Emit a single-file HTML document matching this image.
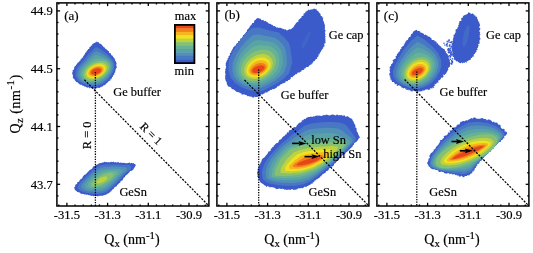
<!DOCTYPE html>
<html><head><meta charset="utf-8"><style>
html,body{margin:0;padding:0;background:#fff;width:533px;height:253px;overflow:hidden;}
svg{display:block;filter:blur(0.3px);}
text{font-family:"Liberation Serif",serif;fill:#000;stroke:#000;stroke-width:0.18px;}
.t{font-size:12.4px;}
.n{font-size:12.6px;}
.p{font-size:13px;}
.ax{font-size:14px;}
.ss{font-size:10.8px;}
</style></head><body>
<svg width="533" height="253" viewBox="0 0 533 253">
<rect width="533" height="253" fill="#fff"/>
<path d="M114.9,71.3 115.4,72.0 115.1,72.5 114.4,72.8 114.5,73.3 114.2,73.8 114.2,74.3 114.1,74.8 113.3,74.9 112.9,75.3 113.4,76.1 112.8,76.3 112.8,76.9 111.9,76.9 112.0,77.5 112.0,78.0 111.4,78.1 111.7,78.9 111.4,79.3 110.5,79.2 110.3,79.5 110.4,80.2 110.3,80.8 109.6,80.7 109.2,80.8 109.0,81.3 108.4,81.3 108.2,81.7 108.1,82.2 107.8,82.5 107.3,82.6 107.0,82.9 106.7,83.1 106.5,83.6 106.1,83.8 105.6,83.9 105.8,84.8 105.3,84.7 104.9,85.0 104.3,84.8 104.3,85.7 103.9,85.8 103.2,85.3 102.9,85.7 102.7,86.3 102.4,86.4 102.1,86.8 101.5,86.6 101.3,87.2 100.8,87.2 100.3,87.1 100.0,87.5 99.6,87.9 99.2,88.0 98.7,87.7 98.3,87.9 97.7,87.5 97.4,87.8 97.0,88.4 96.5,88.2 96.0,88.0 95.7,88.5 95.2,88.8 94.7,88.8 94.3,88.5 93.8,88.5 93.4,88.5 92.9,88.7 92.5,88.4 92.1,88.2 91.6,88.2 91.2,87.7 90.8,87.6 90.2,88.2 89.7,88.4 89.3,87.9 88.8,87.6 88.4,87.3 87.9,87.6 87.2,87.8 86.9,87.5 86.5,87.1 85.9,87.2 85.7,86.4 85.1,86.5 84.5,86.7 84.2,86.2 83.7,85.9 83.3,85.5 82.7,85.5 82.0,85.7 81.9,84.6 81.0,85.1 80.5,84.8 80.0,84.6 79.6,84.2 79.1,83.9 78.7,83.4 78.2,83.1 77.7,82.6 77.3,82.0 76.4,82.3 75.9,81.7 75.8,81.1 75.2,80.7 74.8,80.2 74.6,79.6 74.2,79.1 73.7,78.7 73.3,78.2 72.9,77.7 72.7,77.0 73.1,76.4 72.9,75.8 72.9,75.1 72.5,74.5 72.2,73.9 72.3,73.2 72.3,72.6 72.3,72.0 72.9,71.5 72.5,70.7 72.9,70.1 73.7,69.8 74.0,69.2 74.2,68.6 73.7,67.8 74.4,67.4 74.7,67.0 74.6,66.2 75.2,65.9 75.9,65.6 76.2,65.1 76.3,64.4 76.9,64.2 77.2,63.7 77.3,62.9 77.8,62.7 78.3,62.4 78.6,61.9 79.3,61.8 79.4,61.2 79.7,60.8 80.3,60.6 80.7,60.2 80.4,59.3 81.0,59.2 81.6,59.0 81.6,58.3 81.7,57.8 82.6,57.8 83.0,57.4 83.2,56.9 83.0,56.2 83.8,56.1 83.7,55.3 84.0,54.9 84.5,54.5 85.1,54.2 84.8,53.3 85.2,52.9 85.8,52.5 86.4,52.1 86.4,51.3 87.0,50.9 87.3,50.2 87.9,49.8 88.1,49.1 89.0,49.0 89.4,48.3 89.4,47.3 90.0,46.8 90.9,46.6 91.1,45.6 92.1,45.4 92.2,44.3 93.0,43.7 93.9,43.2 94.7,42.7 95.6,42.4 96.3,41.2 96.7,42.3 97.8,42.0 98.6,42.3 99.1,43.0 99.6,43.8 100.6,43.8 101.4,44.2 101.8,44.9 102.3,45.5 102.8,46.1 103.4,46.7 103.8,47.3 104.7,47.4 105.0,48.0 105.4,48.7 105.9,49.2 106.7,49.2 107.0,49.9 107.6,50.2 107.9,50.9 108.7,51.0 109.2,51.5 108.9,52.5 109.4,52.9 109.9,53.3 110.8,53.3 111.1,53.9 111.1,54.7 111.4,55.2 112.1,55.4 112.6,55.8 113.0,56.2 112.9,57.0 113.7,57.2 113.9,57.7 114.1,58.3 114.9,58.5 114.6,59.4 115.4,59.6 115.1,60.3 115.3,60.9 116.2,61.3 115.7,62.0 116.3,62.4 116.3,63.0 116.7,63.6 116.4,64.2 116.3,64.8 116.2,65.4 116.7,66.0 116.5,66.5 116.8,67.1 116.7,67.7 115.9,68.2 116.3,68.8 115.7,69.2 115.4,69.7 115.3,70.2 115.8,71.0Z" fill="#3b5bcb"/>
<path d="M113.2,71.4 113.0,71.8 112.8,72.3 112.6,72.7 112.4,73.1 112.2,73.5 112.0,73.9 111.8,74.3 111.6,74.7 111.3,75.1 111.1,75.4 110.8,75.8 110.6,76.1 110.4,76.5 110.1,76.8 109.9,77.1 109.7,77.4 109.4,77.8 109.2,78.1 109.0,78.4 108.8,78.7 108.5,79.0 108.2,79.3 107.9,79.5 107.6,79.8 107.3,80.0 107.1,80.3 106.8,80.5 106.5,80.8 106.2,81.0 106.0,81.3 105.7,81.5 105.4,81.7 105.1,82.0 104.9,82.2 104.6,82.4 104.3,82.7 104.0,82.9 103.7,83.0 103.3,83.2 103.0,83.4 102.7,83.5 102.4,83.7 102.0,83.9 101.7,84.0 101.4,84.2 101.1,84.4 100.8,84.5 100.4,84.7 100.1,84.9 99.8,85.1 99.4,85.2 99.1,85.3 98.7,85.4 98.3,85.5 98.0,85.6 97.6,85.7 97.2,85.8 96.9,85.9 96.5,85.9 96.1,86.0 95.7,86.1 95.3,86.2 94.9,86.3 94.5,86.3 94.1,86.3 93.7,86.3 93.4,86.2 93.0,86.2 92.6,86.1 92.2,86.1 91.8,86.1 91.4,86.0 90.9,86.0 90.5,85.9 90.1,85.9 89.7,85.8 89.2,85.8 88.8,85.7 88.4,85.6 88.0,85.4 87.6,85.3 87.2,85.2 86.7,85.0 86.3,84.9 85.9,84.7 85.4,84.6 85.0,84.4 84.5,84.2 84.1,84.1 83.6,83.9 83.2,83.7 82.7,83.5 82.3,83.2 81.8,83.0 81.4,82.7 80.9,82.4 80.5,82.1 80.0,81.8 79.6,81.5 79.1,81.2 78.6,80.9 78.2,80.5 77.8,80.1 77.5,79.7 77.2,79.2 76.9,78.8 76.7,78.3 76.4,77.8 76.1,77.3 75.8,76.8 75.5,76.3 75.5,75.8 75.5,75.2 75.6,74.7 75.6,74.1 75.6,73.6 75.6,73.0 75.7,72.5 75.7,71.9 75.8,71.4 76.0,70.9 76.2,70.4 76.4,69.8 76.6,69.3 76.8,68.9 77.0,68.4 77.2,67.9 77.4,67.4 77.7,67.0 78.0,66.6 78.4,66.2 78.7,65.8 79.1,65.4 79.4,65.0 79.7,64.6 80.0,64.2 80.4,63.9 80.7,63.6 81.0,63.2 81.3,62.9 81.7,62.6 82.0,62.2 82.3,61.9 82.6,61.6 82.9,61.3 83.2,60.9 83.4,60.6 83.7,60.3 84.0,59.9 84.3,59.6 84.6,59.2 84.9,58.9 85.1,58.6 85.4,58.2 85.7,57.9 86.0,57.5 86.3,57.1 86.6,56.8 86.9,56.4 87.2,56.0 87.5,55.5 87.8,55.1 88.1,54.7 88.5,54.2 88.8,53.8 89.2,53.4 89.6,53.0 90.0,52.6 90.4,52.2 90.8,51.7 91.3,51.3 91.7,50.9 92.2,50.4 92.7,49.9 93.2,49.4 93.7,48.9 94.3,48.3 94.9,47.8 95.5,47.4 96.1,47.1 96.7,47.4 97.3,47.6 98.0,47.9 98.5,48.1 99.1,48.5 99.7,48.8 100.2,49.1 100.8,49.5 101.3,49.8 101.8,50.2 102.3,50.5 102.8,50.9 103.3,51.2 103.7,51.5 104.2,51.9 104.7,52.2 105.1,52.5 105.6,52.8 106.0,53.2 106.4,53.5 106.8,53.9 107.2,54.3 107.6,54.6 108.0,55.0 108.4,55.4 108.8,55.7 109.2,56.1 109.5,56.5 109.9,56.8 110.3,57.2 110.6,57.6 111.0,58.0 111.3,58.4 111.7,58.8 112.0,59.2 112.3,59.6 112.7,60.0 113.0,60.4 113.3,60.9 113.6,61.3 113.7,61.8 113.9,62.3 114.0,62.9 114.1,63.4 114.3,63.9 114.4,64.4 114.5,64.9 114.4,65.4 114.4,66.0 114.4,66.5 114.3,67.0 114.3,67.5 114.2,68.0 114.2,68.5 114.1,69.0 114.0,69.5 113.8,70.0 113.6,70.5 113.4,70.9Z" fill="#4878c4"/>
<path d="M111.7,71.4 111.5,71.8 111.3,72.2 111.1,72.6 110.9,73.0 110.7,73.3 110.5,73.7 110.3,74.0 110.1,74.4 109.8,74.7 109.6,75.0 109.4,75.3 109.1,75.6 108.9,75.9 108.7,76.2 108.5,76.5 108.2,76.8 108.0,77.1 107.8,77.4 107.6,77.6 107.4,77.9 107.1,78.2 106.9,78.4 106.6,78.6 106.3,78.8 106.1,79.1 105.8,79.3 105.6,79.5 105.3,79.7 105.1,79.9 104.8,80.1 104.6,80.3 104.3,80.5 104.1,80.7 103.8,80.9 103.6,81.1 103.3,81.3 103.0,81.5 102.8,81.6 102.5,81.8 102.2,81.9 101.9,82.1 101.6,82.2 101.3,82.4 101.1,82.5 100.8,82.7 100.5,82.8 100.2,83.0 99.9,83.1 99.6,83.3 99.3,83.4 99.0,83.5 98.7,83.6 98.4,83.7 98.1,83.8 97.7,83.9 97.4,84.0 97.1,84.1 96.8,84.2 96.4,84.2 96.1,84.3 95.8,84.4 95.4,84.5 95.1,84.6 94.7,84.6 94.4,84.6 94.0,84.6 93.7,84.6 93.3,84.6 92.9,84.5 92.6,84.5 92.2,84.5 91.8,84.5 91.5,84.5 91.1,84.4 90.7,84.4 90.3,84.4 89.9,84.4 89.5,84.3 89.1,84.2 88.8,84.1 88.4,84.0 88.0,83.9 87.6,83.8 87.2,83.7 86.8,83.6 86.4,83.4 85.9,83.3 85.5,83.1 85.1,83.0 84.7,82.8 84.2,82.7 83.8,82.5 83.4,82.2 83.0,82.0 82.6,81.8 82.2,81.5 81.8,81.2 81.4,80.9 81.0,80.7 80.6,80.3 80.2,80.0 79.8,79.7 79.5,79.3 79.2,78.9 79.0,78.5 78.8,78.1 78.5,77.6 78.3,77.2 78.1,76.7 77.9,76.3 77.7,75.8 77.7,75.3 77.7,74.8 77.8,74.3 77.8,73.8 77.8,73.3 77.9,72.8 77.9,72.4 78.0,71.9 78.1,71.4 78.3,70.9 78.5,70.5 78.7,70.0 78.9,69.6 79.1,69.2 79.2,68.7 79.4,68.3 79.6,67.9 79.9,67.5 80.2,67.1 80.5,66.8 80.8,66.4 81.1,66.1 81.4,65.8 81.7,65.4 82.0,65.1 82.3,64.8 82.5,64.5 82.8,64.2 83.1,63.9 83.4,63.6 83.7,63.3 84.0,63.1 84.3,62.8 84.5,62.5 84.8,62.2 85.0,61.9 85.3,61.7 85.5,61.4 85.8,61.1 86.0,60.8 86.3,60.5 86.6,60.2 86.8,60.0 87.1,59.7 87.4,59.4 87.6,59.1 87.9,58.8 88.2,58.4 88.4,58.1 88.7,57.8 89.0,57.5 89.3,57.1 89.6,56.8 89.9,56.4 90.2,56.1 90.6,55.8 90.9,55.5 91.3,55.1 91.7,54.8 92.0,54.5 92.4,54.1 92.8,53.8 93.2,53.4 93.7,53.0 94.1,52.6 94.6,52.2 95.1,51.8 95.6,51.5 96.1,51.2 96.6,51.4 97.1,51.5 97.7,51.7 98.2,51.9 98.6,52.1 99.1,52.3 99.6,52.5 100.1,52.8 100.5,53.0 101.0,53.2 101.4,53.5 101.8,53.7 102.3,53.9 102.7,54.2 103.1,54.4 103.6,54.6 104.0,54.9 104.4,55.1 104.8,55.3 105.2,55.6 105.6,55.9 106.0,56.2 106.4,56.4 106.8,56.7 107.2,57.0 107.5,57.3 107.9,57.6 108.3,57.9 108.7,58.2 109.0,58.5 109.4,58.8 109.7,59.2 110.0,59.5 110.4,59.8 110.7,60.2 111.0,60.6 111.3,60.9 111.6,61.3 111.9,61.7 112.1,62.1 112.3,62.6 112.5,63.1 112.6,63.5 112.7,64.0 112.8,64.5 112.9,64.9 113.0,65.4 113.0,65.9 112.9,66.4 112.9,66.9 112.8,67.4 112.8,67.9 112.7,68.3 112.6,68.8 112.6,69.2 112.4,69.7 112.2,70.1 112.0,70.6 111.9,71.0Z" fill="#5191b6"/>
<path d="M110.3,71.4 110.1,71.8 109.9,72.1 109.7,72.5 109.5,72.8 109.3,73.1 109.1,73.5 108.9,73.8 108.7,74.1 108.5,74.4 108.3,74.7 108.0,74.9 107.8,75.2 107.6,75.5 107.4,75.7 107.2,76.0 107.0,76.2 106.8,76.5 106.5,76.7 106.3,77.0 106.1,77.2 105.9,77.4 105.7,77.6 105.4,77.8 105.2,78.0 105.0,78.2 104.7,78.4 104.5,78.6 104.3,78.8 104.0,78.9 103.8,79.1 103.6,79.3 103.4,79.5 103.1,79.6 102.9,79.8 102.7,80.0 102.4,80.1 102.2,80.3 101.9,80.4 101.7,80.5 101.5,80.7 101.2,80.8 101.0,80.9 100.7,81.1 100.5,81.2 100.2,81.3 100.0,81.4 99.7,81.6 99.4,81.7 99.2,81.8 98.9,81.9 98.7,82.0 98.4,82.1 98.1,82.2 97.8,82.3 97.5,82.4 97.3,82.5 97.0,82.6 96.7,82.6 96.4,82.7 96.1,82.8 95.8,82.9 95.5,82.9 95.2,83.0 94.9,83.1 94.6,83.1 94.2,83.1 93.9,83.1 93.6,83.1 93.3,83.1 93.0,83.1 92.6,83.1 92.3,83.1 91.9,83.1 91.6,83.1 91.3,83.1 90.9,83.1 90.5,83.1 90.2,83.1 89.8,83.0 89.4,82.9 89.1,82.9 88.7,82.8 88.3,82.7 88.0,82.6 87.6,82.5 87.2,82.4 86.8,82.3 86.4,82.2 86.0,82.0 85.6,81.9 85.2,81.7 84.8,81.6 84.4,81.4 84.1,81.1 83.7,80.9 83.3,80.7 83.0,80.4 82.6,80.2 82.3,79.9 81.9,79.6 81.6,79.3 81.3,79.0 81.0,78.6 80.8,78.2 80.6,77.8 80.4,77.4 80.2,77.0 80.1,76.6 79.9,76.2 79.8,75.8 79.7,75.3 79.7,74.9 79.7,74.4 79.7,74.0 79.8,73.5 79.8,73.1 79.9,72.7 80.0,72.2 80.1,71.8 80.2,71.4 80.4,71.0 80.5,70.6 80.7,70.2 80.9,69.8 81.1,69.4 81.3,69.1 81.5,68.7 81.7,68.3 81.9,68.0 82.1,67.7 82.4,67.3 82.7,67.0 82.9,66.7 83.2,66.4 83.4,66.2 83.7,65.9 84.0,65.6 84.2,65.3 84.5,65.1 84.7,64.8 85.0,64.6 85.2,64.3 85.5,64.1 85.7,63.9 86.0,63.6 86.2,63.4 86.4,63.1 86.7,62.9 86.9,62.7 87.1,62.4 87.4,62.2 87.6,62.0 87.9,61.8 88.1,61.5 88.3,61.3 88.6,61.1 88.8,60.8 89.1,60.6 89.3,60.3 89.6,60.1 89.8,59.8 90.1,59.6 90.3,59.3 90.6,59.0 90.9,58.8 91.2,58.5 91.5,58.3 91.8,58.0 92.1,57.8 92.4,57.6 92.7,57.3 93.0,57.0 93.4,56.8 93.7,56.5 94.1,56.2 94.5,55.9 94.9,55.6 95.3,55.3 95.7,55.1 96.1,54.9 96.5,55.0 97.0,55.1 97.4,55.2 97.8,55.2 98.2,55.4 98.6,55.5 99.0,55.6 99.4,55.7 99.8,55.9 100.2,56.0 100.6,56.1 101.0,56.3 101.4,56.4 101.8,56.5 102.2,56.7 102.6,56.8 103.0,57.0 103.4,57.1 103.8,57.3 104.1,57.5 104.5,57.7 104.9,57.8 105.3,58.0 105.7,58.2 106.0,58.5 106.4,58.7 106.8,58.9 107.2,59.1 107.5,59.4 107.9,59.6 108.2,59.9 108.6,60.2 108.9,60.5 109.2,60.8 109.5,61.1 109.8,61.4 110.1,61.8 110.4,62.1 110.6,62.5 110.9,62.9 111.0,63.3 111.2,63.7 111.3,64.1 111.4,64.6 111.5,65.0 111.6,65.5 111.6,65.9 111.6,66.4 111.6,66.8 111.5,67.3 111.5,67.7 111.4,68.1 111.3,68.6 111.3,69.0 111.2,69.4 111.0,69.8 110.8,70.2 110.7,70.6 110.5,71.0Z" fill="#59a3a6"/>
<path d="M109.0,71.4 108.8,71.7 108.6,72.1 108.4,72.4 108.3,72.7 108.1,73.0 107.9,73.3 107.7,73.5 107.4,73.8 107.2,74.1 107.0,74.3 106.8,74.6 106.6,74.8 106.4,75.0 106.2,75.3 106.0,75.5 105.8,75.7 105.6,75.9 105.4,76.1 105.2,76.3 105.0,76.5 104.8,76.7 104.5,76.9 104.3,77.1 104.1,77.2 103.9,77.4 103.7,77.5 103.5,77.7 103.3,77.9 103.1,78.0 102.9,78.2 102.7,78.3 102.4,78.5 102.2,78.6 102.0,78.7 101.8,78.9 101.6,79.0 101.4,79.1 101.2,79.2 101.0,79.4 100.8,79.5 100.5,79.6 100.3,79.7 100.1,79.8 99.9,79.9 99.7,80.0 99.5,80.1 99.2,80.2 99.0,80.3 98.8,80.5 98.6,80.6 98.3,80.6 98.1,80.7 97.8,80.8 97.6,80.9 97.4,81.0 97.1,81.1 96.9,81.1 96.6,81.2 96.4,81.3 96.1,81.4 95.8,81.4 95.6,81.5 95.3,81.6 95.0,81.6 94.8,81.7 94.5,81.7 94.2,81.7 93.9,81.8 93.6,81.8 93.3,81.8 93.0,81.8 92.7,81.8 92.4,81.9 92.1,81.9 91.8,81.9 91.4,81.9 91.1,81.9 90.8,81.9 90.4,81.9 90.1,81.8 89.7,81.8 89.4,81.7 89.0,81.7 88.7,81.6 88.3,81.5 88.0,81.5 87.6,81.4 87.2,81.3 86.9,81.1 86.5,81.0 86.1,80.9 85.8,80.7 85.4,80.5 85.1,80.3 84.7,80.1 84.4,79.9 84.1,79.7 83.8,79.4 83.5,79.1 83.2,78.9 82.9,78.6 82.7,78.2 82.4,77.9 82.3,77.6 82.1,77.2 81.9,76.8 81.8,76.5 81.7,76.1 81.6,75.7 81.5,75.3 81.5,74.9 81.5,74.5 81.5,74.1 81.6,73.7 81.7,73.3 81.7,72.9 81.8,72.5 81.9,72.1 82.0,71.8 82.1,71.4 82.3,71.0 82.5,70.7 82.6,70.3 82.8,70.0 83.0,69.7 83.2,69.4 83.3,69.0 83.5,68.7 83.7,68.4 84.0,68.1 84.2,67.9 84.4,67.6 84.6,67.3 84.9,67.1 85.1,66.8 85.3,66.6 85.5,66.4 85.8,66.1 86.0,65.9 86.2,65.7 86.4,65.5 86.7,65.3 86.9,65.1 87.1,64.9 87.3,64.7 87.5,64.5 87.8,64.3 88.0,64.1 88.2,63.9 88.4,63.7 88.6,63.5 88.8,63.3 89.1,63.2 89.3,63.0 89.5,62.8 89.7,62.6 89.9,62.4 90.2,62.3 90.4,62.1 90.6,61.9 90.8,61.7 91.1,61.5 91.3,61.3 91.5,61.2 91.8,61.0 92.0,60.8 92.3,60.6 92.5,60.5 92.8,60.3 93.1,60.1 93.3,59.9 93.6,59.8 93.9,59.6 94.2,59.4 94.5,59.2 94.8,59.0 95.1,58.9 95.4,58.7 95.8,58.5 96.1,58.4 96.4,58.4 96.8,58.4 97.1,58.4 97.5,58.4 97.8,58.4 98.2,58.4 98.5,58.5 98.8,58.5 99.2,58.5 99.5,58.6 99.9,58.6 100.2,58.7 100.6,58.7 100.9,58.8 101.3,58.8 101.7,58.9 102.0,58.9 102.4,59.0 102.8,59.1 103.1,59.2 103.5,59.3 103.9,59.4 104.2,59.5 104.6,59.7 105.0,59.8 105.4,60.0 105.7,60.1 106.1,60.3 106.5,60.5 106.8,60.7 107.1,60.9 107.5,61.2 107.8,61.4 108.1,61.7 108.4,61.9 108.7,62.2 109.0,62.5 109.2,62.9 109.5,63.2 109.7,63.6 109.8,63.9 110.0,64.3 110.1,64.7 110.2,65.1 110.3,65.5 110.4,65.9 110.4,66.3 110.4,66.8 110.3,67.2 110.3,67.6 110.2,68.0 110.2,68.4 110.1,68.8 110.0,69.2 109.8,69.6 109.7,70.0 109.5,70.3 109.4,70.7 109.2,71.1Z" fill="#66b296"/>
<path d="M107.8,71.4 107.6,71.7 107.4,72.0 107.2,72.3 107.0,72.5 106.8,72.8 106.6,73.1 106.4,73.3 106.2,73.6 106.0,73.8 105.8,74.0 105.6,74.2 105.4,74.4 105.2,74.6 105.0,74.8 104.8,75.0 104.6,75.2 104.4,75.4 104.2,75.5 104.0,75.7 103.9,75.9 103.7,76.0 103.5,76.2 103.3,76.3 103.1,76.5 102.9,76.6 102.7,76.7 102.5,76.9 102.3,77.0 102.1,77.1 102.0,77.3 101.8,77.4 101.6,77.5 101.4,77.6 101.2,77.7 101.0,77.8 100.8,77.9 100.7,78.0 100.5,78.1 100.3,78.2 100.1,78.3 99.9,78.4 99.7,78.5 99.5,78.6 99.4,78.7 99.2,78.8 99.0,78.9 98.8,79.0 98.6,79.1 98.4,79.2 98.2,79.2 98.0,79.3 97.8,79.4 97.6,79.5 97.4,79.6 97.2,79.6 97.0,79.7 96.8,79.8 96.5,79.8 96.3,79.9 96.1,80.0 95.9,80.1 95.6,80.1 95.4,80.2 95.2,80.2 94.9,80.3 94.7,80.4 94.4,80.4 94.2,80.5 93.9,80.5 93.6,80.6 93.4,80.6 93.1,80.6 92.8,80.7 92.5,80.7 92.2,80.7 91.9,80.7 91.6,80.8 91.3,80.8 91.0,80.8 90.7,80.8 90.4,80.8 90.0,80.7 89.7,80.7 89.4,80.7 89.0,80.6 88.7,80.6 88.3,80.5 88.0,80.4 87.7,80.3 87.3,80.2 87.0,80.1 86.7,79.9 86.3,79.8 86.0,79.6 85.7,79.4 85.4,79.2 85.1,78.9 84.9,78.7 84.6,78.4 84.4,78.2 84.2,77.9 84.0,77.6 83.8,77.3 83.6,76.9 83.5,76.6 83.4,76.3 83.3,75.9 83.3,75.6 83.2,75.2 83.2,74.9 83.2,74.5 83.2,74.1 83.3,73.8 83.3,73.4 83.4,73.1 83.5,72.7 83.6,72.4 83.7,72.0 83.9,71.7 84.0,71.4 84.1,71.1 84.3,70.8 84.4,70.5 84.6,70.2 84.8,69.9 85.0,69.6 85.1,69.4 85.3,69.1 85.5,68.9 85.7,68.6 85.9,68.4 86.1,68.1 86.3,67.9 86.5,67.7 86.7,67.5 86.9,67.3 87.0,67.1 87.2,66.9 87.4,66.7 87.6,66.5 87.8,66.3 88.0,66.2 88.2,66.0 88.4,65.8 88.6,65.7 88.8,65.5 89.0,65.4 89.2,65.2 89.4,65.1 89.6,64.9 89.8,64.8 90.0,64.6 90.2,64.5 90.4,64.4 90.6,64.2 90.8,64.1 91.0,64.0 91.2,63.9 91.4,63.7 91.6,63.6 91.8,63.5 92.0,63.4 92.2,63.3 92.4,63.2 92.7,63.1 92.9,63.0 93.1,62.9 93.3,62.8 93.5,62.7 93.7,62.6 94.0,62.5 94.2,62.4 94.4,62.3 94.6,62.2 94.9,62.1 95.1,62.0 95.4,61.9 95.6,61.8 95.8,61.8 96.1,61.7 96.4,61.6 96.6,61.5 96.9,61.4 97.2,61.4 97.4,61.3 97.7,61.2 98.0,61.2 98.3,61.1 98.6,61.1 98.9,61.0 99.2,61.0 99.5,60.9 99.8,60.9 100.1,60.9 100.5,60.9 100.8,60.8 101.1,60.8 101.5,60.8 101.8,60.8 102.2,60.9 102.5,60.9 102.9,60.9 103.3,61.0 103.6,61.0 104.0,61.1 104.4,61.2 104.7,61.3 105.1,61.4 105.4,61.6 105.8,61.7 106.1,61.9 106.5,62.1 106.8,62.3 107.1,62.5 107.4,62.7 107.7,63.0 107.9,63.3 108.1,63.6 108.4,63.9 108.6,64.2 108.7,64.6 108.9,64.9 109.0,65.3 109.1,65.6 109.1,66.0 109.2,66.4 109.2,66.8 109.2,67.2 109.2,67.5 109.1,67.9 109.0,68.3 108.9,68.7 108.8,69.0 108.7,69.4 108.6,69.8 108.5,70.1 108.3,70.4 108.1,70.8 108.0,71.1Z" fill="#86c070"/>
<path d="M106.0,71.4 105.9,71.7 105.7,71.9 105.5,72.1 105.4,72.4 105.2,72.6 105.0,72.8 104.9,73.0 104.7,73.2 104.5,73.4 104.3,73.6 104.2,73.8 104.0,74.0 103.8,74.1 103.6,74.3 103.5,74.5 103.3,74.6 103.1,74.8 103.0,74.9 102.8,75.0 102.6,75.2 102.5,75.3 102.3,75.4 102.1,75.5 102.0,75.7 101.8,75.8 101.6,75.9 101.5,76.0 101.3,76.1 101.2,76.2 101.0,76.3 100.9,76.4 100.7,76.5 100.5,76.6 100.4,76.7 100.2,76.8 100.1,76.9 99.9,77.0 99.8,77.0 99.6,77.1 99.5,77.2 99.3,77.3 99.1,77.4 99.0,77.4 98.8,77.5 98.7,77.6 98.5,77.7 98.3,77.7 98.2,77.8 98.0,77.9 97.9,77.9 97.7,78.0 97.5,78.1 97.3,78.1 97.2,78.2 97.0,78.3 96.8,78.3 96.6,78.4 96.5,78.4 96.3,78.5 96.1,78.5 95.9,78.6 95.7,78.6 95.5,78.7 95.3,78.7 95.1,78.8 94.9,78.8 94.7,78.9 94.5,78.9 94.3,79.0 94.1,79.0 93.8,79.0 93.6,79.1 93.4,79.1 93.1,79.1 92.9,79.1 92.6,79.2 92.4,79.2 92.1,79.2 91.9,79.2 91.6,79.2 91.3,79.2 91.1,79.1 90.8,79.1 90.5,79.1 90.2,79.1 89.9,79.0 89.7,78.9 89.4,78.9 89.1,78.8 88.8,78.7 88.5,78.6 88.2,78.5 87.9,78.4 87.7,78.2 87.4,78.1 87.2,77.9 86.9,77.7 86.7,77.5 86.5,77.3 86.3,77.1 86.1,76.8 85.9,76.6 85.8,76.3 85.6,76.1 85.5,75.8 85.4,75.5 85.3,75.2 85.3,74.9 85.2,74.6 85.2,74.3 85.2,74.0 85.2,73.7 85.3,73.4 85.3,73.1 85.4,72.8 85.5,72.5 85.6,72.2 85.6,71.9 85.8,71.7 85.9,71.4 86.0,71.1 86.1,70.9 86.3,70.6 86.4,70.4 86.6,70.1 86.7,69.9 86.9,69.7 87.0,69.5 87.2,69.3 87.4,69.1 87.5,68.9 87.7,68.7 87.9,68.5 88.0,68.3 88.2,68.1 88.4,68.0 88.5,67.8 88.7,67.6 88.9,67.5 89.0,67.3 89.2,67.2 89.4,67.0 89.6,66.9 89.7,66.8 89.9,66.6 90.1,66.5 90.2,66.4 90.4,66.3 90.6,66.1 90.7,66.0 90.9,65.9 91.1,65.8 91.2,65.7 91.4,65.6 91.6,65.5 91.7,65.4 91.9,65.3 92.1,65.2 92.2,65.1 92.4,65.0 92.6,64.9 92.7,64.8 92.9,64.7 93.1,64.6 93.3,64.5 93.4,64.4 93.6,64.4 93.8,64.3 94.0,64.2 94.1,64.1 94.3,64.0 94.5,64.0 94.7,63.9 94.9,63.8 95.1,63.7 95.3,63.7 95.5,63.6 95.7,63.5 95.9,63.5 96.1,63.4 96.3,63.3 96.5,63.3 96.7,63.2 97.0,63.2 97.2,63.1 97.4,63.1 97.7,63.0 97.9,63.0 98.1,62.9 98.4,62.9 98.6,62.9 98.9,62.8 99.1,62.8 99.4,62.8 99.7,62.8 100.0,62.7 100.2,62.7 100.5,62.7 100.8,62.7 101.1,62.7 101.4,62.8 101.7,62.8 102.0,62.8 102.3,62.9 102.6,62.9 102.9,63.0 103.2,63.1 103.5,63.2 103.8,63.3 104.1,63.4 104.4,63.5 104.7,63.7 104.9,63.9 105.2,64.0 105.4,64.2 105.7,64.4 105.9,64.7 106.1,64.9 106.3,65.2 106.5,65.4 106.6,65.7 106.8,66.0 106.9,66.3 107.0,66.6 107.0,66.9 107.1,67.2 107.1,67.5 107.1,67.8 107.1,68.1 107.1,68.5 107.0,68.8 107.0,69.1 106.9,69.4 106.8,69.7 106.7,70.0 106.6,70.3 106.4,70.6 106.3,70.9 106.2,71.1Z" fill="#bcd242"/>
<path d="M104.6,71.4 104.4,71.6 104.3,71.8 104.2,72.0 104.0,72.2 103.9,72.4 103.7,72.6 103.6,72.8 103.4,73.0 103.3,73.1 103.1,73.3 103.0,73.4 102.8,73.6 102.7,73.7 102.5,73.9 102.4,74.0 102.2,74.1 102.1,74.3 101.9,74.4 101.8,74.5 101.6,74.6 101.5,74.7 101.4,74.8 101.2,74.9 101.1,75.0 100.9,75.1 100.8,75.2 100.7,75.3 100.5,75.4 100.4,75.5 100.3,75.6 100.1,75.6 100.0,75.7 99.8,75.8 99.7,75.9 99.6,75.9 99.5,76.0 99.3,76.1 99.2,76.2 99.1,76.2 98.9,76.3 98.8,76.4 98.7,76.4 98.5,76.5 98.4,76.5 98.3,76.6 98.1,76.7 98.0,76.7 97.8,76.8 97.7,76.8 97.6,76.9 97.4,76.9 97.3,77.0 97.1,77.0 97.0,77.1 96.9,77.1 96.7,77.2 96.6,77.2 96.4,77.3 96.3,77.3 96.1,77.4 95.9,77.4 95.8,77.5 95.6,77.5 95.5,77.5 95.3,77.6 95.1,77.6 94.9,77.7 94.8,77.7 94.6,77.7 94.4,77.8 94.2,77.8 94.0,77.8 93.8,77.8 93.6,77.8 93.4,77.9 93.2,77.9 93.0,77.9 92.8,77.9 92.6,77.9 92.4,77.9 92.1,77.9 91.9,77.9 91.7,77.9 91.4,77.8 91.2,77.8 90.9,77.8 90.7,77.7 90.5,77.7 90.2,77.6 90.0,77.5 89.7,77.4 89.5,77.3 89.3,77.2 89.0,77.1 88.8,77.0 88.6,76.9 88.4,76.7 88.2,76.6 88.0,76.4 87.8,76.2 87.6,76.0 87.5,75.8 87.3,75.6 87.2,75.4 87.1,75.1 87.0,74.9 86.9,74.6 86.9,74.4 86.9,74.1 86.8,73.9 86.8,73.6 86.8,73.4 86.9,73.1 86.9,72.9 87.0,72.6 87.0,72.4 87.1,72.1 87.2,71.9 87.3,71.6 87.4,71.4 87.5,71.2 87.6,71.0 87.8,70.7 87.9,70.5 88.0,70.3 88.2,70.1 88.3,70.0 88.4,69.8 88.6,69.6 88.7,69.4 88.9,69.3 89.0,69.1 89.2,68.9 89.3,68.8 89.4,68.6 89.6,68.5 89.7,68.4 89.9,68.2 90.0,68.1 90.2,68.0 90.3,67.9 90.5,67.7 90.6,67.6 90.8,67.5 90.9,67.4 91.0,67.3 91.2,67.2 91.3,67.1 91.5,67.0 91.6,66.9 91.7,66.8 91.9,66.7 92.0,66.6 92.2,66.5 92.3,66.5 92.5,66.4 92.6,66.3 92.7,66.2 92.9,66.1 93.0,66.1 93.2,66.0 93.3,65.9 93.4,65.8 93.6,65.8 93.7,65.7 93.9,65.6 94.0,65.6 94.2,65.5 94.3,65.4 94.5,65.4 94.6,65.3 94.8,65.3 94.9,65.2 95.1,65.1 95.3,65.1 95.4,65.0 95.6,65.0 95.8,64.9 95.9,64.9 96.1,64.8 96.3,64.8 96.5,64.7 96.6,64.7 96.8,64.6 97.0,64.6 97.2,64.5 97.4,64.5 97.6,64.5 97.8,64.4 98.0,64.4 98.2,64.4 98.4,64.3 98.6,64.3 98.8,64.3 99.1,64.3 99.3,64.3 99.5,64.3 99.7,64.3 100.0,64.3 100.2,64.3 100.5,64.3 100.7,64.3 101.0,64.3 101.2,64.4 101.5,64.4 101.7,64.5 102.0,64.5 102.2,64.6 102.5,64.7 102.7,64.8 103.0,64.9 103.2,65.0 103.4,65.1 103.7,65.3 103.9,65.4 104.1,65.6 104.3,65.8 104.5,66.0 104.6,66.2 104.8,66.4 104.9,66.6 105.1,66.8 105.2,67.1 105.3,67.3 105.3,67.6 105.4,67.8 105.4,68.1 105.4,68.4 105.4,68.6 105.4,68.9 105.4,69.2 105.4,69.4 105.3,69.7 105.2,70.0 105.1,70.2 105.0,70.5 104.9,70.7 104.8,70.9 104.7,71.2Z" fill="#efe21e"/>
<path d="M103.3,71.4 103.1,71.6 103.0,71.8 102.9,71.9 102.8,72.1 102.7,72.3 102.5,72.4 102.4,72.6 102.3,72.7 102.1,72.8 102.0,73.0 101.9,73.1 101.7,73.2 101.6,73.4 101.5,73.5 101.4,73.6 101.2,73.7 101.1,73.8 101.0,73.9 100.9,74.0 100.7,74.1 100.6,74.2 100.5,74.2 100.4,74.3 100.2,74.4 100.1,74.5 100.0,74.6 99.9,74.6 99.8,74.7 99.7,74.8 99.6,74.9 99.4,74.9 99.3,75.0 99.2,75.0 99.1,75.1 99.0,75.2 98.9,75.2 98.8,75.3 98.7,75.3 98.5,75.4 98.4,75.4 98.3,75.5 98.2,75.5 98.1,75.6 98.0,75.6 97.9,75.7 97.8,75.7 97.7,75.8 97.5,75.8 97.4,75.9 97.3,75.9 97.2,76.0 97.1,76.0 97.0,76.0 96.8,76.1 96.7,76.1 96.6,76.2 96.5,76.2 96.4,76.2 96.2,76.3 96.1,76.3 96.0,76.3 95.8,76.4 95.7,76.4 95.6,76.4 95.4,76.5 95.3,76.5 95.2,76.5 95.0,76.5 94.9,76.6 94.7,76.6 94.6,76.6 94.4,76.6 94.2,76.7 94.1,76.7 93.9,76.7 93.7,76.7 93.6,76.7 93.4,76.7 93.2,76.7 93.0,76.7 92.8,76.7 92.7,76.7 92.5,76.7 92.3,76.7 92.1,76.6 91.9,76.6 91.7,76.6 91.5,76.5 91.3,76.5 91.1,76.4 90.9,76.4 90.7,76.3 90.5,76.2 90.3,76.1 90.1,76.0 89.9,75.9 89.7,75.8 89.5,75.7 89.4,75.5 89.2,75.4 89.0,75.2 88.9,75.1 88.8,74.9 88.7,74.7 88.6,74.5 88.5,74.3 88.4,74.1 88.4,73.9 88.3,73.7 88.3,73.5 88.3,73.3 88.3,73.1 88.3,72.8 88.4,72.6 88.4,72.4 88.5,72.2 88.5,72.0 88.6,71.8 88.7,71.6 88.8,71.4 88.9,71.2 89.0,71.0 89.1,70.9 89.2,70.7 89.3,70.5 89.5,70.3 89.6,70.2 89.7,70.0 89.8,69.9 90.0,69.8 90.1,69.6 90.2,69.5 90.3,69.4 90.5,69.2 90.6,69.1 90.7,69.0 90.8,68.9 91.0,68.8 91.1,68.7 91.2,68.6 91.3,68.5 91.5,68.4 91.6,68.3 91.7,68.2 91.8,68.1 92.0,68.0 92.1,68.0 92.2,67.9 92.3,67.8 92.4,67.7 92.5,67.7 92.7,67.6 92.8,67.5 92.9,67.4 93.0,67.4 93.1,67.3 93.2,67.3 93.4,67.2 93.5,67.1 93.6,67.1 93.7,67.0 93.8,67.0 94.0,66.9 94.1,66.8 94.2,66.8 94.3,66.7 94.4,66.7 94.6,66.6 94.7,66.6 94.8,66.5 94.9,66.5 95.0,66.4 95.2,66.4 95.3,66.3 95.4,66.3 95.6,66.3 95.7,66.2 95.8,66.2 96.0,66.1 96.1,66.1 96.2,66.1 96.4,66.0 96.5,66.0 96.7,65.9 96.8,65.9 97.0,65.9 97.1,65.9 97.3,65.8 97.4,65.8 97.6,65.8 97.8,65.8 97.9,65.7 98.1,65.7 98.3,65.7 98.5,65.7 98.6,65.7 98.8,65.7 99.0,65.7 99.2,65.7 99.4,65.7 99.6,65.7 99.8,65.7 100.0,65.7 100.2,65.7 100.4,65.8 100.6,65.8 100.8,65.9 101.0,65.9 101.2,66.0 101.5,66.0 101.7,66.1 101.9,66.2 102.1,66.3 102.3,66.4 102.4,66.5 102.6,66.7 102.8,66.8 103.0,66.9 103.1,67.1 103.3,67.3 103.4,67.4 103.5,67.6 103.6,67.8 103.7,68.0 103.8,68.2 103.8,68.4 103.9,68.6 103.9,68.9 103.9,69.1 103.9,69.3 103.9,69.5 103.9,69.7 103.8,70.0 103.8,70.2 103.7,70.4 103.6,70.6 103.5,70.8 103.5,71.0 103.4,71.2Z" fill="#f6b420"/>
<path d="M102.0,71.4 101.9,71.6 101.8,71.7 101.7,71.8 101.6,72.0 101.5,72.1 101.4,72.2 101.3,72.4 101.2,72.5 101.1,72.6 100.9,72.7 100.8,72.8 100.7,72.9 100.6,73.0 100.5,73.1 100.4,73.2 100.3,73.3 100.2,73.3 100.1,73.4 100.0,73.5 99.9,73.6 99.8,73.6 99.7,73.7 99.6,73.8 99.5,73.8 99.4,73.9 99.3,74.0 99.2,74.0 99.1,74.1 99.0,74.1 98.9,74.2 98.8,74.2 98.7,74.3 98.6,74.3 98.5,74.4 98.4,74.4 98.3,74.5 98.2,74.5 98.1,74.6 98.1,74.6 98.0,74.6 97.9,74.7 97.8,74.7 97.7,74.8 97.6,74.8 97.5,74.8 97.4,74.9 97.3,74.9 97.2,74.9 97.2,75.0 97.1,75.0 97.0,75.0 96.9,75.1 96.8,75.1 96.7,75.1 96.6,75.1 96.5,75.2 96.4,75.2 96.3,75.2 96.2,75.3 96.1,75.3 96.0,75.3 95.9,75.3 95.8,75.4 95.7,75.4 95.6,75.4 95.5,75.4 95.4,75.4 95.2,75.5 95.1,75.5 95.0,75.5 94.9,75.5 94.8,75.5 94.6,75.5 94.5,75.6 94.4,75.6 94.2,75.6 94.1,75.6 94.0,75.6 93.8,75.6 93.7,75.6 93.5,75.6 93.4,75.6 93.2,75.6 93.1,75.6 92.9,75.5 92.8,75.5 92.6,75.5 92.4,75.5 92.3,75.4 92.1,75.4 91.9,75.4 91.8,75.3 91.6,75.2 91.4,75.2 91.3,75.1 91.1,75.0 91.0,74.9 90.8,74.8 90.7,74.7 90.5,74.6 90.4,74.5 90.3,74.4 90.2,74.2 90.1,74.1 90.0,73.9 89.9,73.8 89.8,73.6 89.8,73.4 89.8,73.3 89.7,73.1 89.7,72.9 89.7,72.8 89.7,72.6 89.8,72.4 89.8,72.2 89.9,72.1 89.9,71.9 90.0,71.7 90.1,71.6 90.1,71.4 90.2,71.2 90.3,71.1 90.4,71.0 90.5,70.8 90.6,70.7 90.7,70.5 90.8,70.4 90.9,70.3 91.0,70.2 91.1,70.1 91.2,70.0 91.4,69.9 91.5,69.8 91.6,69.7 91.7,69.6 91.8,69.5 91.9,69.4 92.0,69.3 92.1,69.2 92.2,69.2 92.3,69.1 92.4,69.0 92.5,68.9 92.6,68.9 92.7,68.8 92.8,68.7 92.9,68.7 93.0,68.6 93.1,68.6 93.2,68.5 93.3,68.5 93.4,68.4 93.5,68.3 93.6,68.3 93.7,68.2 93.8,68.2 93.9,68.2 94.0,68.1 94.1,68.1 94.1,68.0 94.2,68.0 94.3,67.9 94.4,67.9 94.5,67.9 94.6,67.8 94.7,67.8 94.8,67.7 94.9,67.7 95.0,67.7 95.1,67.6 95.2,67.6 95.3,67.6 95.4,67.5 95.5,67.5 95.6,67.5 95.7,67.4 95.8,67.4 95.9,67.4 96.0,67.3 96.1,67.3 96.2,67.3 96.3,67.3 96.4,67.2 96.5,67.2 96.7,67.2 96.8,67.2 96.9,67.1 97.0,67.1 97.1,67.1 97.3,67.1 97.4,67.1 97.5,67.1 97.6,67.0 97.8,67.0 97.9,67.0 98.1,67.0 98.2,67.0 98.3,67.0 98.5,67.0 98.6,67.0 98.8,67.0 98.9,67.0 99.1,67.0 99.3,67.0 99.4,67.1 99.6,67.1 99.8,67.1 99.9,67.2 100.1,67.2 100.3,67.2 100.4,67.3 100.6,67.4 100.8,67.4 100.9,67.5 101.1,67.6 101.2,67.7 101.4,67.8 101.5,67.9 101.7,68.0 101.8,68.1 101.9,68.2 102.0,68.4 102.1,68.5 102.2,68.7 102.3,68.8 102.4,69.0 102.4,69.2 102.5,69.3 102.5,69.5 102.5,69.7 102.5,69.9 102.5,70.0 102.4,70.2 102.4,70.4 102.4,70.6 102.3,70.7 102.2,70.9 102.2,71.1 102.1,71.2Z" fill="#f27e1a"/>
<path d="M100.8,71.4 100.7,71.5 100.6,71.6 100.5,71.8 100.5,71.9 100.4,72.0 100.3,72.1 100.2,72.2 100.1,72.3 100.0,72.3 99.9,72.4 99.8,72.5 99.7,72.6 99.6,72.7 99.6,72.7 99.5,72.8 99.4,72.9 99.3,72.9 99.2,73.0 99.1,73.0 99.0,73.1 99.0,73.1 98.9,73.2 98.8,73.2 98.7,73.3 98.6,73.3 98.5,73.4 98.5,73.4 98.4,73.5 98.3,73.5 98.2,73.5 98.2,73.6 98.1,73.6 98.0,73.6 97.9,73.7 97.9,73.7 97.8,73.7 97.7,73.8 97.7,73.8 97.6,73.8 97.5,73.9 97.5,73.9 97.4,73.9 97.3,73.9 97.2,74.0 97.2,74.0 97.1,74.0 97.0,74.0 97.0,74.1 96.9,74.1 96.8,74.1 96.8,74.1 96.7,74.1 96.6,74.2 96.5,74.2 96.5,74.2 96.4,74.2 96.3,74.2 96.3,74.3 96.2,74.3 96.1,74.3 96.0,74.3 95.9,74.3 95.9,74.3 95.8,74.4 95.7,74.4 95.6,74.4 95.5,74.4 95.5,74.4 95.4,74.4 95.3,74.4 95.2,74.5 95.1,74.5 95.0,74.5 94.9,74.5 94.8,74.5 94.7,74.5 94.6,74.5 94.5,74.5 94.4,74.5 94.3,74.5 94.2,74.5 94.1,74.5 94.0,74.5 93.9,74.5 93.7,74.5 93.6,74.5 93.5,74.5 93.4,74.4 93.2,74.4 93.1,74.4 93.0,74.4 92.8,74.3 92.7,74.3 92.6,74.3 92.4,74.2 92.3,74.2 92.2,74.1 92.1,74.0 91.9,74.0 91.8,73.9 91.7,73.8 91.6,73.7 91.5,73.6 91.4,73.5 91.3,73.4 91.3,73.3 91.2,73.1 91.2,73.0 91.1,72.9 91.1,72.7 91.1,72.6 91.1,72.5 91.1,72.3 91.1,72.2 91.1,72.1 91.2,71.9 91.2,71.8 91.3,71.7 91.4,71.5 91.4,71.4 91.5,71.3 91.6,71.2 91.7,71.0 91.7,70.9 91.8,70.8 91.9,70.7 92.0,70.6 92.1,70.5 92.2,70.5 92.3,70.4 92.4,70.3 92.5,70.2 92.6,70.1 92.6,70.1 92.7,70.0 92.8,69.9 92.9,69.9 93.0,69.8 93.1,69.8 93.2,69.7 93.2,69.7 93.3,69.6 93.4,69.6 93.5,69.5 93.6,69.5 93.7,69.4 93.7,69.4 93.8,69.3 93.9,69.3 94.0,69.3 94.0,69.2 94.1,69.2 94.2,69.2 94.3,69.1 94.3,69.1 94.4,69.1 94.5,69.0 94.5,69.0 94.6,69.0 94.7,68.9 94.7,68.9 94.8,68.9 94.9,68.9 95.0,68.8 95.0,68.8 95.1,68.8 95.2,68.8 95.2,68.7 95.3,68.7 95.4,68.7 95.4,68.7 95.5,68.7 95.6,68.6 95.7,68.6 95.7,68.6 95.8,68.6 95.9,68.6 95.9,68.5 96.0,68.5 96.1,68.5 96.2,68.5 96.3,68.5 96.3,68.5 96.4,68.4 96.5,68.4 96.6,68.4 96.7,68.4 96.7,68.4 96.8,68.4 96.9,68.4 97.0,68.3 97.1,68.3 97.2,68.3 97.3,68.3 97.4,68.3 97.5,68.3 97.6,68.3 97.7,68.3 97.8,68.3 97.9,68.3 98.0,68.3 98.1,68.3 98.2,68.3 98.3,68.3 98.5,68.3 98.6,68.3 98.7,68.3 98.8,68.4 99.0,68.4 99.1,68.4 99.2,68.4 99.4,68.5 99.5,68.5 99.6,68.5 99.8,68.6 99.9,68.6 100.0,68.7 100.1,68.8 100.3,68.8 100.4,68.9 100.5,69.0 100.6,69.1 100.7,69.2 100.8,69.3 100.9,69.4 100.9,69.5 101.0,69.7 101.0,69.8 101.1,69.9 101.1,70.1 101.1,70.2 101.1,70.3 101.1,70.5 101.1,70.6 101.1,70.7 101.0,70.9 101.0,71.0 100.9,71.1 100.8,71.3Z" fill="#e5471a"/>
<path d="M122.5,180.3 122.1,180.8 121.0,180.7 120.5,181.2 120.6,182.2 120.1,182.5 119.7,182.9 119.0,183.0 118.9,183.6 118.5,184.0 118.1,184.4 117.5,184.4 117.3,184.9 117.0,185.3 116.9,185.8 116.8,186.3 116.4,186.6 115.8,186.6 115.5,186.8 115.0,187.0 114.6,187.1 114.3,187.4 114.3,188.0 113.9,188.2 113.7,188.5 113.8,189.1 113.3,189.1 113.0,189.4 112.5,189.4 112.1,189.6 112.0,190.0 111.6,190.2 111.6,190.7 111.6,191.3 111.1,191.3 110.5,191.1 110.6,191.9 110.3,192.0 109.9,192.2 109.7,192.6 109.3,192.7 109.0,192.9 108.5,192.8 108.5,193.5 108.2,193.7 107.4,193.3 107.4,194.0 107.1,194.2 106.6,194.2 106.3,194.4 105.9,194.5 105.6,195.0 105.1,194.7 104.8,195.2 104.3,194.8 104.1,195.5 103.7,195.6 103.2,195.3 102.8,195.5 102.5,196.0 102.1,195.9 101.6,195.8 101.2,195.5 100.7,195.7 100.3,196.1 99.9,195.6 99.5,196.3 99.0,195.7 98.6,196.4 98.1,195.8 97.7,196.5 97.3,196.3 96.8,196.1 96.3,196.1 95.8,196.3 95.3,196.3 94.8,196.0 94.4,195.8 93.8,196.1 93.3,196.4 92.8,196.0 92.4,195.4 91.8,196.0 91.2,195.8 90.7,195.9 90.2,195.1 89.6,195.5 89.1,194.8 88.4,195.2 87.8,194.8 87.2,194.6 86.4,195.1 85.9,194.2 85.1,194.5 84.3,194.6 83.6,193.9 82.8,193.7 81.8,194.2 81.2,193.4 80.4,193.4 79.8,192.5 78.9,192.4 78.1,191.9 77.0,192.0 76.8,191.1 75.6,191.1 75.7,189.9 74.6,189.8 74.7,189.0 74.4,188.3 74.1,187.3 75.0,186.7 75.2,185.9 75.3,184.8 76.3,184.2 77.2,183.6 77.1,182.2 78.3,182.1 79.1,181.5 79.5,180.7 79.8,179.9 80.3,179.3 81.3,179.2 81.6,178.5 82.3,178.2 82.5,177.5 82.7,176.8 83.1,176.4 83.4,175.8 83.9,175.5 84.2,175.1 84.7,174.8 85.3,174.6 85.8,174.4 85.8,173.7 86.4,173.6 86.9,173.4 87.0,172.9 87.0,172.2 87.9,172.5 87.9,171.8 88.3,171.6 88.5,171.2 89.1,171.2 88.8,170.3 89.6,170.5 89.7,170.0 90.1,169.8 90.6,169.9 90.6,169.2 91.2,169.2 91.6,169.1 91.9,168.8 92.1,168.5 92.5,168.2 92.5,167.6 92.9,167.4 92.9,166.8 93.2,166.6 93.5,166.3 94.3,166.6 94.5,166.2 94.9,166.0 95.1,165.5 95.4,165.2 95.7,164.9 96.1,164.7 96.7,164.9 97.0,164.5 97.3,164.2 98.0,164.4 98.3,164.2 98.5,163.6 99.1,163.6 99.3,162.8 99.8,163.2 100.3,163.3 100.7,163.1 101.1,163.0 101.6,162.9 102.0,162.6 102.5,162.6 102.9,162.6 103.4,162.2 103.9,162.6 104.3,161.8 104.8,161.7 105.3,161.9 105.8,162.2 106.3,162.1 106.8,162.0 107.3,162.5 107.8,162.2 108.3,162.1 108.9,162.4 109.4,162.5 110.0,161.8 110.5,162.2 111.1,162.1 111.7,161.7 112.3,162.0 113.0,162.3 113.6,161.6 114.3,162.2 115.0,162.6 115.7,162.0 116.4,162.6 117.1,162.5 117.9,162.0 118.7,162.2 119.5,162.9 120.4,162.6 121.3,162.7 122.3,162.7 123.3,163.0 124.4,162.7 125.5,163.3 126.7,163.2 128.2,163.1 129.7,162.6 130.6,163.4 131.4,162.7 132.4,163.3 133.3,162.9 134.2,163.7 135.1,164.2 136.0,165.1 135.3,166.1 134.9,167.0 134.3,167.7 133.9,168.3 133.5,169.5 132.6,169.9 131.9,170.7 131.1,171.0 130.0,171.0 129.7,171.9 128.6,173.1 127.7,174.0 126.7,174.8 125.8,175.5 125.1,176.3 124.8,177.2 123.9,177.5 123.5,178.3 123.0,178.9 122.9,179.7Z" fill="#3b5bcb"/>
<path d="M119.6,180.0 119.2,180.5 118.9,180.9 118.4,181.3 118.0,181.7 117.7,182.1 117.3,182.4 116.9,182.8 116.6,183.1 116.3,183.4 116.0,183.7 115.6,184.0 115.3,184.3 115.1,184.6 114.8,184.9 114.5,185.2 114.2,185.4 113.9,185.7 113.7,185.9 113.4,186.2 113.2,186.4 112.9,186.7 112.6,186.9 112.4,187.1 112.2,187.4 111.9,187.6 111.7,187.8 111.4,188.1 111.2,188.3 111.0,188.5 110.7,188.7 110.5,188.9 110.3,189.2 110.0,189.4 109.7,189.6 109.5,189.7 109.2,189.9 109.0,190.1 108.7,190.3 108.4,190.5 108.2,190.7 107.9,190.9 107.6,191.0 107.4,191.2 107.1,191.4 106.8,191.6 106.5,191.8 106.3,192.0 106.0,192.2 105.6,192.3 105.3,192.4 105.0,192.5 104.7,192.6 104.4,192.7 104.0,192.8 103.7,192.9 103.4,193.0 103.0,193.1 102.7,193.2 102.3,193.3 102.0,193.4 101.6,193.6 101.3,193.6 100.9,193.6 100.6,193.6 100.2,193.7 99.8,193.7 99.5,193.7 99.1,193.8 98.7,193.8 98.3,193.8 97.9,193.9 97.5,193.9 97.1,193.9 96.6,194.0 96.2,194.0 95.7,194.0 95.3,194.0 94.9,194.0 94.5,193.9 94.0,193.8 93.6,193.8 93.1,193.7 92.6,193.7 92.1,193.6 91.6,193.5 91.1,193.5 90.5,193.4 90.0,193.3 89.4,193.3 88.8,193.2 88.2,193.1 87.6,193.0 86.9,192.9 86.3,192.7 85.6,192.6 84.8,192.5 84.1,192.3 83.4,192.1 82.8,191.8 82.1,191.5 81.4,191.2 80.7,190.9 79.9,190.5 79.4,190.0 79.0,189.5 78.6,189.0 78.1,188.4 77.7,187.9 77.7,187.2 78.0,186.4 78.2,185.7 78.4,185.0 78.9,184.3 79.5,183.6 80.1,182.9 80.7,182.2 81.2,181.6 81.8,181.1 82.3,180.5 82.8,180.0 83.3,179.5 83.8,179.0 84.2,178.6 84.6,178.2 85.0,177.8 85.4,177.4 85.8,177.0 86.2,176.6 86.5,176.3 86.9,175.9 87.2,175.6 87.5,175.3 87.8,175.0 88.2,174.7 88.5,174.4 88.8,174.1 89.0,173.8 89.3,173.5 89.6,173.3 89.9,173.0 90.2,172.7 90.4,172.5 90.7,172.2 91.0,172.0 91.2,171.7 91.5,171.5 91.7,171.2 92.0,171.0 92.3,170.8 92.5,170.5 92.8,170.3 93.1,170.1 93.4,169.9 93.6,169.7 93.9,169.5 94.2,169.2 94.5,169.0 94.7,168.8 95.0,168.6 95.3,168.4 95.6,168.1 95.8,167.9 96.1,167.7 96.4,167.5 96.7,167.3 97.1,167.1 97.4,166.9 97.7,166.7 98.0,166.5 98.3,166.3 98.7,166.2 99.0,166.0 99.4,165.7 99.7,165.5 100.1,165.4 100.5,165.4 100.8,165.3 101.2,165.2 101.6,165.2 102.0,165.1 102.4,165.0 102.8,165.0 103.2,164.9 103.6,164.8 104.0,164.8 104.4,164.7 104.9,164.6 105.3,164.6 105.7,164.6 106.1,164.6 106.6,164.6 107.0,164.5 107.5,164.5 107.9,164.5 108.4,164.5 108.9,164.5 109.4,164.5 109.9,164.4 110.5,164.4 111.0,164.4 111.6,164.4 112.1,164.4 112.8,164.4 113.4,164.3 114.0,164.4 114.6,164.4 115.3,164.4 116.0,164.4 116.7,164.5 117.5,164.5 118.3,164.6 119.1,164.6 120.0,164.7 120.9,164.7 121.8,164.8 122.8,164.9 123.9,165.0 125.1,165.0 126.4,165.0 127.8,165.1 129.4,165.1 130.1,165.7 130.9,166.2 131.3,167.0 131.1,168.0 130.8,168.9 129.9,170.1 127.9,171.6 126.2,172.8 125.2,173.8 124.4,174.6 123.7,175.4 123.0,176.1 122.4,176.8 121.8,177.4 121.4,178.0 120.9,178.5 120.4,179.0 120.0,179.5Z" fill="#4878c4"/>
<path d="M117.1,180.0 116.8,180.4 116.4,180.8 116.0,181.1 115.7,181.4 115.4,181.8 115.0,182.1 114.7,182.4 114.4,182.6 114.1,182.9 113.9,183.2 113.6,183.4 113.3,183.7 113.1,183.9 112.8,184.1 112.6,184.4 112.3,184.6 112.1,184.8 111.8,185.0 111.6,185.2 111.4,185.4 111.2,185.6 111.0,185.8 110.7,186.0 110.5,186.2 110.3,186.4 110.1,186.6 109.9,186.8 109.7,186.9 109.5,187.1 109.3,187.3 109.1,187.5 108.9,187.7 108.7,187.8 108.5,188.0 108.2,188.1 108.0,188.3 107.8,188.4 107.6,188.6 107.4,188.7 107.1,188.9 106.9,189.0 106.7,189.2 106.5,189.3 106.2,189.5 106.0,189.7 105.8,189.8 105.5,190.0 105.3,190.1 105.0,190.2 104.8,190.3 104.5,190.4 104.2,190.5 104.0,190.6 103.7,190.7 103.4,190.8 103.1,190.8 102.9,190.9 102.6,191.0 102.3,191.1 102.0,191.2 101.7,191.3 101.4,191.3 101.1,191.4 100.8,191.4 100.5,191.4 100.2,191.5 99.9,191.5 99.5,191.6 99.2,191.6 98.9,191.6 98.5,191.7 98.2,191.7 97.8,191.8 97.5,191.8 97.1,191.9 96.7,191.9 96.3,191.9 96.0,191.9 95.6,191.8 95.2,191.8 94.8,191.8 94.4,191.8 93.9,191.7 93.5,191.7 93.0,191.7 92.6,191.7 92.1,191.6 91.6,191.6 91.0,191.5 90.5,191.5 89.9,191.4 89.4,191.4 88.8,191.3 88.2,191.2 87.6,191.1 86.9,191.0 86.2,190.8 85.7,190.6 85.1,190.4 84.5,190.1 83.9,189.8 83.4,189.5 82.8,189.2 82.4,188.7 82.1,188.2 81.8,187.8 81.5,187.3 81.2,186.8 81.2,186.1 81.5,185.5 81.7,184.9 82.0,184.3 82.4,183.6 82.9,183.0 83.4,182.4 83.9,181.9 84.4,181.4 84.9,180.9 85.3,180.4 85.7,180.0 86.2,179.6 86.6,179.2 86.9,178.8 87.3,178.5 87.7,178.1 88.0,177.8 88.3,177.5 88.6,177.2 88.9,176.9 89.2,176.6 89.5,176.3 89.8,176.0 90.1,175.8 90.4,175.5 90.6,175.3 90.9,175.0 91.1,174.8 91.4,174.6 91.6,174.4 91.9,174.1 92.1,173.9 92.3,173.7 92.5,173.5 92.8,173.3 93.0,173.1 93.2,172.9 93.4,172.7 93.7,172.5 93.9,172.3 94.1,172.1 94.4,171.9 94.6,171.8 94.8,171.6 95.0,171.4 95.3,171.2 95.5,171.0 95.7,170.9 96.0,170.7 96.2,170.5 96.4,170.3 96.7,170.1 96.9,170.0 97.1,169.8 97.4,169.6 97.6,169.5 97.9,169.3 98.2,169.2 98.4,169.0 98.7,168.9 99.0,168.7 99.2,168.5 99.5,168.4 99.8,168.2 100.1,168.0 100.4,167.9 100.7,167.9 101.0,167.8 101.4,167.8 101.7,167.7 102.0,167.6 102.3,167.6 102.7,167.5 103.0,167.4 103.3,167.3 103.7,167.3 104.0,167.2 104.4,167.1 104.7,167.1 105.1,167.1 105.5,167.1 105.8,167.0 106.2,167.0 106.6,167.0 107.0,166.9 107.4,166.9 107.8,166.9 108.3,166.8 108.7,166.8 109.2,166.8 109.7,166.7 110.2,166.7 110.7,166.7 111.2,166.6 111.8,166.6 112.3,166.6 112.9,166.6 113.5,166.6 114.1,166.6 114.7,166.6 115.4,166.6 116.1,166.6 116.9,166.6 117.6,166.7 118.4,166.7 119.2,166.8 120.1,166.9 121.0,166.9 122.0,167.0 123.1,167.1 124.2,167.2 125.4,167.3 126.0,167.8 126.6,168.3 126.9,168.9 126.7,169.8 126.5,170.6 125.8,171.6 124.2,172.8 122.8,173.8 122.0,174.6 121.4,175.4 120.7,176.0 120.1,176.6 119.6,177.2 119.1,177.7 118.7,178.2 118.3,178.7 117.9,179.2 117.5,179.6Z" fill="#5191b6"/>
<path d="M114.6,180.0 114.3,180.3 114.0,180.6 113.7,180.9 113.3,181.2 113.1,181.5 112.8,181.7 112.5,181.9 112.2,182.2 112.0,182.4 111.7,182.6 111.5,182.8 111.3,183.0 111.1,183.2 110.8,183.4 110.6,183.6 110.4,183.8 110.2,183.9 110.0,184.1 109.8,184.2 109.6,184.4 109.4,184.6 109.3,184.7 109.1,184.9 108.9,185.0 108.7,185.2 108.6,185.3 108.4,185.4 108.2,185.6 108.0,185.7 107.9,185.9 107.7,186.0 107.5,186.1 107.4,186.3 107.2,186.4 107.0,186.5 106.8,186.6 106.6,186.7 106.5,186.9 106.3,187.0 106.1,187.1 105.9,187.2 105.7,187.3 105.6,187.5 105.4,187.6 105.2,187.7 105.0,187.8 104.8,187.9 104.6,188.1 104.4,188.1 104.2,188.2 104.0,188.3 103.8,188.4 103.6,188.4 103.3,188.5 103.1,188.6 102.9,188.7 102.7,188.7 102.5,188.8 102.2,188.9 102.0,189.0 101.8,189.1 101.5,189.1 101.3,189.1 101.0,189.2 100.8,189.2 100.5,189.3 100.3,189.3 100.0,189.4 99.7,189.4 99.5,189.4 99.2,189.5 98.9,189.5 98.6,189.6 98.3,189.6 98.0,189.7 97.7,189.8 97.3,189.8 97.0,189.8 96.7,189.8 96.3,189.8 96.0,189.8 95.6,189.8 95.2,189.8 94.9,189.8 94.5,189.8 94.0,189.8 93.6,189.8 93.1,189.8 92.7,189.8 92.2,189.8 91.7,189.8 91.2,189.8 90.6,189.7 90.1,189.6 89.5,189.6 89.0,189.5 88.4,189.3 87.9,189.2 87.4,188.9 86.9,188.7 86.5,188.4 86.1,188.1 85.6,187.8 85.4,187.4 85.2,187.0 85.0,186.5 84.8,186.1 84.7,185.6 84.8,185.1 85.0,184.6 85.2,184.0 85.5,183.5 85.9,183.0 86.3,182.5 86.7,182.0 87.1,181.6 87.5,181.1 87.9,180.7 88.3,180.4 88.7,180.0 89.0,179.7 89.3,179.3 89.7,179.0 90.0,178.7 90.3,178.5 90.6,178.2 90.8,177.9 91.1,177.7 91.4,177.4 91.6,177.2 91.9,177.0 92.1,176.8 92.3,176.6 92.6,176.4 92.8,176.2 93.0,176.0 93.2,175.8 93.4,175.6 93.6,175.4 93.8,175.3 94.0,175.1 94.2,174.9 94.4,174.8 94.6,174.6 94.8,174.4 94.9,174.3 95.1,174.1 95.3,174.0 95.5,173.8 95.7,173.7 95.9,173.6 96.1,173.4 96.3,173.3 96.4,173.1 96.6,173.0 96.8,172.9 97.0,172.7 97.2,172.6 97.4,172.4 97.6,172.3 97.7,172.2 97.9,172.0 98.1,171.9 98.3,171.8 98.5,171.6 98.7,171.5 99.0,171.4 99.2,171.3 99.4,171.2 99.6,171.0 99.8,170.9 100.0,170.8 100.3,170.7 100.5,170.5 100.7,170.4 101.0,170.4 101.2,170.3 101.5,170.3 101.7,170.2 102.0,170.1 102.3,170.1 102.5,170.0 102.8,169.9 103.1,169.9 103.3,169.8 103.6,169.7 103.9,169.7 104.2,169.6 104.5,169.6 104.8,169.5 105.1,169.5 105.4,169.4 105.8,169.4 106.1,169.3 106.4,169.3 106.8,169.3 107.2,169.2 107.5,169.1 107.9,169.1 108.3,169.0 108.8,169.0 109.2,168.9 109.6,168.9 110.1,168.8 110.6,168.8 111.1,168.7 111.6,168.7 112.2,168.7 112.8,168.7 113.4,168.6 114.0,168.6 114.6,168.6 115.3,168.7 116.0,168.7 116.7,168.7 117.4,168.8 118.1,168.9 118.9,169.0 119.7,169.1 120.6,169.3 121.4,169.4 121.9,169.9 122.3,170.3 122.5,170.9 122.3,171.6 122.1,172.3 121.6,173.1 120.5,174.0 119.5,174.8 118.8,175.5 118.3,176.1 117.8,176.6 117.3,177.2 116.8,177.7 116.4,178.1 116.0,178.5 115.6,178.9 115.3,179.3 114.9,179.7Z" fill="#59a3a6"/>
<path d="M112.1,180.0 111.8,180.3 111.5,180.5 111.3,180.7 111.0,180.9 110.8,181.2 110.5,181.3 110.3,181.5 110.1,181.7 109.8,181.9 109.6,182.0 109.4,182.2 109.2,182.4 109.1,182.5 108.9,182.6 108.7,182.8 108.5,182.9 108.4,183.0 108.2,183.2 108.0,183.3 107.9,183.4 107.7,183.5 107.6,183.6 107.4,183.7 107.3,183.8 107.1,183.9 107.0,184.0 106.9,184.1 106.7,184.2 106.6,184.3 106.4,184.4 106.3,184.5 106.2,184.6 106.0,184.7 105.9,184.8 105.8,184.9 105.6,185.0 105.5,185.1 105.3,185.1 105.2,185.2 105.1,185.3 104.9,185.4 104.8,185.5 104.7,185.6 104.5,185.6 104.4,185.7 104.2,185.8 104.1,185.9 103.9,186.0 103.8,186.1 103.6,186.1 103.5,186.2 103.3,186.2 103.2,186.3 103.0,186.4 102.8,186.4 102.7,186.5 102.5,186.5 102.3,186.6 102.2,186.7 102.0,186.7 101.8,186.8 101.6,186.9 101.5,186.9 101.3,186.9 101.1,187.0 100.9,187.0 100.7,187.1 100.5,187.2 100.3,187.2 100.1,187.3 99.8,187.3 99.6,187.4 99.4,187.4 99.1,187.5 98.9,187.5 98.6,187.6 98.4,187.6 98.1,187.7 97.8,187.7 97.5,187.8 97.2,187.8 96.9,187.9 96.6,187.9 96.2,187.9 95.9,188.0 95.5,188.0 95.1,188.1 94.7,188.1 94.3,188.1 93.9,188.1 93.4,188.1 93.0,188.1 92.5,188.1 92.0,188.1 91.5,188.0 91.1,188.0 90.6,187.9 90.1,187.7 89.7,187.5 89.4,187.3 89.0,187.0 88.7,186.8 88.5,186.4 88.3,186.1 88.2,185.7 88.2,185.3 88.2,184.9 88.2,184.5 88.3,184.1 88.5,183.6 88.8,183.2 89.0,182.8 89.3,182.3 89.7,182.0 90.0,181.6 90.3,181.2 90.6,180.9 91.0,180.6 91.3,180.3 91.6,180.0 91.8,179.7 92.1,179.5 92.4,179.2 92.6,179.0 92.9,178.8 93.1,178.6 93.3,178.4 93.6,178.2 93.8,178.0 94.0,177.9 94.2,177.7 94.4,177.5 94.6,177.4 94.8,177.2 94.9,177.1 95.1,176.9 95.3,176.8 95.5,176.7 95.6,176.5 95.8,176.4 95.9,176.3 96.1,176.2 96.2,176.0 96.4,175.9 96.5,175.8 96.7,175.7 96.8,175.6 97.0,175.5 97.1,175.4 97.3,175.3 97.4,175.2 97.6,175.1 97.7,175.0 97.8,174.9 98.0,174.8 98.1,174.7 98.3,174.6 98.4,174.5 98.6,174.4 98.7,174.3 98.8,174.2 99.0,174.1 99.1,174.0 99.3,173.9 99.4,173.8 99.6,173.7 99.7,173.6 99.9,173.6 100.1,173.5 100.2,173.4 100.4,173.3 100.6,173.2 100.7,173.1 100.9,173.0 101.1,172.9 101.3,172.9 101.4,172.8 101.6,172.8 101.8,172.7 102.0,172.6 102.2,172.6 102.4,172.5 102.6,172.5 102.8,172.4 103.0,172.3 103.2,172.2 103.4,172.2 103.7,172.1 103.9,172.1 104.1,172.0 104.4,172.0 104.6,171.9 104.9,171.8 105.2,171.8 105.4,171.7 105.7,171.6 106.0,171.6 106.3,171.5 106.7,171.4 107.0,171.4 107.3,171.3 107.7,171.2 108.1,171.1 108.5,171.1 108.9,171.0 109.4,170.9 109.8,170.9 110.3,170.8 110.8,170.8 111.3,170.7 111.8,170.7 112.4,170.7 112.9,170.7 113.5,170.7 114.1,170.7 114.7,170.8 115.2,170.9 115.8,171.0 116.4,171.2 117.0,171.4 117.5,171.6 117.8,172.0 118.0,172.4 118.1,172.8 118.0,173.4 117.8,173.9 117.4,174.5 116.7,175.2 116.1,175.8 115.7,176.3 115.2,176.8 114.8,177.3 114.4,177.7 114.0,178.1 113.7,178.5 113.3,178.8 113.0,179.1 112.7,179.4 112.4,179.7Z" fill="#66b296"/>
<path d="M109.6,180.0 109.3,180.2 109.1,180.4 108.9,180.5 108.7,180.7 108.4,180.8 108.2,181.0 108.1,181.1 107.9,181.2 107.7,181.4 107.5,181.5 107.4,181.6 107.2,181.7 107.1,181.8 106.9,181.9 106.8,182.0 106.6,182.1 106.5,182.1 106.4,182.2 106.2,182.3 106.1,182.4 106.0,182.4 105.9,182.5 105.8,182.6 105.6,182.7 105.5,182.7 105.4,182.8 105.3,182.8 105.2,182.9 105.1,183.0 105.0,183.0 104.9,183.1 104.8,183.1 104.7,183.2 104.6,183.2 104.5,183.3 104.4,183.3 104.3,183.4 104.2,183.4 104.1,183.5 104.0,183.5 103.9,183.6 103.8,183.6 103.8,183.7 103.7,183.7 103.6,183.8 103.5,183.8 103.4,183.9 103.3,183.9 103.2,184.0 103.1,184.0 103.0,184.1 102.9,184.1 102.8,184.2 102.7,184.2 102.6,184.3 102.5,184.3 102.3,184.4 102.2,184.4 102.1,184.5 102.0,184.5 101.9,184.6 101.8,184.6 101.6,184.7 101.5,184.7 101.4,184.8 101.2,184.8 101.1,184.9 100.9,184.9 100.8,185.0 100.6,185.1 100.5,185.1 100.3,185.2 100.1,185.3 100.0,185.3 99.8,185.4 99.6,185.5 99.4,185.5 99.1,185.6 98.9,185.7 98.7,185.7 98.4,185.8 98.2,185.9 97.9,186.0 97.6,186.0 97.3,186.1 97.0,186.2 96.6,186.3 96.3,186.3 95.9,186.4 95.5,186.5 95.2,186.5 94.8,186.5 94.3,186.5 93.9,186.5 93.5,186.5 93.1,186.5 92.7,186.4 92.4,186.2 92.1,186.1 91.8,185.9 91.6,185.7 91.4,185.4 91.3,185.1 91.3,184.8 91.3,184.4 91.4,184.1 91.5,183.7 91.7,183.4 91.9,183.0 92.1,182.7 92.3,182.3 92.5,182.0 92.8,181.7 93.0,181.4 93.3,181.1 93.5,180.9 93.8,180.6 94.0,180.4 94.2,180.2 94.5,180.0 94.7,179.8 94.9,179.6 95.1,179.5 95.3,179.3 95.5,179.1 95.7,179.0 95.9,178.9 96.0,178.7 96.2,178.6 96.4,178.5 96.5,178.4 96.7,178.3 96.8,178.2 97.0,178.1 97.1,178.0 97.2,177.9 97.4,177.8 97.5,177.7 97.6,177.6 97.7,177.5 97.9,177.5 98.0,177.4 98.1,177.3 98.2,177.2 98.3,177.2 98.4,177.1 98.5,177.0 98.6,177.0 98.7,176.9 98.8,176.8 98.9,176.8 99.0,176.7 99.2,176.7 99.3,176.6 99.4,176.5 99.5,176.5 99.5,176.4 99.6,176.4 99.7,176.3 99.8,176.3 99.9,176.2 100.0,176.2 100.1,176.1 100.2,176.0 100.3,176.0 100.4,175.9 100.5,175.9 100.6,175.8 100.7,175.8 100.9,175.7 101.0,175.7 101.1,175.6 101.2,175.6 101.3,175.5 101.4,175.4 101.5,175.4 101.6,175.3 101.8,175.3 101.9,175.2 102.0,175.2 102.1,175.1 102.3,175.0 102.4,175.0 102.5,174.9 102.7,174.8 102.8,174.8 103.0,174.7 103.1,174.6 103.3,174.6 103.5,174.5 103.7,174.4 103.8,174.3 104.0,174.3 104.2,174.2 104.4,174.1 104.7,174.0 104.9,173.9 105.1,173.8 105.4,173.8 105.7,173.7 105.9,173.6 106.2,173.5 106.5,173.4 106.9,173.3 107.2,173.2 107.6,173.1 108.0,173.0 108.4,172.9 108.8,172.9 109.2,172.8 109.7,172.7 110.1,172.7 110.6,172.7 111.1,172.7 111.5,172.7 112.0,172.8 112.4,172.9 112.7,173.0 113.1,173.2 113.3,173.5 113.5,173.7 113.7,174.1 113.7,174.4 113.7,174.8 113.6,175.2 113.4,175.6 113.2,176.0 113.0,176.4 112.7,176.8 112.5,177.2 112.2,177.6 111.8,177.9 111.5,178.2 111.2,178.5 110.9,178.8 110.6,179.1 110.4,179.3 110.1,179.6 109.8,179.8Z" fill="#86c070"/>
<path d="M106.0,180.0 105.9,180.1 105.7,180.2 105.7,180.3 105.6,180.4 105.5,180.5 105.4,180.5 105.3,180.6 105.2,180.7 105.1,180.7 105.0,180.8 104.9,180.9 104.9,180.9 104.8,181.0 104.7,181.0 104.6,181.1 104.6,181.1 104.5,181.2 104.4,181.2 104.4,181.3 104.3,181.3 104.2,181.4 104.2,181.4 104.1,181.4 104.0,181.5 104.0,181.5 103.9,181.6 103.9,181.6 103.8,181.6 103.8,181.7 103.7,181.7 103.6,181.7 103.6,181.8 103.5,181.8 103.5,181.8 103.4,181.9 103.4,181.9 103.3,181.9 103.3,181.9 103.2,182.0 103.2,182.0 103.1,182.0 103.0,182.1 103.0,182.1 102.9,182.1 102.9,182.1 102.8,182.2 102.8,182.2 102.7,182.2 102.7,182.2 102.6,182.3 102.6,182.3 102.5,182.3 102.4,182.4 102.4,182.4 102.3,182.4 102.3,182.4 102.2,182.5 102.1,182.5 102.1,182.5 102.0,182.6 101.9,182.6 101.9,182.6 101.8,182.6 101.7,182.7 101.6,182.7 101.6,182.7 101.5,182.8 101.4,182.8 101.3,182.8 101.2,182.9 101.1,182.9 101.1,182.9 101.0,183.0 100.9,183.0 100.7,183.0 100.6,183.1 100.5,183.1 100.4,183.1 100.3,183.2 100.2,183.2 100.0,183.2 99.9,183.3 99.7,183.3 99.6,183.3 99.4,183.4 99.3,183.4 99.1,183.4 98.9,183.4 98.7,183.4 98.5,183.5 98.4,183.5 98.2,183.5 98.0,183.5 97.8,183.4 97.6,183.4 97.4,183.4 97.2,183.3 97.0,183.2 96.9,183.1 96.7,183.0 96.6,182.9 96.5,182.8 96.4,182.7 96.4,182.5 96.4,182.3 96.3,182.2 96.4,182.0 96.4,181.8 96.5,181.6 96.5,181.5 96.6,181.3 96.7,181.1 96.8,181.0 96.9,180.8 97.1,180.7 97.2,180.5 97.3,180.4 97.4,180.2 97.5,180.1 97.6,180.0 97.8,179.9 97.9,179.8 98.0,179.7 98.1,179.6 98.2,179.5 98.3,179.4 98.4,179.3 98.5,179.3 98.6,179.2 98.7,179.1 98.8,179.0 98.9,179.0 99.0,178.9 99.0,178.9 99.1,178.8 99.2,178.8 99.3,178.7 99.3,178.6 99.4,178.6 99.5,178.6 99.6,178.5 99.6,178.5 99.7,178.4 99.8,178.4 99.8,178.3 99.9,178.3 100.0,178.3 100.0,178.2 100.1,178.2 100.2,178.2 100.2,178.1 100.3,178.1 100.3,178.1 100.4,178.0 100.5,178.0 100.5,178.0 100.6,177.9 100.6,177.9 100.7,177.9 100.8,177.8 100.8,177.8 100.9,177.8 100.9,177.8 101.0,177.7 101.0,177.7 101.1,177.7 101.2,177.6 101.2,177.6 101.3,177.6 101.3,177.6 101.4,177.5 101.5,177.5 101.5,177.5 101.6,177.4 101.7,177.4 101.7,177.4 101.8,177.4 101.9,177.3 101.9,177.3 102.0,177.3 102.1,177.3 102.1,177.2 102.2,177.2 102.3,177.2 102.4,177.1 102.5,177.1 102.5,177.1 102.6,177.1 102.7,177.0 102.8,177.0 102.9,177.0 103.0,176.9 103.1,176.9 103.2,176.9 103.3,176.8 103.4,176.8 103.5,176.8 103.7,176.8 103.8,176.7 103.9,176.7 104.0,176.7 104.2,176.6 104.3,176.6 104.5,176.6 104.6,176.6 104.8,176.6 104.9,176.6 105.1,176.5 105.3,176.5 105.5,176.5 105.6,176.5 105.8,176.6 106.0,176.6 106.2,176.6 106.3,176.7 106.5,176.7 106.7,176.8 106.8,176.9 106.9,177.0 107.0,177.1 107.1,177.2 107.2,177.4 107.2,177.5 107.2,177.7 107.3,177.8 107.2,178.0 107.2,178.2 107.1,178.3 107.1,178.5 107.0,178.7 106.9,178.8 106.8,179.0 106.7,179.1 106.6,179.3 106.5,179.4 106.4,179.5 106.3,179.7 106.2,179.8 106.1,179.9Z" fill="#bcd242"/>
<path d="M257.4,17.9 258.3,17.9 259.0,18.5 260.0,18.6 260.8,18.9 261.3,19.9 262.1,20.3 263.3,19.8 263.8,20.8 264.5,21.2 265.7,20.8 266.1,21.8 267.1,21.8 267.6,22.6 268.4,22.9 268.9,23.8 269.9,23.7 270.8,23.9 271.3,24.7 272.1,24.8 272.9,25.3 273.4,26.3 274.6,25.9 275.3,26.4 276.0,27.1 276.7,27.8 277.8,27.2 278.6,27.9 279.5,27.8 280.4,27.8 281.3,28.3 282.1,28.3 282.7,29.1 283.7,28.9 284.3,29.6 285.3,29.3 285.8,29.6 286.8,30.4 287.6,30.2 288.3,30.0 289.0,29.0 289.9,29.5 290.6,29.2 291.5,29.0 291.9,28.3 292.6,27.8 293.3,27.4 293.7,26.6 294.3,26.0 294.5,25.1 295.2,24.6 295.5,23.8 296.1,23.2 296.5,22.4 297.4,22.0 298.4,21.7 298.3,20.5 298.7,19.8 299.3,19.2 300.1,18.7 300.5,18.0 301.5,17.7 301.4,16.6 302.2,16.1 303.0,15.7 303.7,15.2 303.5,14.0 303.9,13.2 305.3,13.2 305.2,12.0 306.1,11.6 306.6,11.3 307.4,10.8 308.0,10.0 308.7,9.6 309.8,10.3 310.4,9.4 311.2,9.7 312.0,8.9 312.8,9.4 313.6,8.7 314.4,8.6 315.2,9.2 316.4,8.7 316.6,10.0 317.2,10.8 318.4,11.0 318.6,12.0 319.2,12.7 319.9,13.3 320.6,14.0 320.6,15.1 320.9,15.9 322.2,16.2 322.1,17.3 323.1,17.8 323.2,18.7 322.9,19.6 323.2,20.4 323.5,21.2 323.9,22.0 324.1,22.8 324.3,23.6 324.6,24.4 325.2,25.2 324.8,26.1 324.8,26.9 325.2,27.7 324.7,28.6 324.8,29.5 325.7,30.3 325.2,31.2 325.3,32.0 324.8,32.9 325.3,33.8 325.6,34.6 324.9,35.4 325.6,36.3 325.6,37.1 324.9,37.9 325.6,38.8 325.3,39.6 325.6,40.5 325.2,41.3 325.6,42.2 325.6,43.1 324.4,43.6 324.2,44.4 324.5,45.4 324.5,46.4 323.4,46.8 323.3,47.7 323.1,48.6 322.4,49.0 321.9,49.7 321.4,50.4 321.0,51.1 320.8,51.9 320.0,52.4 319.7,53.2 319.7,54.2 318.5,54.5 318.7,55.5 318.4,56.4 317.6,56.9 317.1,57.6 317.3,58.8 316.2,58.9 315.5,59.4 315.1,60.2 314.8,61.0 313.7,61.1 313.3,61.9 312.7,62.5 312.5,63.5 311.5,63.8 311.3,64.7 310.2,64.7 309.6,65.3 309.1,66.1 308.5,66.8 307.5,66.9 306.6,67.1 305.8,67.5 305.4,68.4 304.4,68.5 304.1,69.6 303.4,70.1 302.2,69.9 301.6,70.5 301.2,71.4 300.4,71.7 299.7,72.4 298.7,72.4 297.9,72.6 297.2,73.2 296.8,74.2 295.8,74.1 295.1,74.7 294.5,75.2 293.8,75.8 293.1,76.3 292.7,77.3 291.5,77.1 290.7,77.5 290.7,78.9 290.0,79.3 289.3,80.0 288.2,79.9 287.9,80.9 287.1,81.3 285.9,81.1 285.6,82.1 284.9,82.7 284.1,83.0 283.3,83.3 282.4,83.5 281.7,84.1 280.9,84.4 280.1,84.6 279.7,85.6 278.8,85.7 278.4,86.6 277.2,86.2 277.0,87.5 276.1,87.7 275.5,88.3 274.8,88.7 274.1,89.1 273.2,89.2 272.2,89.0 271.8,90.1 270.7,89.8 270.0,90.3 269.4,91.1 268.6,91.3 267.8,91.5 267.3,92.4 266.4,92.4 265.5,92.5 264.7,92.7 264.3,93.8 263.3,93.7 262.8,94.4 261.8,94.3 261.0,94.5 260.4,95.2 259.8,95.9 258.8,95.6 258.3,96.6 257.4,97.0 256.5,97.1 255.6,97.3 254.5,96.5 253.7,97.5 252.7,97.9 252.2,96.8 251.3,96.8 250.5,96.6 249.6,96.6 248.9,96.3 248.1,96.1 247.2,96.2 246.6,95.1 245.8,94.9 245.0,94.8 244.3,94.6 243.5,94.2 242.3,94.8 241.5,94.3 241.1,93.1 240.1,93.2 239.4,92.6 238.7,92.3 237.8,91.9 236.9,91.9 236.1,91.5 235.5,90.9 234.9,90.2 234.1,89.9 233.6,89.2 232.6,89.2 231.8,88.9 231.3,88.1 230.8,87.3 230.1,87.0 229.3,86.7 228.4,86.5 227.5,86.0 227.7,85.1 226.9,84.5 226.8,83.7 226.8,82.8 226.5,82.0 226.1,81.3 225.6,80.7 225.6,79.8 225.1,79.1 225.0,78.3 225.4,77.5 225.1,76.6 224.9,75.8 225.8,75.0 225.4,74.2 225.4,73.3 225.0,72.5 225.0,71.6 225.7,70.8 225.1,70.0 225.3,69.1 226.0,68.2 225.9,67.3 226.3,66.4 225.6,65.5 225.8,64.6 225.7,63.6 226.0,62.8 226.4,62.0 226.6,61.1 227.1,60.3 227.8,59.6 227.5,58.6 228.4,58.1 228.7,57.2 228.4,56.2 229.5,55.8 229.8,55.0 230.2,54.3 229.7,53.1 230.9,52.7 231.4,52.1 231.1,50.8 232.3,50.6 232.1,49.4 232.8,48.7 233.1,47.9 233.5,47.1 234.4,46.6 234.7,45.7 236.0,45.6 235.8,44.4 236.6,43.9 236.9,43.1 238.0,42.9 238.0,41.8 238.3,41.0 239.7,41.0 240.0,40.1 240.3,39.3 240.5,38.4 241.6,38.2 242.2,37.6 242.6,36.9 242.8,35.9 243.2,35.1 244.1,34.7 244.6,34.1 245.1,33.4 245.7,32.8 246.1,32.0 246.9,31.6 247.0,30.6 247.1,29.6 248.1,29.3 248.3,28.4 249.4,28.1 249.4,27.1 249.8,26.4 250.4,25.7 251.1,25.2 251.6,24.5 252.0,23.8 252.3,22.9 253.5,22.9 254.1,22.3 254.1,21.2 254.4,20.4 255.3,20.1 255.9,19.5 256.2,18.7 257.2,18.5Z" fill="#3b5bcb"/>
<path d="M290.4,69.4 290.1,70.2 289.8,71.1 289.5,71.9 289.2,72.7 288.9,73.4 288.3,74.2 287.6,74.8 286.9,75.5 286.3,76.1 285.7,76.8 285.1,77.4 284.5,78.0 284.0,78.5 283.2,79.0 282.5,79.5 281.9,79.9 281.2,80.4 280.6,80.8 279.9,81.2 279.3,81.6 278.8,82.0 278.2,82.4 277.6,82.7 277.0,83.1 276.4,83.4 275.9,83.7 275.3,84.0 274.8,84.3 274.2,84.6 273.7,84.9 273.2,85.2 272.7,85.5 272.2,85.8 271.7,86.1 271.2,86.3 270.7,86.6 270.2,86.9 269.7,87.1 269.2,87.4 268.7,87.6 268.2,87.9 267.7,88.1 267.3,88.4 266.8,88.6 266.3,88.9 265.8,89.1 265.3,89.4 264.8,89.6 264.3,89.9 263.8,90.1 263.2,90.4 262.7,90.6 262.2,90.9 261.6,91.1 261.1,91.1 260.5,91.2 259.9,91.3 259.4,91.4 258.8,91.5 258.2,91.6 257.6,91.5 257.0,91.5 256.5,91.4 255.9,91.3 255.3,91.2 254.8,91.2 254.2,91.1 253.6,91.0 253.0,90.9 252.5,90.8 251.9,90.8 251.3,90.7 250.7,90.6 250.1,90.5 249.5,90.3 249.0,90.1 248.4,89.9 247.9,89.7 247.3,89.5 246.7,89.3 246.2,89.1 245.6,88.8 245.0,88.6 244.4,88.4 243.8,88.2 243.2,87.9 242.6,87.7 241.9,87.5 241.4,87.1 240.8,86.8 240.3,86.4 239.7,86.0 239.2,85.7 238.6,85.3 238.0,84.9 237.4,84.5 236.8,84.1 236.1,83.7 235.5,83.3 234.9,82.9 234.4,82.3 234.0,81.7 233.5,81.2 233.0,80.6 232.6,80.0 232.1,79.4 231.6,78.8 231.1,78.2 230.6,77.6 230.3,76.9 230.1,76.1 229.9,75.4 229.7,74.7 229.5,73.9 229.3,73.2 229.1,72.5 228.9,71.7 228.7,70.9 228.5,70.2 228.4,69.4 228.5,68.6 228.5,67.8 228.6,67.1 228.6,66.3 228.7,65.5 228.8,64.7 228.8,64.0 228.9,63.2 228.9,62.4 229.0,61.6 229.1,60.8 229.4,60.0 229.7,59.3 230.0,58.6 230.2,57.8 230.5,57.1 230.8,56.3 231.1,55.6 231.4,54.8 231.7,54.1 232.0,53.3 232.3,52.6 232.6,51.8 233.0,51.1 233.5,50.4 233.9,49.7 234.3,49.0 234.8,48.3 235.2,47.6 235.6,46.8 236.1,46.1 236.6,45.4 237.0,44.6 237.5,43.8 238.0,43.0 238.5,42.3 239.1,41.6 239.7,40.9 240.3,40.2 240.9,39.4 241.5,38.7 242.1,37.9 242.8,37.1 243.5,36.3 244.1,35.4 244.9,34.6 245.6,33.9 246.4,33.1 247.2,32.3 248.0,31.5 248.9,30.6 249.8,29.7 250.7,28.8 251.6,28.0 252.7,27.9 253.8,27.8 254.9,27.7 256.0,27.5 257.1,27.4 258.2,27.3 259.3,27.5 260.4,27.9 261.4,28.2 262.5,28.5 263.5,28.8 264.6,29.1 265.6,29.4 266.6,29.7 267.7,29.9 268.7,30.2 269.7,30.5 270.8,30.7 271.8,31.0 272.8,31.3 273.9,31.5 275.0,31.7 276.1,31.9 277.2,32.1 278.3,32.4 279.1,33.1 280.0,33.8 280.9,34.5 281.7,35.2 282.6,35.9 283.4,36.5 284.2,37.3 284.9,38.1 285.6,39.0 286.3,39.8 287.0,40.6 287.6,41.5 288.3,42.3 288.9,43.1 289.2,44.3 289.5,45.4 289.7,46.5 290.0,47.5 290.2,48.6 290.5,49.6 290.7,50.6 291.0,51.6 291.1,52.6 291.2,53.7 291.3,54.7 291.4,55.6 291.5,56.6 291.6,57.6 291.7,58.5 291.9,59.4 292.0,60.4 292.1,61.3 292.2,62.2 292.1,63.1 291.8,64.1 291.6,65.0 291.3,65.9 291.1,66.8 290.8,67.7 290.6,68.6Z" fill="#4878c4"/>
<path d="M285.2,69.4 284.9,70.1 284.6,70.8 284.4,71.5 284.1,72.1 283.8,72.8 283.3,73.4 282.7,73.9 282.2,74.5 281.7,75.0 281.2,75.6 280.7,76.1 280.2,76.6 279.8,77.0 279.2,77.5 278.6,77.9 278.1,78.2 277.5,78.6 277.0,79.0 276.5,79.3 276.0,79.7 275.5,80.0 275.1,80.4 274.6,80.7 274.1,81.0 273.6,81.2 273.2,81.5 272.7,81.8 272.2,82.0 271.8,82.3 271.4,82.6 270.9,82.8 270.5,83.1 270.1,83.3 269.7,83.5 269.2,83.8 268.8,84.0 268.4,84.3 268.0,84.5 267.6,84.7 267.1,84.9 266.7,85.1 266.3,85.3 265.9,85.5 265.5,85.7 265.1,85.9 264.6,86.1 264.2,86.4 263.8,86.6 263.3,86.8 262.9,87.0 262.5,87.2 262.0,87.4 261.6,87.6 261.1,87.7 260.6,87.8 260.1,87.9 259.7,88.0 259.2,88.1 258.7,88.2 258.2,88.2 257.7,88.2 257.2,88.2 256.7,88.2 256.2,88.1 255.7,88.1 255.2,88.1 254.7,88.0 254.3,88.0 253.7,87.9 253.2,87.9 252.7,87.8 252.2,87.8 251.7,87.7 251.2,87.7 250.7,87.6 250.2,87.4 249.7,87.3 249.2,87.1 248.7,86.9 248.2,86.8 247.7,86.6 247.1,86.4 246.6,86.3 246.1,86.1 245.5,85.9 245.0,85.7 244.4,85.5 243.9,85.3 243.4,85.0 242.9,84.7 242.4,84.4 241.9,84.1 241.4,83.8 240.9,83.4 240.3,83.1 239.8,82.8 239.3,82.4 238.7,82.0 238.2,81.7 237.7,81.2 237.3,80.8 236.9,80.3 236.5,79.8 236.1,79.3 235.7,78.7 235.2,78.2 234.8,77.7 234.4,77.1 234.0,76.6 233.8,75.9 233.6,75.3 233.4,74.7 233.3,74.0 233.1,73.4 232.9,72.7 232.8,72.1 232.6,71.4 232.5,70.7 232.3,70.1 232.3,69.4 232.4,68.7 232.4,68.0 232.5,67.4 232.5,66.7 232.6,66.0 232.6,65.4 232.7,64.7 232.8,64.0 232.8,63.3 232.9,62.6 233.1,62.0 233.3,61.3 233.6,60.7 233.8,60.0 234.1,59.4 234.3,58.8 234.6,58.1 234.9,57.5 235.1,56.9 235.4,56.2 235.7,55.6 236.0,55.0 236.3,54.3 236.6,53.7 237.0,53.1 237.4,52.5 237.8,52.0 238.2,51.4 238.6,50.8 239.0,50.2 239.4,49.5 239.8,48.9 240.2,48.3 240.6,47.7 241.0,47.0 241.5,46.5 242.0,45.9 242.6,45.3 243.1,44.7 243.6,44.1 244.1,43.5 244.7,42.9 245.2,42.2 245.8,41.6 246.4,40.9 247.0,40.3 247.7,39.7 248.4,39.1 249.0,38.5 249.7,37.8 250.5,37.2 251.2,36.5 252.0,35.8 252.8,35.2 253.7,35.0 254.6,34.9 255.5,34.8 256.4,34.7 257.3,34.5 258.2,34.4 259.1,34.5 260.0,34.7 260.9,34.9 261.8,35.1 262.7,35.3 263.6,35.5 264.5,35.7 265.3,35.8 266.2,36.0 267.1,36.2 268.0,36.4 268.9,36.6 269.8,36.8 270.6,37.0 271.6,37.1 272.5,37.3 273.4,37.5 274.4,37.7 275.3,38.0 276.0,38.5 276.8,39.1 277.5,39.6 278.3,40.2 279.0,40.7 279.8,41.3 280.4,41.9 281.1,42.6 281.7,43.3 282.3,44.0 282.9,44.7 283.4,45.5 284.0,46.2 284.5,46.9 284.8,47.9 285.0,48.8 285.3,49.7 285.5,50.6 285.8,51.5 286.0,52.4 286.2,53.3 286.4,54.1 286.4,55.0 286.5,55.9 286.6,56.8 286.7,57.6 286.7,58.4 286.8,59.3 286.8,60.1 286.9,60.9 286.9,61.7 286.9,62.5 286.9,63.3 286.8,64.1 286.6,64.9 286.4,65.7 286.1,66.5 285.9,67.2 285.7,68.0 285.4,68.7Z" fill="#5191b6"/>
<path d="M281.0,69.4 280.8,70.0 280.5,70.6 280.3,71.1 280.0,71.7 279.7,72.2 279.3,72.7 278.9,73.2 278.4,73.7 278.0,74.2 277.6,74.6 277.2,75.0 276.8,75.4 276.4,75.8 275.9,76.2 275.5,76.6 275.0,76.9 274.6,77.2 274.2,77.5 273.8,77.9 273.4,78.2 273.0,78.4 272.6,78.7 272.2,79.0 271.8,79.3 271.4,79.5 271.0,79.7 270.6,80.0 270.2,80.2 269.8,80.5 269.5,80.7 269.1,80.9 268.7,81.1 268.4,81.3 268.0,81.5 267.7,81.7 267.3,81.9 267.0,82.1 266.6,82.3 266.2,82.5 265.9,82.7 265.5,82.9 265.2,83.1 264.8,83.2 264.4,83.4 264.1,83.6 263.7,83.8 263.3,83.9 263.0,84.1 262.6,84.3 262.2,84.4 261.9,84.6 261.5,84.8 261.1,85.0 260.7,85.1 260.3,85.2 259.9,85.2 259.5,85.3 259.0,85.4 258.6,85.5 258.2,85.6 257.8,85.6 257.4,85.6 256.9,85.6 256.5,85.6 256.1,85.6 255.6,85.6 255.2,85.6 254.8,85.6 254.3,85.5 253.9,85.5 253.4,85.5 253.0,85.5 252.5,85.4 252.1,85.4 251.6,85.3 251.2,85.2 250.7,85.1 250.2,85.0 249.8,84.9 249.3,84.8 248.9,84.7 248.4,84.5 247.9,84.4 247.4,84.2 246.9,84.1 246.4,83.9 246.0,83.7 245.5,83.6 245.0,83.3 244.5,83.1 244.1,82.8 243.6,82.5 243.1,82.3 242.7,82.0 242.2,81.7 241.8,81.3 241.3,81.0 240.8,80.7 240.4,80.3 239.9,80.0 239.5,79.5 239.2,79.1 238.8,78.6 238.5,78.2 238.1,77.7 237.8,77.2 237.5,76.7 237.1,76.2 236.8,75.7 236.6,75.2 236.4,74.6 236.3,74.1 236.1,73.5 236.0,72.9 235.9,72.3 235.7,71.8 235.6,71.2 235.5,70.6 235.4,70.0 235.4,69.4 235.4,68.8 235.5,68.2 235.5,67.6 235.6,67.0 235.7,66.4 235.7,65.8 235.8,65.3 235.9,64.7 236.0,64.1 236.1,63.5 236.3,62.9 236.5,62.3 236.7,61.8 236.9,61.2 237.1,60.7 237.4,60.1 237.6,59.6 237.9,59.0 238.1,58.5 238.4,58.0 238.6,57.4 238.9,56.9 239.2,56.3 239.5,55.8 239.9,55.3 240.2,54.8 240.5,54.3 240.9,53.8 241.2,53.3 241.6,52.8 242.0,52.3 242.4,51.8 242.7,51.3 243.1,50.8 243.5,50.3 243.9,49.8 244.4,49.3 244.8,48.8 245.3,48.3 245.8,47.9 246.2,47.4 246.7,46.9 247.2,46.4 247.7,45.9 248.2,45.4 248.8,44.9 249.3,44.4 249.9,43.9 250.5,43.4 251.1,43.0 251.7,42.5 252.4,41.9 253.0,41.4 253.7,41.0 254.4,40.8 255.2,40.7 255.9,40.5 256.7,40.4 257.4,40.3 258.2,40.1 259.0,40.1 259.7,40.2 260.5,40.3 261.2,40.4 262.0,40.5 262.8,40.6 263.5,40.7 264.3,40.8 265.0,40.9 265.8,41.0 266.6,41.1 267.3,41.3 268.1,41.4 268.9,41.6 269.7,41.7 270.5,41.9 271.3,42.0 272.1,42.2 272.8,42.5 273.5,42.9 274.2,43.3 274.9,43.7 275.5,44.2 276.2,44.7 276.8,45.1 277.4,45.7 278.0,46.2 278.5,46.8 279.0,47.4 279.6,48.0 280.0,48.7 280.5,49.3 281.0,50.0 281.2,50.7 281.5,51.5 281.7,52.3 281.9,53.1 282.1,53.9 282.3,54.6 282.5,55.4 282.6,56.1 282.7,56.9 282.8,57.7 282.8,58.4 282.9,59.2 282.9,59.9 282.9,60.7 282.9,61.4 282.9,62.1 282.8,62.8 282.8,63.5 282.8,64.2 282.6,64.9 282.4,65.6 282.2,66.2 282.0,66.9 281.7,67.5 281.5,68.2 281.3,68.8Z" fill="#59a3a6"/>
<path d="M277.2,69.4 277.0,69.9 276.7,70.4 276.5,70.8 276.2,71.3 276.0,71.7 275.6,72.2 275.3,72.6 274.9,73.0 274.6,73.3 274.3,73.7 273.9,74.1 273.6,74.4 273.3,74.7 272.9,75.1 272.6,75.4 272.2,75.6 271.9,75.9 271.6,76.2 271.2,76.5 270.9,76.7 270.6,77.0 270.3,77.2 269.9,77.5 269.6,77.7 269.3,77.9 269.0,78.1 268.7,78.3 268.3,78.5 268.0,78.7 267.7,78.9 267.4,79.1 267.1,79.3 266.8,79.5 266.5,79.7 266.2,79.8 265.9,80.0 265.6,80.2 265.3,80.4 265.0,80.5 264.7,80.7 264.4,80.8 264.1,81.0 263.8,81.1 263.5,81.3 263.2,81.4 262.9,81.6 262.6,81.7 262.2,81.8 261.9,82.0 261.6,82.1 261.3,82.2 261.0,82.4 260.6,82.5 260.3,82.6 260.0,82.7 259.6,82.8 259.3,82.9 258.9,83.0 258.6,83.0 258.2,83.1 257.8,83.2 257.5,83.2 257.1,83.2 256.7,83.2 256.4,83.3 256.0,83.3 255.6,83.3 255.2,83.3 254.9,83.3 254.5,83.3 254.1,83.3 253.7,83.3 253.3,83.3 252.9,83.3 252.5,83.3 252.1,83.2 251.6,83.2 251.2,83.1 250.8,83.0 250.4,82.9 250.0,82.8 249.5,82.7 249.1,82.6 248.7,82.5 248.2,82.4 247.8,82.3 247.4,82.1 246.9,81.9 246.5,81.7 246.1,81.5 245.6,81.3 245.2,81.1 244.8,80.8 244.4,80.6 244.0,80.3 243.6,80.0 243.2,79.7 242.8,79.4 242.4,79.1 242.0,78.8 241.7,78.4 241.3,78.0 241.0,77.6 240.7,77.2 240.4,76.8 240.1,76.3 239.9,75.9 239.6,75.4 239.4,75.0 239.2,74.5 239.0,74.0 238.9,73.5 238.8,73.0 238.6,72.5 238.6,72.0 238.5,71.5 238.4,71.0 238.3,70.4 238.3,69.9 238.3,69.4 238.3,68.9 238.4,68.4 238.4,67.8 238.5,67.3 238.5,66.8 238.6,66.3 238.7,65.8 238.8,65.3 238.9,64.8 239.1,64.3 239.2,63.8 239.4,63.3 239.6,62.8 239.8,62.3 240.0,61.9 240.2,61.4 240.4,60.9 240.7,60.5 240.9,60.0 241.1,59.5 241.4,59.1 241.6,58.6 241.9,58.2 242.2,57.8 242.5,57.3 242.8,56.9 243.1,56.5 243.4,56.1 243.7,55.7 244.1,55.3 244.4,54.8 244.7,54.4 245.1,54.0 245.4,53.6 245.8,53.2 246.2,52.8 246.6,52.5 247.0,52.1 247.4,51.7 247.8,51.3 248.2,51.0 248.6,50.6 249.0,50.2 249.5,49.8 249.9,49.4 250.4,49.1 250.9,48.7 251.4,48.4 251.9,48.0 252.4,47.7 252.9,47.3 253.4,47.0 254.0,46.6 254.5,46.3 255.1,46.1 255.7,46.0 256.3,45.8 257.0,45.7 257.6,45.5 258.2,45.4 258.8,45.3 259.5,45.3 260.1,45.3 260.7,45.3 261.4,45.3 262.0,45.3 262.7,45.3 263.3,45.4 264.0,45.4 264.6,45.5 265.3,45.5 265.9,45.6 266.6,45.7 267.3,45.8 267.9,45.9 268.6,46.1 269.3,46.2 269.9,46.4 270.6,46.6 271.2,46.9 271.8,47.2 272.4,47.6 273.0,47.9 273.5,48.3 274.1,48.7 274.6,49.1 275.1,49.6 275.6,50.1 276.1,50.6 276.5,51.1 276.9,51.6 277.3,52.2 277.7,52.8 278.0,53.4 278.2,54.0 278.4,54.7 278.6,55.4 278.8,56.0 279.0,56.7 279.1,57.3 279.2,58.0 279.3,58.7 279.3,59.3 279.3,60.0 279.3,60.6 279.3,61.3 279.3,61.9 279.2,62.6 279.2,63.2 279.1,63.8 279.0,64.4 278.9,65.0 278.7,65.6 278.5,66.2 278.3,66.7 278.1,67.3 277.9,67.8 277.7,68.4 277.5,68.9Z" fill="#66b296"/>
<path d="M273.6,69.4 273.3,69.8 273.1,70.2 272.9,70.6 272.6,70.9 272.4,71.3 272.1,71.6 271.9,71.9 271.6,72.2 271.4,72.6 271.1,72.9 270.8,73.1 270.6,73.4 270.3,73.7 270.1,74.0 269.8,74.2 269.6,74.5 269.3,74.7 269.1,74.9 268.8,75.2 268.6,75.4 268.3,75.6 268.1,75.8 267.8,76.0 267.6,76.2 267.3,76.4 267.1,76.6 266.8,76.8 266.6,76.9 266.3,77.1 266.1,77.3 265.8,77.4 265.6,77.6 265.3,77.8 265.1,77.9 264.8,78.0 264.6,78.2 264.3,78.3 264.1,78.5 263.8,78.6 263.6,78.7 263.3,78.9 263.1,79.0 262.8,79.1 262.6,79.2 262.3,79.4 262.1,79.5 261.8,79.6 261.5,79.7 261.3,79.8 261.0,79.9 260.7,80.0 260.5,80.1 260.2,80.2 259.9,80.3 259.6,80.4 259.4,80.4 259.1,80.5 258.8,80.6 258.5,80.7 258.2,80.8 257.9,80.8 257.6,80.9 257.3,81.0 257.0,81.0 256.7,81.1 256.3,81.1 256.0,81.2 255.7,81.2 255.4,81.2 255.0,81.3 254.7,81.3 254.3,81.3 254.0,81.3 253.6,81.3 253.3,81.3 252.9,81.3 252.5,81.3 252.2,81.3 251.8,81.2 251.4,81.2 251.0,81.1 250.6,81.0 250.2,81.0 249.9,80.9 249.5,80.8 249.1,80.7 248.7,80.5 248.3,80.4 247.9,80.3 247.5,80.1 247.1,79.9 246.7,79.7 246.4,79.5 246.0,79.3 245.6,79.0 245.3,78.8 244.9,78.5 244.6,78.2 244.3,77.9 244.0,77.6 243.7,77.3 243.4,77.0 243.1,76.6 242.8,76.2 242.6,75.9 242.4,75.5 242.2,75.1 242.0,74.7 241.8,74.3 241.6,73.8 241.5,73.4 241.4,73.0 241.3,72.5 241.2,72.1 241.1,71.6 241.1,71.2 241.0,70.8 241.0,70.3 241.0,69.9 241.0,69.4 241.0,69.0 241.1,68.5 241.1,68.1 241.2,67.6 241.3,67.2 241.4,66.7 241.5,66.3 241.6,65.9 241.7,65.4 241.8,65.0 242.0,64.6 242.2,64.2 242.3,63.8 242.5,63.4 242.7,63.0 242.9,62.6 243.1,62.2 243.3,61.8 243.5,61.4 243.7,61.1 244.0,60.7 244.2,60.3 244.5,60.0 244.7,59.6 245.0,59.3 245.3,58.9 245.5,58.6 245.8,58.2 246.1,57.9 246.4,57.6 246.7,57.3 247.0,57.0 247.3,56.7 247.6,56.3 248.0,56.0 248.3,55.8 248.6,55.5 249.0,55.2 249.3,54.9 249.7,54.6 250.0,54.4 250.4,54.1 250.8,53.8 251.2,53.6 251.5,53.3 251.9,53.1 252.3,52.8 252.7,52.6 253.2,52.4 253.6,52.2 254.0,52.0 254.4,51.8 254.9,51.6 255.3,51.4 255.8,51.2 256.3,51.0 256.7,50.8 257.2,50.7 257.7,50.5 258.2,50.4 258.7,50.3 259.2,50.1 259.7,50.0 260.2,50.0 260.8,49.9 261.3,49.8 261.8,49.8 262.4,49.7 262.9,49.7 263.5,49.7 264.0,49.7 264.6,49.7 265.1,49.8 265.7,49.8 266.3,49.9 266.8,50.0 267.4,50.2 267.9,50.3 268.5,50.5 269.0,50.7 269.5,50.9 270.0,51.2 270.5,51.4 271.0,51.7 271.5,52.0 272.0,52.4 272.4,52.8 272.8,53.2 273.2,53.6 273.6,54.0 273.9,54.5 274.3,54.9 274.6,55.4 274.8,55.9 275.1,56.4 275.3,57.0 275.5,57.5 275.6,58.1 275.8,58.6 275.9,59.2 275.9,59.8 276.0,60.3 276.0,60.9 276.0,61.5 276.0,62.0 275.9,62.6 275.8,63.2 275.8,63.7 275.6,64.2 275.5,64.8 275.4,65.3 275.2,65.8 275.0,66.3 274.9,66.8 274.7,67.2 274.5,67.7 274.3,68.1 274.0,68.6 273.8,69.0Z" fill="#86c070"/>
<path d="M270.9,69.4 270.7,69.7 270.5,70.0 270.3,70.3 270.0,70.6 269.8,70.9 269.6,71.2 269.4,71.5 269.2,71.7 269.0,72.0 268.7,72.2 268.5,72.5 268.3,72.7 268.1,72.9 267.9,73.1 267.7,73.3 267.5,73.5 267.2,73.7 267.0,73.9 266.8,74.1 266.6,74.3 266.4,74.4 266.2,74.6 266.0,74.7 265.8,74.9 265.6,75.1 265.4,75.2 265.2,75.3 265.0,75.5 264.8,75.6 264.6,75.8 264.4,75.9 264.2,76.0 263.9,76.1 263.7,76.2 263.5,76.4 263.3,76.5 263.1,76.6 262.9,76.7 262.7,76.8 262.5,76.9 262.3,77.0 262.1,77.1 261.9,77.2 261.7,77.3 261.5,77.4 261.3,77.5 261.1,77.6 260.9,77.7 260.7,77.7 260.5,77.8 260.2,77.9 260.0,78.0 259.8,78.0 259.6,78.1 259.4,78.2 259.1,78.3 258.9,78.3 258.7,78.4 258.4,78.4 258.2,78.5 258.0,78.6 257.7,78.6 257.5,78.7 257.2,78.7 257.0,78.8 256.7,78.8 256.5,78.8 256.2,78.9 255.9,78.9 255.6,78.9 255.4,78.9 255.1,79.0 254.8,79.0 254.5,79.0 254.2,79.0 253.9,79.0 253.6,79.0 253.3,79.0 253.0,78.9 252.7,78.9 252.4,78.9 252.1,78.8 251.8,78.8 251.4,78.7 251.1,78.6 250.8,78.5 250.5,78.4 250.1,78.3 249.8,78.2 249.5,78.1 249.2,78.0 248.9,77.8 248.5,77.7 248.2,77.5 247.9,77.3 247.6,77.1 247.3,76.9 247.0,76.7 246.7,76.4 246.5,76.2 246.2,75.9 246.0,75.6 245.7,75.3 245.5,75.0 245.3,74.7 245.1,74.4 245.0,74.1 244.8,73.8 244.7,73.4 244.5,73.1 244.5,72.7 244.4,72.3 244.3,72.0 244.2,71.6 244.2,71.2 244.2,70.9 244.2,70.5 244.2,70.1 244.2,69.8 244.2,69.4 244.3,69.0 244.3,68.7 244.4,68.3 244.5,68.0 244.6,67.6 244.7,67.3 244.8,66.9 244.9,66.6 245.0,66.2 245.1,65.9 245.3,65.6 245.4,65.2 245.6,64.9 245.7,64.6 245.9,64.3 246.1,64.0 246.2,63.7 246.4,63.4 246.6,63.1 246.8,62.8 247.0,62.5 247.2,62.3 247.4,62.0 247.6,61.7 247.8,61.4 248.0,61.2 248.3,60.9 248.5,60.7 248.7,60.4 249.0,60.2 249.2,59.9 249.4,59.7 249.7,59.4 249.9,59.2 250.2,59.0 250.5,58.8 250.7,58.5 251.0,58.3 251.3,58.1 251.6,57.9 251.8,57.7 252.1,57.5 252.4,57.3 252.7,57.1 253.0,56.9 253.3,56.7 253.7,56.6 254.0,56.4 254.3,56.2 254.6,56.0 255.0,55.9 255.3,55.7 255.6,55.6 256.0,55.4 256.3,55.3 256.7,55.1 257.1,55.0 257.4,54.9 257.8,54.8 258.2,54.7 258.6,54.6 259.0,54.5 259.4,54.4 259.8,54.3 260.2,54.3 260.6,54.2 261.0,54.2 261.4,54.1 261.9,54.1 262.3,54.1 262.7,54.1 263.2,54.1 263.6,54.1 264.0,54.2 264.5,54.2 264.9,54.3 265.4,54.4 265.8,54.5 266.2,54.6 266.6,54.8 267.1,54.9 267.5,55.1 267.9,55.3 268.3,55.5 268.7,55.8 269.0,56.0 269.4,56.3 269.8,56.6 270.1,56.9 270.4,57.2 270.7,57.5 271.0,57.9 271.3,58.2 271.5,58.6 271.7,59.0 272.0,59.4 272.1,59.8 272.3,60.2 272.4,60.7 272.5,61.1 272.6,61.6 272.7,62.0 272.8,62.5 272.8,62.9 272.8,63.4 272.8,63.8 272.7,64.3 272.7,64.7 272.6,65.1 272.5,65.6 272.4,66.0 272.3,66.4 272.1,66.8 272.0,67.2 271.8,67.6 271.6,68.0 271.5,68.4 271.3,68.7 271.1,69.1Z" fill="#bcd242"/>
<path d="M268.9,69.4 268.7,69.7 268.5,69.9 268.3,70.2 268.1,70.4 268.0,70.7 267.8,70.9 267.6,71.1 267.4,71.4 267.2,71.6 267.0,71.8 266.8,72.0 266.6,72.1 266.4,72.3 266.2,72.5 266.1,72.7 265.9,72.8 265.7,73.0 265.5,73.1 265.3,73.3 265.2,73.4 265.0,73.6 264.8,73.7 264.6,73.8 264.5,73.9 264.3,74.1 264.1,74.2 263.9,74.3 263.8,74.4 263.6,74.5 263.4,74.6 263.3,74.7 263.1,74.8 262.9,74.9 262.8,75.0 262.6,75.1 262.4,75.2 262.3,75.3 262.1,75.4 261.9,75.5 261.8,75.6 261.6,75.6 261.4,75.7 261.2,75.8 261.1,75.9 260.9,75.9 260.7,76.0 260.6,76.1 260.4,76.1 260.2,76.2 260.0,76.3 259.9,76.3 259.7,76.4 259.5,76.5 259.3,76.5 259.1,76.6 259.0,76.6 258.8,76.7 258.6,76.7 258.4,76.8 258.2,76.8 258.0,76.9 257.8,76.9 257.6,77.0 257.4,77.0 257.2,77.0 257.0,77.1 256.8,77.1 256.6,77.1 256.3,77.2 256.1,77.2 255.9,77.2 255.7,77.2 255.4,77.2 255.2,77.2 254.9,77.3 254.7,77.3 254.5,77.3 254.2,77.2 253.9,77.2 253.7,77.2 253.4,77.2 253.2,77.2 252.9,77.1 252.6,77.1 252.4,77.0 252.1,77.0 251.8,76.9 251.5,76.8 251.2,76.7 251.0,76.6 250.7,76.5 250.4,76.4 250.1,76.3 249.9,76.1 249.6,76.0 249.3,75.8 249.1,75.7 248.8,75.5 248.6,75.3 248.3,75.1 248.1,74.9 247.9,74.6 247.7,74.4 247.5,74.2 247.3,73.9 247.2,73.6 247.0,73.4 246.9,73.1 246.8,72.8 246.7,72.5 246.6,72.2 246.6,71.9 246.5,71.6 246.5,71.3 246.5,70.9 246.5,70.6 246.5,70.3 246.5,70.0 246.6,69.7 246.6,69.4 246.7,69.1 246.8,68.8 246.8,68.5 246.9,68.2 247.0,67.9 247.1,67.6 247.2,67.4 247.3,67.1 247.5,66.8 247.6,66.6 247.7,66.3 247.8,66.0 248.0,65.8 248.1,65.5 248.3,65.3 248.4,65.0 248.6,64.8 248.7,64.6 248.9,64.3 249.1,64.1 249.2,63.9 249.4,63.7 249.6,63.5 249.7,63.3 249.9,63.1 250.1,62.8 250.3,62.6 250.5,62.4 250.7,62.3 250.9,62.1 251.1,61.9 251.3,61.7 251.5,61.5 251.7,61.3 251.9,61.2 252.1,61.0 252.3,60.8 252.5,60.7 252.7,60.5 253.0,60.3 253.2,60.2 253.4,60.0 253.7,59.9 253.9,59.7 254.1,59.6 254.4,59.4 254.6,59.3 254.9,59.2 255.1,59.0 255.4,58.9 255.7,58.8 255.9,58.7 256.2,58.5 256.5,58.4 256.7,58.3 257.0,58.2 257.3,58.1 257.6,58.0 257.9,57.9 258.2,57.8 258.5,57.8 258.8,57.7 259.1,57.6 259.4,57.6 259.8,57.5 260.1,57.5 260.4,57.4 260.8,57.4 261.1,57.4 261.4,57.4 261.8,57.4 262.1,57.4 262.5,57.4 262.8,57.4 263.2,57.4 263.5,57.5 263.9,57.6 264.2,57.6 264.5,57.7 264.9,57.8 265.2,57.9 265.6,58.0 265.9,58.2 266.2,58.3 266.6,58.5 266.9,58.7 267.2,58.9 267.5,59.1 267.8,59.3 268.1,59.5 268.3,59.8 268.6,60.0 268.8,60.3 269.1,60.6 269.3,60.9 269.5,61.2 269.7,61.5 269.8,61.9 270.0,62.2 270.1,62.5 270.2,62.9 270.3,63.2 270.4,63.6 270.4,64.0 270.4,64.3 270.4,64.7 270.4,65.1 270.4,65.4 270.3,65.8 270.3,66.2 270.2,66.5 270.1,66.9 270.0,67.2 269.8,67.6 269.7,67.9 269.6,68.2 269.4,68.5 269.2,68.8 269.1,69.1Z" fill="#efe21e"/>
<path d="M267.1,69.4 266.9,69.6 266.8,69.8 266.6,70.1 266.4,70.3 266.3,70.5 266.1,70.7 265.9,70.8 265.8,71.0 265.6,71.2 265.4,71.3 265.3,71.5 265.1,71.6 264.9,71.8 264.8,71.9 264.6,72.1 264.5,72.2 264.3,72.3 264.2,72.4 264.0,72.5 263.9,72.7 263.7,72.8 263.6,72.9 263.4,73.0 263.3,73.1 263.1,73.2 263.0,73.3 262.8,73.4 262.7,73.4 262.6,73.5 262.4,73.6 262.3,73.7 262.1,73.8 262.0,73.8 261.9,73.9 261.7,74.0 261.6,74.1 261.5,74.1 261.3,74.2 261.2,74.3 261.0,74.3 260.9,74.4 260.8,74.5 260.6,74.5 260.5,74.6 260.4,74.6 260.2,74.7 260.1,74.7 260.0,74.8 259.8,74.8 259.7,74.9 259.5,74.9 259.4,75.0 259.2,75.0 259.1,75.1 259.0,75.1 258.8,75.2 258.7,75.2 258.5,75.3 258.4,75.3 258.2,75.3 258.0,75.4 257.9,75.4 257.7,75.4 257.6,75.5 257.4,75.5 257.2,75.5 257.1,75.6 256.9,75.6 256.7,75.6 256.5,75.6 256.3,75.7 256.2,75.7 256.0,75.7 255.8,75.7 255.6,75.7 255.4,75.7 255.2,75.7 255.0,75.7 254.8,75.7 254.6,75.7 254.4,75.7 254.1,75.7 253.9,75.6 253.7,75.6 253.5,75.6 253.2,75.5 253.0,75.5 252.8,75.4 252.5,75.4 252.3,75.3 252.1,75.2 251.8,75.1 251.6,75.0 251.4,74.9 251.1,74.8 250.9,74.7 250.7,74.6 250.4,74.4 250.2,74.3 250.0,74.1 249.8,73.9 249.6,73.8 249.5,73.6 249.3,73.4 249.2,73.1 249.0,72.9 248.9,72.7 248.8,72.5 248.7,72.2 248.7,72.0 248.6,71.7 248.6,71.4 248.6,71.2 248.5,70.9 248.6,70.7 248.6,70.4 248.6,70.2 248.7,69.9 248.7,69.6 248.8,69.4 248.9,69.2 248.9,68.9 249.0,68.7 249.1,68.4 249.2,68.2 249.3,68.0 249.4,67.8 249.5,67.6 249.6,67.3 249.8,67.1 249.9,66.9 250.0,66.7 250.1,66.5 250.3,66.4 250.4,66.2 250.5,66.0 250.7,65.8 250.8,65.6 250.9,65.5 251.1,65.3 251.2,65.1 251.4,65.0 251.5,64.8 251.7,64.7 251.8,64.5 252.0,64.4 252.1,64.2 252.3,64.1 252.4,63.9 252.6,63.8 252.7,63.6 252.9,63.5 253.1,63.4 253.2,63.2 253.4,63.1 253.5,63.0 253.7,62.9 253.9,62.8 254.1,62.6 254.2,62.5 254.4,62.4 254.6,62.3 254.8,62.2 254.9,62.1 255.1,62.0 255.3,61.9 255.5,61.8 255.7,61.7 255.9,61.6 256.1,61.5 256.3,61.4 256.5,61.3 256.7,61.2 256.9,61.1 257.1,61.1 257.3,61.0 257.5,60.9 257.8,60.8 258.0,60.8 258.2,60.7 258.4,60.6 258.7,60.6 258.9,60.5 259.1,60.5 259.4,60.4 259.6,60.4 259.9,60.4 260.1,60.3 260.4,60.3 260.6,60.3 260.9,60.3 261.2,60.3 261.4,60.3 261.7,60.3 262.0,60.3 262.2,60.3 262.5,60.4 262.8,60.4 263.0,60.5 263.3,60.5 263.6,60.6 263.9,60.7 264.1,60.8 264.4,60.9 264.7,61.0 264.9,61.1 265.2,61.2 265.5,61.3 265.7,61.5 265.9,61.7 266.2,61.8 266.4,62.0 266.6,62.2 266.8,62.4 267.0,62.6 267.2,62.8 267.4,63.1 267.6,63.3 267.7,63.6 267.9,63.8 268.0,64.1 268.1,64.4 268.2,64.6 268.3,64.9 268.3,65.2 268.3,65.5 268.3,65.8 268.3,66.1 268.3,66.4 268.3,66.7 268.2,67.0 268.1,67.3 268.0,67.6 267.9,67.9 267.8,68.1 267.7,68.4 267.5,68.7 267.4,68.9 267.2,69.2Z" fill="#f6b420"/>
<path d="M265.4,69.4 265.3,69.6 265.1,69.8 265.0,69.9 264.8,70.1 264.7,70.3 264.5,70.4 264.4,70.5 264.2,70.7 264.1,70.8 264.0,70.9 263.8,71.1 263.7,71.2 263.5,71.3 263.4,71.4 263.3,71.5 263.1,71.6 263.0,71.7 262.9,71.8 262.8,71.9 262.6,72.0 262.5,72.0 262.4,72.1 262.3,72.2 262.1,72.3 262.0,72.3 261.9,72.4 261.8,72.5 261.7,72.5 261.6,72.6 261.5,72.7 261.4,72.7 261.2,72.8 261.1,72.8 261.0,72.9 260.9,72.9 260.8,73.0 260.7,73.0 260.6,73.1 260.5,73.1 260.4,73.2 260.3,73.2 260.2,73.3 260.1,73.3 260.0,73.4 259.9,73.4 259.8,73.4 259.6,73.5 259.5,73.5 259.4,73.6 259.3,73.6 259.2,73.6 259.1,73.7 259.0,73.7 258.9,73.7 258.8,73.8 258.7,73.8 258.5,73.8 258.4,73.9 258.3,73.9 258.2,73.9 258.1,74.0 258.0,74.0 257.8,74.0 257.7,74.0 257.6,74.1 257.5,74.1 257.3,74.1 257.2,74.1 257.1,74.2 256.9,74.2 256.8,74.2 256.6,74.2 256.5,74.2 256.3,74.2 256.2,74.3 256.0,74.3 255.9,74.3 255.7,74.3 255.6,74.3 255.4,74.3 255.2,74.3 255.0,74.3 254.9,74.3 254.7,74.2 254.5,74.2 254.3,74.2 254.1,74.2 253.9,74.1 253.7,74.1 253.5,74.1 253.3,74.0 253.1,74.0 252.9,73.9 252.7,73.8 252.5,73.7 252.3,73.7 252.1,73.6 252.0,73.5 251.8,73.3 251.6,73.2 251.4,73.1 251.3,72.9 251.1,72.8 251.0,72.6 250.9,72.4 250.7,72.3 250.7,72.1 250.6,71.9 250.5,71.7 250.5,71.5 250.4,71.3 250.4,71.1 250.4,70.8 250.5,70.6 250.5,70.4 250.5,70.2 250.6,70.0 250.6,69.8 250.7,69.6 250.8,69.4 250.9,69.2 251.0,69.0 251.1,68.8 251.2,68.7 251.3,68.5 251.4,68.3 251.5,68.2 251.6,68.0 251.7,67.8 251.8,67.7 251.9,67.5 252.0,67.4 252.2,67.3 252.3,67.1 252.4,67.0 252.5,66.9 252.6,66.7 252.8,66.6 252.9,66.5 253.0,66.4 253.1,66.3 253.2,66.2 253.3,66.1 253.5,66.0 253.6,65.9 253.7,65.8 253.8,65.7 253.9,65.6 254.1,65.5 254.2,65.4 254.3,65.3 254.4,65.2 254.5,65.1 254.7,65.0 254.8,65.0 254.9,64.9 255.0,64.8 255.2,64.7 255.3,64.6 255.4,64.6 255.5,64.5 255.7,64.4 255.8,64.3 255.9,64.3 256.0,64.2 256.2,64.1 256.3,64.1 256.5,64.0 256.6,64.0 256.7,63.9 256.9,63.8 257.0,63.8 257.1,63.7 257.3,63.7 257.4,63.6 257.6,63.6 257.7,63.5 257.9,63.5 258.0,63.4 258.2,63.4 258.4,63.3 258.5,63.3 258.7,63.2 258.9,63.2 259.0,63.2 259.2,63.1 259.4,63.1 259.5,63.1 259.7,63.1 259.9,63.1 260.1,63.0 260.3,63.0 260.5,63.0 260.7,63.0 260.8,63.0 261.0,63.0 261.2,63.0 261.4,63.0 261.6,63.0 261.9,63.1 262.1,63.1 262.3,63.1 262.5,63.2 262.7,63.2 262.9,63.3 263.1,63.3 263.3,63.4 263.5,63.5 263.8,63.5 264.0,63.6 264.2,63.7 264.4,63.8 264.6,63.9 264.8,64.1 265.0,64.2 265.2,64.3 265.3,64.5 265.5,64.7 265.7,64.8 265.8,65.0 265.9,65.2 266.1,65.4 266.2,65.6 266.3,65.8 266.3,66.0 266.4,66.3 266.4,66.5 266.4,66.7 266.4,67.0 266.4,67.2 266.3,67.4 266.3,67.7 266.2,67.9 266.1,68.1 266.0,68.4 265.9,68.6 265.8,68.8 265.7,69.0 265.5,69.2Z" fill="#f27e1a"/>
<path d="M263.8,69.4 263.7,69.5 263.6,69.7 263.4,69.8 263.3,69.9 263.2,70.1 263.1,70.2 262.9,70.3 262.8,70.4 262.7,70.5 262.6,70.6 262.4,70.7 262.3,70.7 262.2,70.8 262.1,70.9 262.0,71.0 261.9,71.0 261.8,71.1 261.7,71.2 261.6,71.2 261.5,71.3 261.4,71.3 261.3,71.4 261.2,71.5 261.1,71.5 261.0,71.5 260.9,71.6 260.8,71.6 260.7,71.7 260.6,71.7 260.6,71.8 260.5,71.8 260.4,71.8 260.3,71.9 260.2,71.9 260.2,71.9 260.1,72.0 260.0,72.0 259.9,72.0 259.8,72.1 259.8,72.1 259.7,72.1 259.6,72.2 259.5,72.2 259.5,72.2 259.4,72.2 259.3,72.3 259.2,72.3 259.2,72.3 259.1,72.4 259.0,72.4 258.9,72.4 258.8,72.4 258.8,72.4 258.7,72.5 258.6,72.5 258.5,72.5 258.4,72.5 258.4,72.6 258.3,72.6 258.2,72.6 258.1,72.6 258.0,72.6 257.9,72.7 257.9,72.7 257.8,72.7 257.7,72.7 257.6,72.7 257.5,72.8 257.4,72.8 257.3,72.8 257.2,72.8 257.1,72.8 257.0,72.8 256.9,72.9 256.8,72.9 256.6,72.9 256.5,72.9 256.4,72.9 256.3,72.9 256.2,72.9 256.0,72.9 255.9,72.9 255.8,72.9 255.6,72.9 255.5,72.9 255.3,72.9 255.2,72.9 255.0,72.9 254.9,72.9 254.7,72.9 254.6,72.9 254.4,72.8 254.2,72.8 254.1,72.8 253.9,72.7 253.7,72.7 253.6,72.6 253.4,72.5 253.2,72.4 253.1,72.4 252.9,72.3 252.8,72.1 252.7,72.0 252.6,71.9 252.5,71.8 252.4,71.6 252.3,71.5 252.3,71.3 252.2,71.2 252.2,71.0 252.2,70.8 252.2,70.7 252.2,70.5 252.3,70.3 252.3,70.2 252.4,70.0 252.4,69.9 252.5,69.7 252.6,69.5 252.7,69.4 252.8,69.3 252.9,69.1 253.0,69.0 253.1,68.9 253.2,68.7 253.3,68.6 253.4,68.5 253.5,68.4 253.7,68.3 253.8,68.2 253.9,68.1 254.0,68.0 254.1,67.9 254.2,67.9 254.3,67.8 254.4,67.7 254.5,67.6 254.6,67.6 254.7,67.5 254.8,67.4 254.9,67.4 255.0,67.3 255.1,67.3 255.2,67.2 255.3,67.1 255.4,67.1 255.4,67.0 255.5,67.0 255.6,66.9 255.7,66.9 255.8,66.9 255.9,66.8 256.0,66.8 256.0,66.7 256.1,66.7 256.2,66.7 256.3,66.6 256.4,66.6 256.4,66.5 256.5,66.5 256.6,66.5 256.7,66.4 256.8,66.4 256.9,66.4 256.9,66.3 257.0,66.3 257.1,66.3 257.2,66.2 257.3,66.2 257.3,66.2 257.4,66.2 257.5,66.1 257.6,66.1 257.7,66.1 257.8,66.0 257.8,66.0 257.9,66.0 258.0,66.0 258.1,65.9 258.2,65.9 258.3,65.9 258.4,65.9 258.5,65.8 258.6,65.8 258.7,65.8 258.8,65.8 258.9,65.7 259.0,65.7 259.1,65.7 259.2,65.7 259.3,65.6 259.4,65.6 259.5,65.6 259.7,65.6 259.8,65.6 259.9,65.5 260.0,65.5 260.2,65.5 260.3,65.5 260.5,65.5 260.6,65.5 260.8,65.5 260.9,65.5 261.1,65.5 261.2,65.5 261.4,65.5 261.6,65.5 261.7,65.5 261.9,65.5 262.1,65.5 262.3,65.5 262.4,65.6 262.6,65.6 262.8,65.7 263.0,65.7 263.2,65.8 263.4,65.9 263.5,65.9 263.7,66.0 263.8,66.1 264.0,66.3 264.1,66.4 264.2,66.5 264.3,66.7 264.4,66.8 264.5,67.0 264.6,67.1 264.6,67.3 264.6,67.5 264.6,67.7 264.6,67.9 264.5,68.1 264.5,68.2 264.4,68.4 264.3,68.6 264.2,68.8 264.1,68.9 264.0,69.1 263.9,69.3Z" fill="#e5471a"/>
<ellipse cx="306" cy="40" rx="2" ry="10" transform="rotate(25 306 40)" fill="#4878c4" opacity="0.35"/>
<path d="M337.0,161.2 336.3,161.8 335.9,162.8 335.1,163.2 334.3,163.7 333.9,164.7 333.7,165.7 332.9,166.1 332.3,166.6 331.3,166.7 331.0,167.4 330.2,167.7 329.6,168.0 329.1,168.4 328.7,168.9 328.8,170.0 328.2,170.3 327.7,170.7 327.3,171.1 326.4,170.9 326.0,171.4 325.9,172.0 325.5,172.5 325.2,172.9 324.8,173.3 323.8,172.9 323.8,173.7 323.5,174.1 322.9,174.3 322.3,174.3 322.2,174.9 321.5,174.9 321.7,176.0 321.3,176.3 320.7,176.3 320.1,176.4 320.2,177.3 319.5,177.3 319.4,177.9 319.0,178.2 318.3,178.2 317.8,178.5 317.6,179.0 317.1,179.2 316.4,179.3 316.1,179.8 316.1,180.6 315.1,180.2 314.6,180.6 314.6,181.5 313.9,181.6 313.6,182.2 313.1,182.5 312.5,182.8 312.5,183.9 311.3,183.6 310.9,184.2 310.3,184.4 309.9,185.1 309.1,185.0 308.5,185.4 308.1,186.1 307.2,185.9 306.7,186.5 306.1,187.2 305.0,186.6 304.3,186.9 303.6,187.4 303.0,188.3 302.2,188.3 301.3,188.0 300.6,188.2 299.7,188.2 298.9,188.6 298.0,188.3 297.2,189.2 296.3,189.6 295.4,189.8 294.3,189.7 293.3,190.1 292.4,188.9 291.4,189.2 290.4,190.1 289.3,189.8 288.2,189.4 287.0,190.0 285.8,189.6 284.6,189.8 283.5,189.1 282.3,188.8 280.9,189.0 279.6,188.5 278.2,188.7 276.6,189.2 275.2,188.3 273.9,187.6 272.4,187.3 270.9,187.0 269.9,187.5 269.2,186.8 268.4,186.5 267.7,186.1 266.5,186.9 265.8,186.0 265.0,185.5 264.4,185.2 263.4,184.2 262.2,183.4 260.7,182.8 260.1,181.4 259.4,180.3 258.5,179.1 258.4,177.7 257.2,176.6 257.8,175.0 257.1,173.7 257.1,172.2 257.9,170.8 257.5,169.3 258.3,168.0 258.9,166.7 259.0,165.4 260.1,164.3 260.5,162.7 261.5,161.6 261.6,159.9 262.4,158.8 263.5,157.9 264.9,157.1 265.5,155.9 266.4,154.9 267.3,153.9 268.0,152.9 268.3,151.5 269.8,151.2 270.7,150.4 270.7,148.9 271.8,148.3 272.2,147.2 273.4,146.9 273.7,145.7 274.7,145.1 275.2,144.3 276.0,143.6 276.9,143.1 278.0,142.8 278.6,142.0 278.8,140.8 279.4,140.1 280.1,139.4 281.3,139.3 281.7,138.4 282.2,137.6 283.0,137.1 283.5,136.3 284.4,135.9 285.0,135.2 285.6,134.5 286.6,134.2 286.7,133.0 287.4,132.3 288.8,132.4 288.7,131.0 289.4,130.3 290.4,130.0 291.6,130.0 291.8,128.6 293.1,128.8 293.3,127.4 294.4,127.1 295.6,127.2 296.4,126.4 296.8,125.3 297.7,124.6 298.4,123.7 299.1,122.8 300.5,122.6 301.6,121.9 301.8,120.3 303.4,120.3 304.0,118.8 305.4,119.2 306.2,118.0 307.3,117.6 308.4,117.1 309.7,117.0 310.9,116.4 312.2,117.0 313.3,116.3 314.6,116.5 315.7,115.7 317.0,115.6 318.3,115.8 319.6,115.5 321.0,115.9 322.3,115.8 323.6,115.1 325.0,115.2 326.4,114.6 327.8,114.9 329.3,115.4 330.8,115.1 332.3,114.5 333.9,114.8 335.4,115.5 337.0,114.6 337.9,114.7 338.6,115.6 339.5,115.1 340.4,115.3 341.3,114.9 342.1,115.5 342.9,115.8 343.7,115.6 344.7,115.3 345.2,116.5 346.0,116.7 347.0,116.3 347.9,116.2 348.7,116.9 349.9,117.9 351.4,118.5 352.6,119.7 352.9,121.2 354.1,121.7 353.7,122.7 354.1,123.5 355.0,124.0 354.8,125.0 355.5,125.6 355.3,127.3 356.7,128.5 356.5,130.2 357.0,131.7 358.0,132.9 358.3,134.4 359.0,135.7 359.9,137.2 359.5,138.1 358.7,138.5 358.2,139.4 357.8,140.3 357.1,140.9 356.6,141.8 355.7,142.3 354.6,142.8 354.0,143.7 354.0,144.8 353.0,145.1 352.8,146.1 352.2,147.1 351.1,147.7 350.4,148.6 349.6,149.4 348.7,149.7 348.6,150.8 347.6,150.9 347.2,152.0 345.8,152.2 345.5,153.4 344.7,154.0 343.9,154.5 343.1,155.0 342.2,155.2 342.1,156.3 340.9,157.0 340.3,158.2 339.1,158.7 338.3,159.5 337.6,160.3Z" fill="#3b5bcb"/>
<path d="M335.1,161.4 334.4,162.1 333.8,162.7 333.2,163.3 332.5,163.9 331.8,164.5 331.2,165.0 330.5,165.5 330.0,165.9 329.4,166.4 328.9,166.8 328.4,167.3 327.9,167.7 327.4,168.1 326.9,168.4 326.5,168.8 326.0,169.2 325.6,169.5 325.2,169.9 324.8,170.2 324.4,170.5 324.0,170.8 323.6,171.1 323.2,171.4 322.8,171.8 322.5,172.0 322.1,172.3 321.8,172.6 321.4,172.9 321.0,173.2 320.7,173.5 320.3,173.8 320.0,174.1 319.6,174.3 319.3,174.6 319.0,174.9 318.6,175.2 318.2,175.4 317.9,175.7 317.5,176.0 317.2,176.2 316.8,176.5 316.4,176.8 316.1,177.0 315.7,177.3 315.3,177.6 314.9,177.9 314.5,178.2 314.2,178.5 313.7,178.8 313.3,179.1 312.9,179.4 312.5,179.7 312.1,180.0 311.6,180.4 311.1,180.7 310.7,181.1 310.2,181.4 309.7,181.7 309.1,181.9 308.6,182.1 308.1,182.3 307.5,182.6 306.9,182.8 306.3,183.1 305.7,183.3 305.1,183.6 304.4,183.9 303.8,184.2 303.1,184.3 302.4,184.4 301.7,184.5 301.0,184.7 300.3,184.8 299.6,185.0 298.8,185.1 298.0,185.3 297.1,185.4 296.3,185.6 295.4,185.7 294.6,185.7 293.7,185.7 292.8,185.8 291.8,185.8 290.9,185.8 289.9,185.8 288.8,185.8 287.8,185.8 286.7,185.7 285.6,185.7 284.4,185.6 283.2,185.5 281.9,185.4 280.6,185.3 279.1,185.3 277.8,185.0 276.4,184.8 275.0,184.5 273.4,184.3 271.8,183.9 270.2,183.6 268.5,183.2 267.4,182.4 266.1,181.7 264.8,180.9 263.5,180.1 262.9,179.0 262.7,177.7 262.4,176.4 262.2,175.1 262.0,173.9 261.9,172.6 262.2,171.3 262.5,169.9 262.8,168.7 263.2,167.4 263.5,166.1 263.8,164.9 264.5,163.7 265.2,162.5 265.9,161.4 266.5,160.3 267.2,159.2 267.9,158.2 268.7,157.2 269.5,156.2 270.3,155.3 271.0,154.4 271.8,153.6 272.6,152.7 273.3,151.9 274.1,151.2 274.8,150.4 275.5,149.7 276.2,149.0 276.8,148.2 277.5,147.6 278.1,146.9 278.8,146.2 279.4,145.6 280.1,144.9 280.7,144.3 281.4,143.7 282.1,143.2 282.7,142.6 283.4,142.1 284.1,141.5 284.7,141.0 285.4,140.5 286.0,140.0 286.6,139.4 287.3,138.9 287.9,138.4 288.5,137.9 289.1,137.4 289.7,136.8 290.4,136.3 291.0,135.8 291.6,135.2 292.2,134.7 292.9,134.2 293.6,133.7 294.3,133.3 295.0,132.9 295.7,132.4 296.4,132.0 297.1,131.5 297.8,131.0 298.6,130.5 299.3,129.9 300.0,129.3 300.8,128.7 301.5,128.1 302.3,127.5 303.1,126.8 304.0,126.1 304.8,125.7 305.8,125.4 306.7,125.0 307.6,124.7 308.6,124.3 309.6,124.0 310.6,123.8 311.6,123.6 312.6,123.5 313.6,123.3 314.7,123.2 315.7,123.0 316.8,122.9 317.9,122.7 319.0,122.6 320.1,122.5 321.3,122.4 322.4,122.4 323.6,122.3 324.8,122.2 326.1,122.2 327.3,122.1 328.6,122.1 330.0,122.1 331.3,122.1 332.7,122.1 334.1,122.2 335.5,122.2 337.0,122.3 338.4,122.5 339.9,122.8 341.3,123.1 342.8,123.4 344.0,124.1 345.2,124.8 346.3,125.6 347.4,126.5 348.1,127.6 348.9,128.8 349.7,129.9 350.4,131.0 351.3,132.1 352.1,133.1 353.0,134.2 353.8,135.3 354.5,136.5 355.2,137.6 355.7,138.9 355.3,140.6 353.2,142.9 351.1,145.1 349.5,146.9 348.1,148.6 346.7,150.1 345.0,151.7 343.4,153.0 342.0,154.3 340.8,155.4 339.6,156.5 338.7,157.4 337.9,158.3 337.1,159.2 336.4,159.9 335.7,160.7Z" fill="#4878c4"/>
<path d="M333.3,161.4 332.7,162.0 332.0,162.6 331.4,163.2 330.7,163.7 330.0,164.2 329.4,164.7 328.8,165.1 328.3,165.6 327.7,166.0 327.2,166.4 326.7,166.8 326.2,167.1 325.8,167.5 325.3,167.8 324.9,168.2 324.5,168.5 324.1,168.8 323.7,169.1 323.3,169.4 322.9,169.7 322.6,170.0 322.2,170.2 321.9,170.5 321.5,170.8 321.2,171.0 320.8,171.3 320.5,171.6 320.2,171.8 319.8,172.1 319.5,172.3 319.2,172.6 318.9,172.8 318.5,173.0 318.2,173.3 317.9,173.5 317.6,173.8 317.2,174.0 316.9,174.2 316.6,174.4 316.2,174.6 315.9,174.8 315.6,175.1 315.2,175.3 314.9,175.5 314.5,175.7 314.2,176.0 313.8,176.2 313.5,176.5 313.1,176.7 312.8,176.9 312.4,177.2 312.0,177.4 311.6,177.7 311.2,178.0 310.8,178.2 310.4,178.5 310.0,178.8 309.5,179.0 309.1,179.2 308.6,179.4 308.1,179.6 307.6,179.8 307.1,180.0 306.6,180.2 306.1,180.4 305.6,180.6 305.0,180.8 304.4,181.1 303.8,181.2 303.3,181.3 302.7,181.4 302.0,181.6 301.4,181.7 300.8,181.8 300.1,182.0 299.4,182.1 298.6,182.3 297.9,182.5 297.1,182.6 296.3,182.7 295.5,182.7 294.7,182.8 293.9,182.8 293.0,182.9 292.1,182.9 291.2,182.9 290.2,182.9 289.3,182.9 288.3,182.8 287.2,182.8 286.1,182.8 284.9,182.7 283.7,182.7 282.4,182.7 281.1,182.5 279.7,182.4 278.3,182.2 276.8,182.1 275.3,181.8 273.7,181.5 272.1,181.2 270.8,180.6 269.5,180.1 268.1,179.5 266.5,178.8 266.1,177.7 266.0,176.5 265.9,175.3 265.8,174.1 265.7,172.9 265.7,171.7 265.9,170.5 266.3,169.2 266.7,168.0 267.0,166.9 267.4,165.7 267.8,164.6 268.4,163.5 269.0,162.4 269.6,161.4 270.2,160.4 270.8,159.4 271.4,158.5 272.0,157.6 272.8,156.7 273.6,155.8 274.3,155.0 275.0,154.3 275.7,153.5 276.4,152.8 277.1,152.1 277.7,151.4 278.4,150.7 279.0,150.0 279.6,149.4 280.2,148.8 280.8,148.2 281.4,147.5 282.0,147.0 282.6,146.4 283.2,145.8 283.8,145.3 284.5,144.8 285.1,144.4 285.8,143.9 286.4,143.5 287.1,143.0 287.7,142.6 288.3,142.2 288.9,141.7 289.5,141.3 290.1,140.9 290.7,140.5 291.3,140.0 291.9,139.6 292.4,139.2 293.0,138.7 293.6,138.3 294.2,137.8 294.8,137.4 295.4,137.1 296.0,136.7 296.7,136.4 297.3,136.0 298.0,135.7 298.6,135.3 299.2,135.0 299.9,134.6 300.5,134.1 301.2,133.7 301.8,133.2 302.5,132.7 303.2,132.2 303.9,131.7 304.6,131.2 305.4,130.9 306.2,130.6 307.0,130.4 307.8,130.1 308.6,129.8 309.4,129.5 310.3,129.4 311.1,129.2 312.0,129.1 312.9,129.0 313.8,128.9 314.7,128.7 315.6,128.6 316.5,128.5 317.5,128.3 318.4,128.3 319.4,128.2 320.4,128.2 321.4,128.1 322.4,128.0 323.5,128.0 324.6,127.9 325.7,127.9 326.8,127.8 328.0,127.8 329.2,127.9 330.4,127.9 331.6,127.9 332.9,127.9 334.2,128.0 335.5,128.2 336.8,128.4 338.1,128.6 339.2,129.1 340.3,129.7 341.5,130.2 342.6,130.8 343.4,131.7 344.3,132.5 345.3,133.3 346.2,134.1 347.3,134.8 348.4,135.6 349.5,136.3 350.4,137.3 351.3,138.2 352.2,139.2 352.7,140.4 352.3,141.9 350.5,144.0 348.7,146.0 347.1,147.8 345.7,149.3 344.4,150.8 342.8,152.2 341.4,153.5 340.1,154.7 338.9,155.8 337.8,156.8 336.9,157.7 336.1,158.5 335.3,159.3 334.6,160.0 334.0,160.7Z" fill="#5191b6"/>
<path d="M331.7,161.4 331.1,162.0 330.4,162.5 329.7,163.1 329.1,163.5 328.4,164.0 327.8,164.4 327.2,164.9 326.7,165.2 326.2,165.6 325.7,166.0 325.2,166.3 324.7,166.6 324.3,167.0 323.9,167.3 323.5,167.6 323.1,167.8 322.7,168.1 322.3,168.4 322.0,168.7 321.6,168.9 321.3,169.2 320.9,169.4 320.6,169.6 320.3,169.9 319.9,170.1 319.6,170.3 319.3,170.6 319.0,170.8 318.7,171.0 318.4,171.2 318.1,171.4 317.8,171.6 317.5,171.8 317.2,172.1 316.9,172.3 316.6,172.5 316.3,172.6 316.0,172.8 315.7,173.0 315.4,173.2 315.1,173.3 314.8,173.5 314.5,173.7 314.1,173.8 313.8,174.0 313.5,174.2 313.2,174.4 312.9,174.6 312.6,174.8 312.2,174.9 311.9,175.1 311.6,175.3 311.2,175.5 310.9,175.7 310.5,175.9 310.2,176.2 309.8,176.4 309.4,176.5 309.0,176.7 308.6,176.8 308.2,177.0 307.8,177.1 307.3,177.3 306.9,177.5 306.5,177.7 306.0,177.8 305.5,178.0 305.0,178.2 304.5,178.3 304.0,178.5 303.5,178.6 303.0,178.7 302.4,178.8 301.9,179.0 301.3,179.1 300.6,179.3 300.0,179.4 299.3,179.6 298.7,179.7 298.0,179.8 297.2,180.0 296.5,180.1 295.8,180.1 295.0,180.1 294.2,180.2 293.4,180.2 292.5,180.2 291.7,180.2 290.8,180.2 289.8,180.2 288.8,180.2 287.7,180.2 286.5,180.2 285.3,180.2 284.1,180.2 282.8,180.1 281.4,180.1 279.9,180.0 278.4,179.9 277.0,179.7 275.4,179.4 274.1,179.0 272.6,178.6 271.0,178.1 269.3,177.7 269.1,176.6 269.1,175.4 269.1,174.2 269.1,173.1 269.1,172.0 269.2,170.9 269.4,169.7 269.8,168.6 270.2,167.5 270.6,166.4 271.0,165.4 271.4,164.3 272.0,163.3 272.5,162.3 273.0,161.4 273.6,160.5 274.1,159.6 274.6,158.7 275.2,157.9 275.9,157.1 276.6,156.3 277.3,155.6 277.9,154.9 278.6,154.2 279.2,153.5 279.9,152.9 280.5,152.3 281.1,151.7 281.6,151.1 282.2,150.5 282.8,149.9 283.3,149.3 283.9,148.8 284.4,148.3 284.9,147.7 285.4,147.2 286.0,146.7 286.7,146.3 287.4,146.0 288.0,145.6 288.6,145.2 289.3,144.9 289.9,144.5 290.5,144.2 291.0,143.8 291.6,143.5 292.2,143.2 292.7,142.8 293.3,142.5 293.8,142.1 294.4,141.8 294.9,141.5 295.4,141.1 296.0,140.8 296.5,140.5 297.1,140.2 297.7,139.9 298.2,139.7 298.8,139.4 299.4,139.1 300.0,138.9 300.5,138.6 301.1,138.3 301.7,138.0 302.2,137.7 302.8,137.3 303.4,137.0 304.0,136.7 304.6,136.3 305.2,135.9 305.9,135.7 306.6,135.5 307.2,135.3 307.9,135.1 308.6,134.9 309.3,134.6 310.0,134.5 310.7,134.4 311.4,134.3 312.2,134.2 312.9,134.1 313.7,134.0 314.4,133.9 315.2,133.8 316.0,133.7 316.8,133.6 317.6,133.6 318.5,133.5 319.3,133.5 320.2,133.4 321.1,133.3 322.0,133.3 323.0,133.2 323.9,133.2 324.9,133.2 325.9,133.1 327.0,133.1 328.0,133.1 329.2,133.1 330.3,133.2 331.4,133.3 332.6,133.3 333.7,133.5 334.8,133.8 335.9,134.1 337.0,134.5 338.1,134.8 339.1,135.4 340.1,135.9 341.2,136.4 342.3,136.9 343.6,137.4 344.9,137.8 346.2,138.3 347.3,139.1 348.3,139.8 349.4,140.6 350.0,141.7 349.5,143.2 348.1,145.0 346.4,146.9 344.9,148.5 343.6,150.0 342.3,151.4 340.9,152.8 339.5,154.0 338.3,155.1 337.1,156.1 336.1,157.0 335.2,157.9 334.4,158.7 333.7,159.4 333.0,160.1 332.3,160.8Z" fill="#59a3a6"/>
<path d="M330.2,161.4 329.6,161.9 328.9,162.5 328.2,162.9 327.5,163.4 326.9,163.8 326.3,164.2 325.7,164.6 325.2,164.9 324.7,165.3 324.2,165.6 323.7,165.9 323.3,166.2 322.9,166.5 322.5,166.7 322.1,167.0 321.7,167.2 321.4,167.5 321.0,167.7 320.7,168.0 320.3,168.2 320.0,168.4 319.7,168.6 319.4,168.8 319.1,169.0 318.8,169.2 318.5,169.4 318.2,169.6 317.9,169.8 317.6,170.0 317.4,170.2 317.1,170.3 316.8,170.5 316.6,170.7 316.3,170.9 316.0,171.1 315.7,171.2 315.4,171.4 315.2,171.5 314.9,171.6 314.6,171.7 314.3,171.9 314.0,172.0 313.7,172.1 313.4,172.3 313.2,172.4 312.9,172.5 312.6,172.7 312.3,172.8 312.0,172.9 311.7,173.1 311.4,173.2 311.1,173.3 310.8,173.5 310.5,173.6 310.2,173.8 309.9,173.9 309.6,174.1 309.3,174.2 308.9,174.3 308.6,174.4 308.3,174.5 307.9,174.7 307.5,174.8 307.2,174.9 306.8,175.1 306.4,175.2 306.0,175.4 305.6,175.5 305.2,175.6 304.8,175.7 304.3,175.9 303.9,176.0 303.4,176.1 302.9,176.2 302.4,176.4 301.9,176.5 301.3,176.7 300.7,176.9 300.1,177.0 299.5,177.2 298.8,177.3 298.2,177.4 297.5,177.5 296.9,177.5 296.2,177.6 295.5,177.6 294.7,177.7 293.9,177.7 293.1,177.7 292.2,177.8 291.3,177.8 290.3,177.9 289.3,177.9 288.2,178.0 287.0,178.0 285.7,178.0 284.4,178.0 282.9,178.1 281.5,178.0 280.1,177.9 278.6,177.7 277.1,177.4 275.6,177.2 273.8,176.9 272.0,176.6 271.9,175.5 272.0,174.3 272.2,173.2 272.3,172.2 272.4,171.1 272.5,170.1 272.7,169.0 273.1,168.0 273.6,166.9 274.0,166.0 274.5,165.0 274.9,164.1 275.4,163.1 275.9,162.3 276.3,161.4 276.8,160.6 277.2,159.8 277.7,159.0 278.1,158.2 278.8,157.5 279.5,156.8 280.1,156.1 280.7,155.5 281.4,154.9 281.9,154.3 282.5,153.7 283.1,153.1 283.6,152.6 284.2,152.0 284.7,151.5 285.2,151.0 285.7,150.5 286.2,150.0 286.7,149.5 287.1,149.0 287.6,148.5 288.1,148.1 288.8,147.8 289.5,147.5 290.1,147.2 290.7,146.9 291.3,146.6 291.9,146.4 292.5,146.1 293.0,145.8 293.6,145.6 294.1,145.3 294.6,145.1 295.2,144.8 295.7,144.6 296.2,144.3 296.7,144.1 297.2,143.8 297.7,143.6 298.2,143.3 298.7,143.1 299.2,143.0 299.7,142.8 300.2,142.6 300.7,142.4 301.3,142.3 301.8,142.1 302.3,141.9 302.8,141.7 303.3,141.5 303.8,141.3 304.3,141.1 304.8,140.9 305.3,140.6 305.8,140.4 306.4,140.2 306.9,140.1 307.5,140.0 308.0,139.8 308.6,139.7 309.2,139.5 309.8,139.4 310.3,139.3 310.9,139.2 311.5,139.1 312.1,139.1 312.8,139.0 313.4,138.9 314.0,138.8 314.7,138.8 315.3,138.7 316.0,138.7 316.7,138.6 317.4,138.5 318.1,138.5 318.8,138.4 319.6,138.4 320.4,138.3 321.2,138.3 322.0,138.2 322.8,138.2 323.7,138.1 324.6,138.1 325.6,138.0 326.5,138.0 327.5,138.0 328.6,138.0 329.6,138.1 330.6,138.2 331.7,138.3 332.7,138.5 333.9,138.7 334.9,138.9 336.1,139.1 337.3,139.4 338.6,139.6 340.1,139.8 341.6,140.0 343.1,140.2 344.3,140.8 345.5,141.4 346.8,142.0 347.3,142.9 346.9,144.4 345.8,146.0 344.2,147.7 342.8,149.3 341.5,150.7 340.3,152.0 339.0,153.3 337.7,154.4 336.5,155.5 335.5,156.4 334.5,157.3 333.6,158.1 332.8,158.9 332.1,159.5 331.4,160.2 330.8,160.8Z" fill="#66b296"/>
<path d="M328.7,161.4 328.1,161.9 327.4,162.4 326.7,162.8 326.0,163.2 325.4,163.6 324.8,164.0 324.3,164.3 323.7,164.6 323.3,164.9 322.8,165.2 322.4,165.5 321.9,165.7 321.5,166.0 321.1,166.2 320.8,166.4 320.4,166.7 320.1,166.9 319.7,167.1 319.4,167.3 319.1,167.5 318.8,167.7 318.5,167.8 318.2,168.0 317.9,168.2 317.7,168.4 317.4,168.5 317.1,168.7 316.9,168.8 316.6,169.0 316.4,169.2 316.1,169.3 315.9,169.5 315.6,169.6 315.4,169.8 315.1,169.9 314.9,170.0 314.6,170.1 314.3,170.2 314.1,170.3 313.8,170.4 313.5,170.5 313.3,170.6 313.0,170.6 312.8,170.7 312.5,170.8 312.2,170.9 312.0,171.0 311.7,171.1 311.5,171.1 311.2,171.2 311.0,171.3 310.7,171.4 310.5,171.5 310.2,171.6 309.9,171.6 309.7,171.7 309.4,171.8 309.2,171.9 308.9,172.0 308.6,172.1 308.3,172.2 308.0,172.3 307.7,172.4 307.4,172.5 307.1,172.6 306.8,172.7 306.5,172.8 306.2,172.9 305.8,173.0 305.5,173.1 305.1,173.2 304.7,173.4 304.3,173.5 303.9,173.6 303.5,173.8 303.0,173.9 302.6,174.1 302.1,174.2 301.5,174.4 301.0,174.6 300.4,174.8 299.8,174.9 299.3,175.0 298.7,175.0 298.1,175.1 297.5,175.1 296.8,175.2 296.1,175.3 295.4,175.3 294.6,175.4 293.8,175.5 292.9,175.6 291.9,175.7 290.9,175.8 289.8,175.9 288.5,176.0 287.2,176.1 285.8,176.2 284.4,176.3 283.0,176.2 281.6,176.0 280.1,175.9 278.4,175.8 276.6,175.7 274.5,175.5 274.6,174.4 274.9,173.3 275.1,172.3 275.3,171.3 275.5,170.3 275.7,169.3 275.9,168.3 276.3,167.4 276.8,166.4 277.3,165.5 277.8,164.6 278.2,163.8 278.6,163.0 279.1,162.2 279.5,161.4 279.9,160.6 280.3,159.9 280.6,159.2 281.0,158.5 281.6,157.9 282.3,157.2 282.9,156.6 283.4,156.1 284.0,155.5 284.5,155.0 285.1,154.4 285.6,153.9 286.1,153.4 286.6,152.9 287.0,152.5 287.5,152.0 287.9,151.6 288.4,151.1 288.8,150.7 289.3,150.2 289.7,149.8 290.2,149.4 290.9,149.2 291.5,149.0 292.1,148.8 292.7,148.5 293.3,148.3 293.9,148.1 294.4,148.0 295.0,147.8 295.5,147.6 296.0,147.4 296.5,147.2 297.0,147.1 297.5,146.9 297.9,146.7 298.4,146.6 298.9,146.4 299.3,146.2 299.8,146.1 300.2,146.0 300.7,145.9 301.1,145.8 301.6,145.7 302.1,145.6 302.5,145.5 302.9,145.4 303.4,145.3 303.8,145.2 304.2,145.2 304.7,145.1 305.1,145.0 305.5,144.9 306.0,144.8 306.4,144.7 306.8,144.6 307.3,144.5 307.7,144.5 308.2,144.4 308.6,144.3 309.1,144.2 309.5,144.1 310.0,144.0 310.4,144.0 310.9,143.9 311.4,143.9 311.9,143.8 312.3,143.8 312.8,143.7 313.4,143.7 313.9,143.6 314.4,143.6 314.9,143.5 315.5,143.5 316.1,143.4 316.6,143.3 317.2,143.3 317.9,143.2 318.5,143.1 319.2,143.1 319.9,143.0 320.6,142.9 321.3,142.9 322.1,142.8 322.9,142.7 323.8,142.6 324.7,142.5 325.6,142.5 326.6,142.4 327.6,142.4 328.6,142.4 329.8,142.3 331.0,142.3 332.2,142.3 333.6,142.2 335.1,142.2 336.7,142.1 338.4,142.1 340.2,142.1 341.4,142.4 342.8,142.8 344.2,143.3 344.8,144.1 344.3,145.5 343.6,146.9 342.1,148.5 340.8,150.0 339.5,151.4 338.4,152.6 337.2,153.7 336.0,154.8 334.9,155.8 333.9,156.7 333.0,157.5 332.1,158.3 331.3,159.0 330.6,159.7 329.9,160.3 329.3,160.9Z" fill="#86c070"/>
<path d="M325.3,161.4 324.8,161.8 324.1,162.2 323.5,162.6 323.0,162.9 322.4,163.2 321.9,163.5 321.5,163.8 321.0,164.0 320.6,164.3 320.2,164.5 319.8,164.7 319.5,164.9 319.2,165.1 318.8,165.3 318.5,165.5 318.2,165.7 317.9,165.9 317.7,166.0 317.4,166.2 317.1,166.3 316.9,166.5 316.6,166.6 316.4,166.8 316.2,166.9 315.9,167.0 315.7,167.2 315.5,167.3 315.3,167.4 315.1,167.5 314.9,167.7 314.6,167.8 314.4,167.9 314.2,168.0 314.0,168.1 313.9,168.2 313.6,168.3 313.4,168.4 313.2,168.5 313.0,168.6 312.8,168.6 312.6,168.7 312.4,168.8 312.1,168.8 311.9,168.9 311.7,169.0 311.5,169.0 311.3,169.1 311.1,169.2 310.9,169.2 310.7,169.3 310.5,169.4 310.3,169.4 310.1,169.5 309.9,169.6 309.7,169.6 309.5,169.7 309.3,169.8 309.0,169.8 308.8,169.9 308.6,170.0 308.4,170.1 308.1,170.1 307.9,170.2 307.7,170.3 307.4,170.4 307.2,170.4 306.9,170.5 306.6,170.6 306.4,170.7 306.1,170.8 305.8,170.9 305.5,171.0 305.2,171.1 304.8,171.2 304.5,171.3 304.1,171.4 303.8,171.5 303.4,171.7 303.0,171.8 302.5,171.9 302.0,172.1 301.6,172.2 301.1,172.3 300.7,172.3 300.2,172.4 299.7,172.4 299.1,172.5 298.6,172.5 298.0,172.6 297.3,172.7 296.7,172.7 295.9,172.8 295.1,172.9 294.3,173.0 293.4,173.1 292.4,173.2 291.3,173.3 290.1,173.4 288.9,173.4 287.8,173.4 286.6,173.3 285.3,173.3 283.9,173.2 282.3,173.1 280.6,173.0 280.5,172.2 280.6,171.3 280.6,170.5 280.7,169.7 280.9,168.8 281.1,168.0 281.4,167.2 281.8,166.4 282.3,165.6 282.9,164.8 283.4,164.1 283.8,163.3 284.3,162.7 284.7,162.0 285.1,161.4 285.5,160.8 285.9,160.2 286.3,159.6 286.6,159.1 287.2,158.6 287.7,158.1 288.2,157.6 288.7,157.2 289.2,156.7 289.6,156.3 290.1,155.9 290.5,155.5 290.9,155.1 291.3,154.8 291.7,154.4 292.1,154.0 292.4,153.7 292.8,153.3 293.2,153.0 293.5,152.7 293.8,152.4 294.2,152.1 294.8,151.9 295.3,151.7 295.7,151.5 296.2,151.4 296.7,151.2 297.1,151.1 297.5,150.9 298.0,150.8 298.4,150.6 298.8,150.5 299.2,150.3 299.5,150.2 299.9,150.1 300.3,150.0 300.6,149.8 301.0,149.7 301.4,149.6 301.7,149.5 302.1,149.4 302.4,149.3 302.8,149.2 303.1,149.1 303.5,149.1 303.8,149.0 304.2,148.9 304.5,148.9 304.9,148.8 305.2,148.7 305.5,148.7 305.9,148.6 306.2,148.5 306.5,148.4 306.9,148.4 307.2,148.3 307.6,148.2 307.9,148.2 308.3,148.1 308.6,148.0 309.0,148.0 309.3,147.9 309.7,147.8 310.0,147.8 310.4,147.7 310.8,147.7 311.1,147.6 311.5,147.6 311.9,147.6 312.3,147.5 312.7,147.5 313.1,147.4 313.6,147.4 314.0,147.3 314.4,147.3 314.9,147.2 315.4,147.2 315.9,147.1 316.4,147.1 316.9,147.0 317.4,147.0 318.0,146.9 318.6,146.8 319.2,146.8 319.9,146.7 320.6,146.6 321.3,146.5 322.0,146.5 322.8,146.5 323.6,146.4 324.4,146.4 325.3,146.3 326.3,146.3 327.3,146.3 328.4,146.2 329.6,146.1 330.9,146.1 332.3,146.0 333.7,146.0 334.8,146.3 336.0,146.5 337.2,146.8 337.8,147.5 337.6,148.5 337.3,149.5 336.3,150.8 335.5,151.9 334.6,152.9 333.9,153.9 332.9,154.9 332.0,155.8 331.1,156.6 330.2,157.4 329.3,158.1 328.5,158.8 327.8,159.4 327.1,159.9 326.5,160.5 325.9,160.9Z" fill="#bcd242"/>
<path d="M322.6,161.4 322.1,161.8 321.6,162.1 321.0,162.4 320.5,162.7 320.1,162.9 319.6,163.1 319.2,163.4 318.8,163.6 318.5,163.8 318.1,164.0 317.8,164.1 317.5,164.3 317.2,164.5 317.0,164.6 316.7,164.8 316.4,164.9 316.2,165.0 316.0,165.2 315.7,165.3 315.5,165.4 315.3,165.5 315.1,165.6 314.9,165.7 314.7,165.8 314.5,166.0 314.3,166.1 314.2,166.2 314.0,166.3 313.8,166.3 313.6,166.4 313.5,166.5 313.3,166.6 313.1,166.7 313.0,166.8 312.8,166.9 312.7,167.0 312.5,167.0 312.3,167.1 312.1,167.1 312.0,167.2 311.8,167.3 311.6,167.3 311.4,167.4 311.3,167.4 311.1,167.5 311.0,167.5 310.8,167.6 310.6,167.6 310.5,167.7 310.3,167.7 310.1,167.8 310.0,167.8 309.8,167.9 309.6,168.0 309.5,168.0 309.3,168.1 309.1,168.1 309.0,168.2 308.8,168.2 308.6,168.3 308.4,168.3 308.2,168.4 308.0,168.5 307.9,168.5 307.7,168.6 307.5,168.7 307.2,168.7 307.0,168.8 306.8,168.9 306.6,168.9 306.3,169.0 306.1,169.1 305.9,169.2 305.6,169.2 305.3,169.3 305.0,169.4 304.7,169.5 304.4,169.6 304.1,169.7 303.7,169.8 303.4,169.9 303.0,170.0 302.6,170.1 302.3,170.1 301.9,170.2 301.4,170.2 301.0,170.3 300.6,170.3 300.1,170.4 299.5,170.5 299.0,170.5 298.4,170.6 297.7,170.7 297.1,170.8 296.3,170.8 295.5,170.9 294.6,171.0 293.6,171.1 292.6,171.2 291.7,171.2 290.6,171.2 289.5,171.1 288.3,171.1 287.0,171.0 285.5,171.0 285.3,170.4 285.1,169.7 285.1,169.0 285.1,168.4 285.2,167.7 285.4,167.0 285.7,166.3 286.2,165.5 286.8,164.9 287.3,164.2 287.8,163.6 288.3,163.0 288.8,162.4 289.3,161.9 289.7,161.4 290.1,160.9 290.5,160.4 290.8,160.0 291.2,159.6 291.6,159.2 292.1,158.8 292.5,158.4 292.9,158.1 293.3,157.7 293.7,157.4 294.1,157.1 294.4,156.8 294.8,156.5 295.1,156.2 295.4,155.9 295.7,155.7 296.0,155.4 296.3,155.1 296.6,154.9 296.9,154.6 297.2,154.4 297.5,154.2 297.9,154.0 298.3,153.9 298.7,153.8 299.0,153.6 299.4,153.5 299.7,153.4 300.1,153.3 300.4,153.2 300.7,153.1 301.0,153.0 301.3,152.9 301.6,152.8 301.9,152.7 302.2,152.6 302.5,152.5 302.7,152.4 303.0,152.3 303.3,152.2 303.5,152.1 303.8,152.0 304.1,152.0 304.4,151.9 304.7,151.9 304.9,151.8 305.2,151.8 305.4,151.7 305.7,151.6 306.0,151.6 306.2,151.5 306.5,151.5 306.8,151.4 307.0,151.4 307.3,151.3 307.5,151.3 307.8,151.2 308.1,151.2 308.3,151.1 308.6,151.0 308.9,151.0 309.1,150.9 309.4,150.9 309.7,150.8 310.0,150.8 310.3,150.8 310.6,150.7 310.9,150.7 311.2,150.7 311.5,150.6 311.8,150.6 312.1,150.5 312.5,150.5 312.8,150.5 313.1,150.4 313.5,150.4 313.9,150.3 314.3,150.3 314.7,150.2 315.1,150.2 315.5,150.1 316.0,150.1 316.4,150.0 316.9,150.0 317.4,149.9 318.0,149.8 318.5,149.8 319.1,149.7 319.7,149.7 320.4,149.6 321.0,149.6 321.8,149.6 322.5,149.5 323.3,149.5 324.2,149.4 325.2,149.3 326.2,149.3 327.4,149.2 328.5,149.2 329.5,149.3 330.5,149.5 331.5,149.7 332.2,150.2 332.2,150.9 332.2,151.6 331.7,152.5 331.2,153.4 330.7,154.2 330.2,155.0 329.5,155.8 328.8,156.6 328.0,157.3 327.2,158.0 326.4,158.6 325.7,159.2 325.0,159.7 324.3,160.2 323.7,160.6 323.1,161.0Z" fill="#efe21e"/>
<path d="M320.1,161.4 319.7,161.7 319.2,162.0 318.7,162.2 318.3,162.4 317.9,162.6 317.5,162.8 317.1,163.0 316.8,163.1 316.5,163.3 316.2,163.4 316.0,163.6 315.7,163.7 315.5,163.8 315.2,163.9 315.0,164.1 314.8,164.2 314.6,164.3 314.4,164.4 314.2,164.5 314.1,164.5 313.9,164.6 313.7,164.7 313.6,164.8 313.4,164.9 313.2,165.0 313.1,165.0 312.9,165.1 312.8,165.2 312.7,165.3 312.5,165.3 312.4,165.4 312.3,165.5 312.1,165.5 312.0,165.6 311.9,165.7 311.7,165.7 311.6,165.8 311.5,165.8 311.3,165.9 311.2,165.9 311.1,165.9 310.9,166.0 310.8,166.0 310.7,166.1 310.5,166.1 310.4,166.1 310.3,166.2 310.2,166.2 310.0,166.3 309.9,166.3 309.8,166.3 309.7,166.4 309.5,166.4 309.4,166.5 309.3,166.5 309.1,166.5 309.0,166.6 308.9,166.6 308.7,166.7 308.6,166.7 308.5,166.8 308.3,166.8 308.2,166.9 308.0,166.9 307.9,166.9 307.7,167.0 307.6,167.0 307.4,167.1 307.2,167.1 307.0,167.2 306.9,167.3 306.7,167.3 306.5,167.4 306.3,167.4 306.1,167.5 305.9,167.6 305.6,167.6 305.4,167.7 305.1,167.8 304.9,167.9 304.6,168.0 304.3,168.0 304.0,168.1 303.7,168.1 303.4,168.2 303.1,168.2 302.7,168.3 302.4,168.3 302.0,168.4 301.6,168.4 301.1,168.5 300.7,168.5 300.1,168.6 299.6,168.7 299.0,168.8 298.3,168.9 297.6,169.0 296.8,169.0 296.0,169.1 295.2,169.1 294.3,169.1 293.4,169.2 292.4,169.1 291.3,169.1 290.1,169.1 289.7,168.7 289.4,168.2 289.2,167.7 289.1,167.2 289.2,166.6 289.4,166.0 289.8,165.4 290.3,164.8 290.9,164.2 291.4,163.7 292.0,163.1 292.5,162.7 293.0,162.2 293.5,161.8 293.9,161.4 294.3,161.0 294.7,160.7 295.0,160.3 295.3,160.0 295.8,159.7 296.1,159.4 296.5,159.2 296.8,158.9 297.2,158.7 297.5,158.4 297.8,158.2 298.1,158.0 298.4,157.8 298.6,157.6 298.9,157.4 299.1,157.2 299.4,157.0 299.6,156.8 299.8,156.6 300.0,156.5 300.3,156.3 300.5,156.1 300.8,156.0 301.1,155.9 301.3,155.8 301.6,155.7 301.9,155.7 302.1,155.6 302.4,155.5 302.6,155.4 302.8,155.3 303.1,155.2 303.3,155.2 303.5,155.1 303.7,155.0 303.9,155.0 304.1,154.9 304.3,154.8 304.5,154.7 304.7,154.7 304.9,154.6 305.1,154.6 305.3,154.5 305.5,154.5 305.7,154.4 305.9,154.4 306.1,154.4 306.3,154.3 306.5,154.3 306.7,154.2 306.9,154.2 307.1,154.2 307.2,154.1 307.4,154.1 307.6,154.0 307.8,154.0 308.0,153.9 308.2,153.9 308.4,153.9 308.6,153.8 308.8,153.8 309.0,153.7 309.2,153.7 309.4,153.7 309.6,153.6 309.8,153.6 310.1,153.6 310.3,153.5 310.5,153.5 310.7,153.5 311.0,153.4 311.2,153.4 311.4,153.4 311.7,153.3 312.0,153.3 312.2,153.3 312.5,153.2 312.8,153.2 313.1,153.2 313.4,153.1 313.7,153.1 314.0,153.0 314.4,153.0 314.8,152.9 315.1,152.9 315.6,152.8 316.0,152.8 316.4,152.7 316.9,152.7 317.4,152.6 317.9,152.6 318.5,152.5 319.1,152.5 319.7,152.4 320.4,152.4 321.1,152.3 321.9,152.2 322.8,152.2 323.8,152.1 324.6,152.2 325.4,152.3 326.3,152.4 327.0,152.6 327.3,153.1 327.5,153.6 327.4,154.2 327.3,154.8 327.1,155.4 326.9,156.0 326.4,156.6 325.8,157.3 325.2,157.9 324.5,158.5 323.7,159.0 323.0,159.5 322.4,160.0 321.7,160.4 321.2,160.7 320.6,161.1Z" fill="#f6b420"/>
<path d="M317.8,161.4 317.3,161.6 316.9,161.8 316.5,162.0 316.1,162.2 315.8,162.3 315.5,162.5 315.2,162.6 314.9,162.7 314.7,162.9 314.4,163.0 314.2,163.1 314.0,163.2 313.8,163.2 313.6,163.3 313.4,163.4 313.3,163.5 313.1,163.5 312.9,163.6 312.8,163.7 312.7,163.7 312.5,163.8 312.4,163.9 312.3,163.9 312.1,164.0 312.0,164.0 311.9,164.1 311.8,164.1 311.7,164.2 311.6,164.2 311.5,164.3 311.4,164.3 311.3,164.4 311.2,164.4 311.1,164.4 311.0,164.5 310.9,164.5 310.8,164.6 310.7,164.6 310.6,164.6 310.5,164.6 310.4,164.7 310.3,164.7 310.2,164.7 310.1,164.8 310.0,164.8 309.9,164.8 309.8,164.9 309.7,164.9 309.6,164.9 309.5,164.9 309.5,165.0 309.4,165.0 309.3,165.0 309.2,165.1 309.1,165.1 309.0,165.1 308.9,165.1 308.8,165.2 308.7,165.2 308.6,165.2 308.5,165.3 308.4,165.3 308.3,165.3 308.2,165.4 308.1,165.4 308.0,165.4 307.8,165.5 307.7,165.5 307.6,165.5 307.5,165.6 307.4,165.6 307.2,165.6 307.1,165.7 306.9,165.7 306.8,165.8 306.6,165.8 306.5,165.9 306.3,165.9 306.1,166.0 305.9,166.0 305.7,166.1 305.5,166.1 305.3,166.2 305.1,166.2 304.9,166.3 304.6,166.3 304.4,166.3 304.1,166.4 303.8,166.4 303.5,166.5 303.2,166.5 302.8,166.6 302.4,166.7 302.0,166.7 301.5,166.8 301.0,166.9 300.5,167.0 299.9,167.1 299.2,167.1 298.6,167.2 297.9,167.2 297.1,167.3 296.2,167.3 295.3,167.3 294.4,167.3 293.8,167.1 293.4,166.8 293.1,166.4 292.9,166.0 293.0,165.6 293.2,165.1 293.6,164.6 294.1,164.1 294.7,163.6 295.3,163.1 295.9,162.7 296.5,162.4 297.0,162.0 297.4,161.7 297.9,161.4 298.3,161.1 298.7,160.9 299.0,160.6 299.3,160.4 299.7,160.2 300.0,160.0 300.3,159.9 300.6,159.7 300.8,159.5 301.1,159.4 301.3,159.2 301.5,159.1 301.8,159.0 302.0,158.8 302.2,158.7 302.3,158.6 302.5,158.5 302.7,158.4 302.9,158.3 303.0,158.2 303.2,158.1 303.3,158.0 303.5,157.9 303.7,157.9 303.9,157.8 304.1,157.7 304.2,157.7 304.4,157.6 304.6,157.6 304.7,157.5 304.9,157.5 305.0,157.4 305.2,157.4 305.3,157.3 305.4,157.3 305.6,157.2 305.7,157.2 305.8,157.1 306.0,157.1 306.1,157.1 306.2,157.0 306.4,157.0 306.5,157.0 306.6,156.9 306.7,156.9 306.9,156.9 307.0,156.8 307.1,156.8 307.2,156.8 307.4,156.8 307.5,156.7 307.6,156.7 307.7,156.7 307.8,156.6 308.0,156.6 308.1,156.6 308.2,156.6 308.3,156.5 308.5,156.5 308.6,156.5 308.7,156.4 308.9,156.4 309.0,156.4 309.1,156.3 309.3,156.3 309.4,156.3 309.6,156.3 309.7,156.2 309.8,156.2 310.0,156.2 310.1,156.2 310.3,156.1 310.5,156.1 310.6,156.1 310.8,156.1 311.0,156.0 311.2,156.0 311.4,156.0 311.6,155.9 311.8,155.9 312.0,155.8 312.2,155.8 312.5,155.8 312.7,155.7 313.0,155.7 313.3,155.6 313.6,155.6 313.9,155.5 314.2,155.5 314.6,155.4 314.9,155.4 315.3,155.3 315.8,155.3 316.2,155.2 316.7,155.2 317.3,155.1 317.9,155.0 318.5,155.0 319.2,154.9 319.9,154.9 320.6,154.9 321.4,154.9 322.0,155.0 322.5,155.2 323.0,155.4 323.3,155.8 323.5,156.1 323.7,156.5 323.7,156.9 323.4,157.4 323.0,157.9 322.5,158.5 321.8,158.9 321.2,159.4 320.5,159.8 319.9,160.2 319.3,160.6 318.7,160.9 318.2,161.1Z" fill="#f27e1a"/>
<path d="M315.5,161.4 315.1,161.6 314.7,161.7 314.4,161.9 314.1,162.0 313.8,162.1 313.5,162.2 313.3,162.3 313.1,162.3 312.9,162.4 312.7,162.5 312.5,162.6 312.3,162.6 312.2,162.7 312.0,162.7 311.9,162.8 311.8,162.8 311.6,162.8 311.5,162.9 311.4,162.9 311.3,163.0 311.2,163.0 311.1,163.0 311.0,163.1 310.9,163.1 310.8,163.1 310.8,163.1 310.7,163.2 310.6,163.2 310.5,163.2 310.4,163.2 310.4,163.3 310.3,163.3 310.2,163.3 310.2,163.3 310.1,163.3 310.0,163.4 310.0,163.4 309.9,163.4 309.8,163.4 309.8,163.4 309.7,163.5 309.7,163.5 309.6,163.5 309.5,163.5 309.5,163.5 309.4,163.6 309.4,163.6 309.3,163.6 309.3,163.6 309.2,163.6 309.1,163.6 309.1,163.7 309.0,163.7 309.0,163.7 308.9,163.7 308.8,163.7 308.8,163.7 308.7,163.8 308.7,163.8 308.6,163.8 308.5,163.8 308.5,163.8 308.4,163.8 308.3,163.9 308.3,163.9 308.2,163.9 308.1,163.9 308.1,163.9 308.0,164.0 307.9,164.0 307.8,164.0 307.7,164.0 307.7,164.1 307.6,164.1 307.5,164.1 307.4,164.1 307.3,164.2 307.2,164.2 307.1,164.2 307.0,164.2 306.8,164.3 306.7,164.3 306.6,164.3 306.4,164.4 306.3,164.4 306.1,164.4 306.0,164.5 305.8,164.5 305.6,164.6 305.4,164.6 305.1,164.7 304.9,164.7 304.6,164.8 304.3,164.9 304.0,164.9 303.7,165.0 303.3,165.1 302.8,165.1 302.4,165.2 301.8,165.3 301.3,165.4 300.6,165.5 299.9,165.5 299.2,165.6 298.5,165.6 297.8,165.5 297.3,165.4 296.8,165.2 296.6,165.0 296.6,164.6 296.9,164.2 297.3,163.8 297.9,163.4 298.5,163.0 299.1,162.7 299.7,162.3 300.3,162.1 300.8,161.8 301.3,161.6 301.7,161.4 302.1,161.2 302.5,161.1 302.8,160.9 303.1,160.8 303.4,160.7 303.7,160.6 303.9,160.5 304.1,160.5 304.3,160.4 304.5,160.3 304.7,160.2 304.9,160.2 305.0,160.1 305.2,160.1 305.3,160.0 305.4,160.0 305.6,160.0 305.7,159.9 305.8,159.9 305.9,159.8 306.0,159.8 306.1,159.8 306.2,159.7 306.3,159.7 306.4,159.7 306.4,159.7 306.5,159.6 306.6,159.6 306.7,159.6 306.8,159.6 306.8,159.5 306.9,159.5 307.0,159.5 307.0,159.5 307.1,159.5 307.2,159.4 307.2,159.4 307.3,159.4 307.4,159.4 307.4,159.4 307.5,159.3 307.5,159.3 307.6,159.3 307.7,159.3 307.7,159.3 307.8,159.2 307.8,159.2 307.9,159.2 307.9,159.2 308.0,159.2 308.1,159.2 308.1,159.1 308.2,159.1 308.2,159.1 308.3,159.1 308.4,159.1 308.4,159.1 308.5,159.0 308.5,159.0 308.6,159.0 308.7,159.0 308.7,159.0 308.8,159.0 308.9,158.9 308.9,158.9 309.0,158.9 309.1,158.9 309.1,158.9 309.2,158.8 309.3,158.8 309.4,158.8 309.5,158.8 309.5,158.7 309.6,158.7 309.7,158.7 309.8,158.7 309.9,158.6 310.0,158.6 310.1,158.6 310.2,158.6 310.4,158.5 310.5,158.5 310.6,158.5 310.8,158.4 310.9,158.4 311.1,158.4 311.2,158.3 311.4,158.3 311.6,158.2 311.8,158.2 312.1,158.1 312.3,158.1 312.6,158.0 312.9,157.9 313.2,157.9 313.5,157.8 313.9,157.7 314.4,157.7 314.8,157.6 315.4,157.5 315.9,157.4 316.6,157.3 317.3,157.3 318.0,157.2 318.7,157.2 319.4,157.3 319.9,157.4 320.4,157.6 320.6,157.8 320.6,158.2 320.3,158.6 319.9,159.0 319.3,159.4 318.7,159.8 318.1,160.1 317.5,160.5 316.9,160.7 316.4,161.0 315.9,161.2Z" fill="#e5471a"/>
<path d="M447.4,71.1 446.9,72.0 446.4,72.8 446.1,73.7 445.2,74.1 445.0,75.0 443.2,74.6 443.3,75.7 443.5,76.9 442.7,77.1 442.6,78.0 441.0,77.6 441.1,78.6 440.3,78.9 440.3,79.7 439.9,80.3 438.7,80.0 438.5,80.7 438.2,81.3 438.5,82.5 437.9,82.8 436.7,82.5 437.1,83.7 435.8,83.3 436.0,84.3 435.0,84.2 434.4,84.6 435.3,86.0 434.0,85.7 433.6,86.2 434.3,87.6 433.5,88.0 432.5,87.3 432.4,88.6 431.6,88.2 431.1,88.6 430.2,88.1 430.2,89.5 429.5,89.3 429.2,90.0 428.6,90.1 427.7,89.3 427.2,89.6 426.7,89.5 426.1,89.5 425.5,89.5 425.1,90.0 424.6,90.7 423.9,89.8 423.6,91.1 423.0,90.6 422.4,90.6 422.1,91.6 421.4,91.2 420.8,91.0 420.4,91.4 419.8,91.9 419.3,90.7 418.7,92.3 418.3,90.6 417.7,91.9 417.1,92.0 416.7,90.5 416.1,91.9 415.6,91.1 415.0,91.4 414.5,90.4 414.0,90.4 413.5,90.6 412.6,92.0 412.5,90.5 411.7,91.3 411.1,91.5 410.6,91.3 410.3,90.2 409.8,90.0 409.2,90.2 408.5,90.5 408.3,89.2 407.4,90.1 406.8,90.0 406.2,89.9 406.3,88.3 405.1,89.6 405.2,88.0 404.5,88.1 403.7,88.3 403.0,88.6 402.8,87.4 401.8,88.1 401.5,87.2 401.1,86.6 400.5,86.3 400.0,85.8 399.4,85.4 398.7,85.2 397.7,85.8 396.7,86.0 396.8,84.3 396.4,83.7 394.8,84.6 394.8,83.5 394.3,82.8 394.0,82.1 393.0,82.1 392.1,81.9 391.9,80.9 391.3,80.3 391.3,79.5 389.5,79.2 391.0,78.3 390.1,77.6 389.5,76.9 390.7,76.1 389.5,75.4 389.1,74.7 389.6,74.0 389.2,73.2 390.4,72.4 389.7,71.7 390.2,71.0 389.0,70.1 390.2,69.6 390.1,68.8 389.4,67.8 389.8,67.2 389.9,66.5 391.0,66.1 391.1,65.4 391.0,64.5 391.7,64.1 392.4,63.6 392.5,62.8 393.3,62.4 393.2,61.6 392.5,60.5 392.9,59.9 393.8,59.6 394.4,59.1 395.0,58.7 395.8,58.4 395.9,57.6 395.5,56.6 395.7,55.9 396.9,55.9 396.6,54.9 397.0,54.3 397.5,53.8 397.9,53.2 398.1,52.6 399.1,52.3 399.0,51.4 400.0,51.2 400.1,50.4 400.1,49.5 400.6,48.9 401.6,48.6 401.1,47.3 401.9,46.9 402.5,46.3 403.8,46.1 403.5,44.9 404.4,44.6 404.4,43.4 405.2,42.9 405.3,41.8 406.1,41.3 406.5,40.3 407.8,40.1 408.0,38.9 408.6,38.0 409.2,37.0 410.6,36.7 410.7,35.2 411.4,34.1 412.5,33.4 413.0,32.0 414.0,31.0 415.6,30.3 416.7,29.7 417.3,31.0 419.1,30.9 420.1,31.4 420.7,32.7 421.8,32.8 422.8,33.3 423.7,33.7 424.2,35.1 425.6,34.5 426.3,35.3 427.3,35.6 427.9,36.4 429.0,36.6 429.9,36.9 430.6,37.7 431.4,38.1 431.5,39.6 432.4,40.0 433.4,40.1 434.4,40.3 434.7,41.5 435.9,41.3 436.6,42.0 436.6,43.4 437.8,43.3 438.2,44.3 438.7,45.1 439.4,45.5 440.3,45.9 440.8,46.7 441.4,47.3 441.8,48.1 443.0,48.2 443.5,48.9 444.5,49.3 445.0,50.1 445.0,51.2 446.5,51.2 445.7,52.9 446.8,53.2 447.2,54.0 447.9,54.6 447.8,55.5 449.3,56.0 448.8,57.1 448.5,58.2 449.8,58.7 449.2,59.7 450.1,60.5 449.7,61.4 450.1,62.3 450.8,63.2 450.6,64.1 449.9,65.0 450.1,66.2 449.5,66.9 448.7,67.6 448.0,68.3 448.4,69.5 447.9,70.3Z" fill="#3b5bcb"/>
<path d="M440.0,71.0 439.7,71.6 439.4,72.1 439.1,72.7 438.8,73.2 438.5,73.7 438.2,74.3 438.0,74.8 437.7,75.3 437.4,75.7 437.2,76.2 436.9,76.7 436.7,77.2 436.4,77.6 436.0,78.0 435.6,78.4 435.3,78.8 434.9,79.2 434.6,79.6 434.2,80.0 433.9,80.3 433.6,80.7 433.2,81.1 432.9,81.4 432.6,81.8 432.2,82.2 431.9,82.5 431.6,82.9 431.3,83.2 430.9,83.5 430.5,83.8 430.0,84.0 429.6,84.2 429.2,84.5 428.8,84.7 428.4,84.9 428.0,85.1 427.6,85.4 427.2,85.6 426.8,85.8 426.4,86.0 426.0,86.2 425.6,86.4 425.2,86.6 424.8,86.9 424.3,87.0 423.9,87.2 423.5,87.3 423.0,87.4 422.6,87.6 422.2,87.7 421.7,87.8 421.3,88.0 420.9,88.1 420.4,88.3 420.0,88.4 419.5,88.5 419.1,88.7 418.6,88.8 418.2,88.9 417.7,89.0 417.2,88.9 416.8,88.8 416.3,88.8 415.8,88.7 415.4,88.7 414.9,88.6 414.4,88.6 414.0,88.5 413.5,88.4 413.0,88.4 412.6,88.3 412.1,88.3 411.6,88.2 411.1,88.1 410.6,88.1 410.1,88.0 409.7,87.9 409.2,87.7 408.7,87.5 408.2,87.4 407.8,87.2 407.3,87.0 406.8,86.9 406.3,86.7 405.8,86.5 405.3,86.3 404.8,86.1 404.2,85.9 403.7,85.8 403.1,85.6 402.6,85.3 402.1,85.0 401.6,84.7 401.1,84.4 400.6,84.1 400.1,83.8 399.5,83.5 399.0,83.2 398.4,82.8 397.8,82.5 397.2,82.1 396.8,81.7 396.4,81.2 396.0,80.6 395.7,80.1 395.3,79.6 394.9,79.1 394.6,78.5 394.2,78.0 393.8,77.4 393.5,76.8 393.4,76.2 393.4,75.5 393.3,74.9 393.3,74.2 393.2,73.6 393.2,72.9 393.1,72.3 393.1,71.6 393.0,71.0 393.2,70.4 393.5,69.7 393.7,69.1 393.9,68.5 394.1,67.9 394.3,67.3 394.5,66.7 394.7,66.1 395.0,65.5 395.2,65.0 395.4,64.4 395.6,63.8 395.9,63.3 396.2,62.7 396.5,62.2 396.8,61.7 397.0,61.1 397.3,60.6 397.6,60.1 397.9,59.6 398.2,59.0 398.5,58.5 398.7,58.0 399.0,57.4 399.4,56.9 399.7,56.4 400.0,55.9 400.3,55.4 400.6,54.8 401.0,54.3 401.3,53.7 401.7,53.2 402.0,52.6 402.4,52.0 402.7,51.5 403.1,50.9 403.5,50.3 403.9,49.8 404.3,49.2 404.8,48.6 405.2,48.0 405.7,47.4 406.2,46.8 406.6,46.2 407.1,45.5 407.7,44.8 408.2,44.2 408.8,43.6 409.4,42.9 410.0,42.3 410.6,41.6 411.3,40.8 412.0,40.1 412.7,39.4 413.5,38.7 414.2,38.1 415.1,37.5 415.9,36.8 416.8,36.1 417.7,35.6 418.6,36.2 419.5,36.7 420.4,37.2 421.2,37.7 422.0,38.2 422.8,38.7 423.6,39.2 424.4,39.6 425.1,40.1 425.8,40.7 426.5,41.3 427.2,41.9 427.8,42.4 428.5,43.0 429.1,43.5 429.7,44.1 430.3,44.6 430.9,45.1 431.5,45.6 432.1,46.1 432.6,46.6 433.1,47.2 433.6,47.8 434.1,48.4 434.6,49.0 435.1,49.5 435.5,50.1 436.0,50.7 436.5,51.2 436.9,51.8 437.4,52.3 437.9,52.8 438.2,53.5 438.5,54.1 438.8,54.8 439.1,55.4 439.4,56.1 439.7,56.7 440.0,57.3 440.3,58.0 440.6,58.6 440.9,59.2 441.0,59.9 441.1,60.6 441.2,61.3 441.2,62.0 441.3,62.6 441.3,63.3 441.4,64.0 441.5,64.6 441.4,65.3 441.3,66.0 441.1,66.7 440.9,67.3 440.8,68.0 440.6,68.6 440.4,69.2 440.3,69.8 440.1,70.4Z" fill="#4878c4"/>
<path d="M437.2,71.0 437.0,71.5 436.7,72.0 436.4,72.5 436.2,72.9 436.0,73.4 435.7,73.9 435.5,74.3 435.2,74.7 435.0,75.2 434.8,75.6 434.5,76.0 434.3,76.4 434.0,76.8 433.7,77.1 433.4,77.5 433.1,77.8 432.8,78.2 432.5,78.5 432.2,78.9 431.9,79.2 431.6,79.5 431.3,79.8 431.0,80.1 430.7,80.4 430.4,80.8 430.1,81.1 429.8,81.4 429.5,81.7 429.2,82.0 428.9,82.2 428.5,82.4 428.1,82.6 427.8,82.8 427.4,83.0 427.1,83.2 426.7,83.4 426.4,83.6 426.0,83.8 425.7,84.0 425.3,84.2 425.0,84.4 424.6,84.6 424.3,84.8 423.9,85.0 423.6,85.2 423.2,85.3 422.8,85.4 422.4,85.5 422.0,85.7 421.7,85.8 421.3,85.9 420.9,86.1 420.5,86.2 420.1,86.3 419.7,86.5 419.3,86.6 418.9,86.7 418.5,86.8 418.1,87.0 417.7,87.0 417.3,87.0 416.9,87.0 416.4,87.0 416.0,86.9 415.6,86.9 415.2,86.9 414.8,86.9 414.3,86.8 413.9,86.8 413.5,86.8 413.0,86.7 412.6,86.7 412.1,86.7 411.7,86.6 411.2,86.6 410.8,86.5 410.3,86.4 409.9,86.3 409.5,86.2 409.0,86.0 408.6,85.9 408.1,85.7 407.7,85.6 407.2,85.4 406.7,85.3 406.3,85.1 405.8,84.9 405.3,84.7 404.8,84.6 404.3,84.4 403.9,84.1 403.4,83.8 403.0,83.6 402.6,83.3 402.1,83.0 401.7,82.7 401.2,82.3 400.7,82.0 400.3,81.7 399.8,81.3 399.3,81.0 398.9,80.6 398.6,80.1 398.3,79.6 398.0,79.1 397.7,78.7 397.5,78.2 397.2,77.7 396.9,77.2 396.6,76.7 396.4,76.1 396.3,75.5 396.3,75.0 396.3,74.4 396.2,73.8 396.2,73.3 396.2,72.7 396.2,72.1 396.2,71.6 396.2,71.0 396.3,70.4 396.5,69.9 396.7,69.3 396.9,68.8 397.1,68.3 397.3,67.8 397.5,67.3 397.7,66.7 397.9,66.2 398.1,65.7 398.3,65.2 398.5,64.8 398.7,64.3 399.0,63.8 399.3,63.4 399.5,62.9 399.8,62.4 400.0,62.0 400.3,61.5 400.5,61.1 400.8,60.6 401.1,60.2 401.3,59.7 401.6,59.3 401.9,58.9 402.2,58.4 402.5,58.0 402.8,57.6 403.1,57.1 403.4,56.7 403.7,56.2 404.0,55.8 404.3,55.3 404.6,54.8 404.9,54.4 405.3,53.9 405.6,53.4 406.0,53.0 406.4,52.5 406.8,52.1 407.2,51.6 407.6,51.1 408.0,50.6 408.4,50.1 408.8,49.6 409.3,49.1 409.8,48.6 410.3,48.1 410.8,47.6 411.3,47.1 411.8,46.5 412.4,46.0 413.0,45.4 413.6,44.8 414.2,44.4 414.8,43.9 415.5,43.4 416.2,42.9 416.9,42.3 417.7,42.0 418.5,42.3 419.2,42.7 419.9,43.0 420.6,43.4 421.3,43.7 422.0,44.0 422.6,44.3 423.3,44.7 423.9,45.0 424.6,45.4 425.2,45.8 425.7,46.3 426.3,46.7 426.9,47.1 427.5,47.5 428.0,47.8 428.6,48.2 429.1,48.6 429.6,49.0 430.2,49.4 430.7,49.8 431.1,50.3 431.6,50.8 432.1,51.2 432.5,51.7 433.0,52.2 433.4,52.6 433.8,53.1 434.3,53.6 434.7,54.0 435.1,54.5 435.5,55.0 435.8,55.5 436.1,56.1 436.4,56.7 436.6,57.2 436.9,57.8 437.2,58.4 437.4,58.9 437.7,59.5 437.9,60.0 438.1,60.6 438.3,61.2 438.3,61.8 438.4,62.4 438.4,63.0 438.5,63.6 438.5,64.2 438.5,64.8 438.6,65.4 438.5,66.0 438.4,66.6 438.2,67.2 438.1,67.8 437.9,68.3 437.8,68.9 437.7,69.4 437.5,70.0 437.4,70.5Z" fill="#5191b6"/>
<path d="M434.8,71.0 434.6,71.4 434.4,71.9 434.2,72.3 433.9,72.7 433.7,73.1 433.5,73.5 433.3,73.9 433.1,74.3 432.9,74.6 432.6,75.0 432.4,75.4 432.2,75.7 432.0,76.1 431.7,76.4 431.4,76.7 431.2,77.0 430.9,77.3 430.6,77.6 430.4,77.9 430.1,78.2 429.9,78.5 429.6,78.7 429.3,79.0 429.1,79.3 428.8,79.5 428.6,79.8 428.3,80.1 428.1,80.3 427.8,80.6 427.5,80.8 427.2,81.0 426.9,81.2 426.6,81.4 426.2,81.6 425.9,81.7 425.6,81.9 425.3,82.1 425.0,82.3 424.7,82.5 424.4,82.7 424.1,82.8 423.8,83.0 423.5,83.2 423.2,83.4 422.9,83.5 422.6,83.6 422.2,83.8 421.9,83.9 421.6,84.0 421.2,84.2 420.9,84.3 420.6,84.4 420.2,84.5 419.9,84.7 419.5,84.8 419.2,84.9 418.8,85.0 418.4,85.1 418.1,85.3 417.7,85.3 417.3,85.3 416.9,85.3 416.6,85.4 416.2,85.4 415.8,85.4 415.4,85.4 415.0,85.4 414.6,85.4 414.2,85.4 413.8,85.4 413.4,85.4 413.0,85.4 412.6,85.3 412.2,85.3 411.8,85.3 411.4,85.3 410.9,85.2 410.5,85.1 410.1,85.0 409.7,84.9 409.3,84.8 408.8,84.6 408.4,84.5 408.0,84.4 407.6,84.2 407.1,84.1 406.7,83.9 406.3,83.7 405.8,83.5 405.4,83.3 405.0,83.1 404.6,82.8 404.2,82.5 403.8,82.3 403.4,82.0 403.0,81.7 402.6,81.4 402.2,81.0 401.8,80.7 401.5,80.4 401.1,80.0 400.8,79.6 400.5,79.2 400.3,78.7 400.1,78.3 399.9,77.9 399.6,77.4 399.4,76.9 399.2,76.5 399.0,76.0 398.9,75.5 398.8,75.0 398.8,74.5 398.8,74.0 398.8,73.5 398.8,73.0 398.8,72.5 398.8,72.0 398.9,71.5 398.9,71.0 399.0,70.5 399.2,70.0 399.4,69.6 399.5,69.1 399.7,68.6 399.9,68.2 400.1,67.7 400.2,67.3 400.4,66.8 400.6,66.4 400.8,66.0 401.0,65.6 401.2,65.2 401.4,64.8 401.7,64.4 401.9,64.0 402.1,63.6 402.4,63.2 402.6,62.8 402.8,62.4 403.1,62.0 403.3,61.7 403.6,61.3 403.8,60.9 404.1,60.5 404.3,60.2 404.6,59.8 404.9,59.5 405.2,59.1 405.4,58.7 405.7,58.4 406.0,58.0 406.3,57.6 406.6,57.2 406.9,56.9 407.2,56.5 407.5,56.1 407.8,55.8 408.2,55.4 408.5,55.1 408.8,54.7 409.2,54.3 409.6,53.9 409.9,53.5 410.3,53.1 410.7,52.7 411.1,52.4 411.5,52.0 412.0,51.6 412.4,51.2 412.9,50.8 413.3,50.4 413.8,50.0 414.3,49.6 414.8,49.2 415.4,48.9 415.9,48.5 416.5,48.1 417.1,47.7 417.7,47.5 418.3,47.7 418.9,47.9 419.5,48.1 420.1,48.3 420.7,48.5 421.2,48.6 421.8,48.8 422.4,49.0 422.9,49.2 423.5,49.5 424.0,49.8 424.5,50.0 425.0,50.3 425.5,50.6 426.0,50.9 426.5,51.1 427.0,51.4 427.5,51.7 428.0,52.0 428.5,52.3 429.0,52.6 429.4,52.9 429.9,53.3 430.3,53.7 430.7,54.0 431.1,54.4 431.5,54.8 431.9,55.2 432.3,55.6 432.7,56.0 433.1,56.4 433.4,56.8 433.7,57.3 434.0,57.8 434.3,58.3 434.5,58.8 434.7,59.3 435.0,59.8 435.2,60.3 435.4,60.8 435.6,61.3 435.7,61.8 435.9,62.3 435.9,62.9 436.0,63.4 436.0,64.0 436.0,64.5 436.0,65.0 436.1,65.6 436.1,66.1 436.0,66.6 435.9,67.1 435.8,67.7 435.6,68.2 435.5,68.7 435.4,69.1 435.2,69.6 435.1,70.1 435.0,70.5Z" fill="#59a3a6"/>
<path d="M432.5,71.0 432.4,71.4 432.2,71.8 432.0,72.1 431.8,72.5 431.6,72.8 431.4,73.2 431.2,73.5 431.0,73.8 430.8,74.2 430.6,74.5 430.4,74.8 430.3,75.1 430.0,75.4 429.8,75.7 429.6,75.9 429.4,76.2 429.1,76.5 428.9,76.7 428.7,77.0 428.5,77.2 428.2,77.5 428.0,77.7 427.8,77.9 427.6,78.2 427.3,78.4 427.1,78.6 426.9,78.8 426.6,79.1 426.4,79.3 426.2,79.5 425.9,79.6 425.6,79.8 425.4,80.0 425.1,80.2 424.9,80.3 424.6,80.5 424.4,80.7 424.1,80.8 423.8,81.0 423.6,81.2 423.3,81.3 423.0,81.5 422.8,81.6 422.5,81.8 422.2,82.0 422.0,82.1 421.7,82.2 421.4,82.3 421.1,82.5 420.8,82.6 420.5,82.7 420.2,82.8 419.9,83.0 419.6,83.1 419.3,83.2 419.0,83.3 418.7,83.4 418.4,83.5 418.0,83.6 417.7,83.7 417.4,83.8 417.0,83.8 416.7,83.9 416.3,83.9 416.0,83.9 415.6,84.0 415.3,84.0 414.9,84.0 414.6,84.1 414.2,84.1 413.8,84.1 413.4,84.1 413.1,84.1 412.7,84.1 412.3,84.1 411.9,84.0 411.5,84.0 411.1,83.9 410.7,83.9 410.3,83.8 409.9,83.7 409.5,83.6 409.1,83.5 408.7,83.3 408.3,83.2 407.9,83.1 407.5,82.9 407.1,82.7 406.8,82.5 406.4,82.3 406.0,82.1 405.6,81.9 405.3,81.6 405.0,81.3 404.6,81.0 404.3,80.7 404.0,80.4 403.7,80.1 403.4,79.8 403.1,79.4 402.8,79.1 402.6,78.7 402.4,78.3 402.2,77.9 402.0,77.5 401.9,77.1 401.7,76.7 401.6,76.2 401.4,75.8 401.3,75.4 401.2,74.9 401.2,74.5 401.2,74.1 401.2,73.6 401.3,73.2 401.3,72.7 401.3,72.3 401.4,71.9 401.4,71.4 401.5,71.0 401.6,70.6 401.7,70.2 401.9,69.8 402.0,69.4 402.2,69.0 402.3,68.6 402.5,68.2 402.7,67.8 402.8,67.4 403.0,67.1 403.2,66.7 403.3,66.3 403.6,66.0 403.8,65.6 404.0,65.3 404.2,65.0 404.4,64.6 404.6,64.3 404.8,64.0 405.0,63.7 405.2,63.4 405.5,63.1 405.7,62.7 405.9,62.4 406.2,62.1 406.4,61.8 406.6,61.6 406.9,61.3 407.1,61.0 407.4,60.7 407.6,60.4 407.9,60.1 408.2,59.8 408.4,59.5 408.7,59.3 409.0,59.0 409.2,58.7 409.5,58.4 409.8,58.2 410.1,57.9 410.4,57.6 410.7,57.3 411.0,57.1 411.4,56.8 411.7,56.5 412.0,56.2 412.4,56.0 412.7,55.7 413.1,55.4 413.5,55.2 413.8,54.9 414.2,54.6 414.6,54.3 415.0,54.1 415.4,53.8 415.9,53.6 416.3,53.4 416.8,53.1 417.2,52.9 417.7,52.7 418.2,52.7 418.7,52.8 419.1,52.8 419.6,52.9 420.1,53.0 420.5,53.0 421.0,53.1 421.5,53.2 422.0,53.3 422.4,53.4 422.9,53.5 423.3,53.6 423.8,53.8 424.3,53.9 424.7,54.1 425.2,54.2 425.6,54.4 426.1,54.6 426.5,54.8 426.9,55.0 427.4,55.2 427.8,55.5 428.2,55.7 428.6,56.0 429.0,56.3 429.4,56.6 429.8,56.9 430.1,57.2 430.5,57.5 430.8,57.9 431.2,58.2 431.5,58.6 431.8,59.0 432.0,59.4 432.2,59.8 432.5,60.3 432.7,60.7 432.9,61.1 433.0,61.6 433.2,62.0 433.4,62.5 433.5,63.0 433.6,63.4 433.6,63.9 433.7,64.4 433.7,64.9 433.7,65.3 433.7,65.8 433.7,66.3 433.7,66.7 433.6,67.2 433.5,67.6 433.4,68.1 433.3,68.5 433.2,69.0 433.1,69.4 432.9,69.8 432.8,70.2 432.7,70.6Z" fill="#66b296"/>
<path d="M430.3,71.0 430.2,71.3 430.0,71.6 429.9,72.0 429.7,72.3 429.6,72.6 429.4,72.9 429.2,73.1 429.1,73.4 428.9,73.7 428.7,73.9 428.5,74.2 428.4,74.5 428.2,74.7 428.0,74.9 427.8,75.2 427.6,75.4 427.4,75.6 427.2,75.9 427.0,76.1 426.9,76.3 426.7,76.5 426.5,76.7 426.3,76.9 426.1,77.1 425.9,77.3 425.7,77.5 425.5,77.6 425.3,77.8 425.1,78.0 424.9,78.2 424.7,78.3 424.5,78.5 424.3,78.7 424.0,78.8 423.8,79.0 423.6,79.2 423.4,79.3 423.2,79.5 423.0,79.6 422.8,79.8 422.5,79.9 422.3,80.0 422.1,80.2 421.8,80.3 421.6,80.4 421.4,80.6 421.1,80.7 420.9,80.8 420.6,81.0 420.4,81.1 420.1,81.2 419.9,81.3 419.6,81.4 419.4,81.5 419.1,81.7 418.8,81.8 418.6,81.9 418.3,82.0 418.0,82.1 417.7,82.1 417.4,82.2 417.1,82.3 416.8,82.4 416.5,82.5 416.2,82.5 415.9,82.6 415.5,82.7 415.2,82.7 414.9,82.8 414.5,82.8 414.2,82.8 413.8,82.9 413.5,82.9 413.1,82.9 412.8,82.9 412.4,82.9 412.0,82.9 411.7,82.8 411.3,82.8 410.9,82.7 410.6,82.6 410.2,82.6 409.8,82.5 409.4,82.4 409.1,82.2 408.7,82.1 408.4,81.9 408.0,81.8 407.7,81.6 407.3,81.4 407.0,81.2 406.7,80.9 406.4,80.7 406.1,80.4 405.8,80.1 405.5,79.8 405.3,79.5 405.1,79.2 404.8,78.9 404.6,78.5 404.4,78.2 404.3,77.8 404.1,77.5 404.0,77.1 403.9,76.7 403.8,76.3 403.7,76.0 403.6,75.6 403.6,75.2 403.6,74.8 403.5,74.4 403.5,74.0 403.6,73.6 403.6,73.2 403.6,72.9 403.7,72.5 403.7,72.1 403.8,71.7 403.9,71.4 404.0,71.0 404.1,70.6 404.2,70.3 404.3,69.9 404.4,69.6 404.6,69.3 404.7,68.9 404.8,68.6 405.0,68.3 405.1,68.0 405.3,67.7 405.5,67.4 405.6,67.1 405.8,66.8 406.0,66.5 406.2,66.2 406.4,66.0 406.5,65.7 406.7,65.4 406.9,65.2 407.1,64.9 407.3,64.6 407.5,64.4 407.7,64.2 408.0,63.9 408.2,63.7 408.4,63.5 408.6,63.2 408.8,63.0 409.0,62.8 409.3,62.6 409.5,62.4 409.7,62.2 410.0,62.0 410.2,61.8 410.5,61.6 410.7,61.4 410.9,61.2 411.2,61.0 411.4,60.8 411.7,60.6 412.0,60.4 412.2,60.3 412.5,60.1 412.8,59.9 413.0,59.8 413.3,59.6 413.6,59.4 413.9,59.3 414.2,59.1 414.5,59.0 414.8,58.8 415.1,58.7 415.4,58.6 415.7,58.4 416.0,58.3 416.4,58.2 416.7,58.1 417.0,57.9 417.4,57.8 417.7,57.7 418.0,57.6 418.4,57.6 418.8,57.5 419.1,57.4 419.5,57.3 419.9,57.3 420.3,57.2 420.6,57.2 421.0,57.1 421.4,57.1 421.8,57.1 422.2,57.1 422.6,57.1 423.0,57.1 423.4,57.2 423.8,57.2 424.2,57.3 424.6,57.4 425.0,57.5 425.4,57.6 425.8,57.7 426.2,57.9 426.6,58.0 427.0,58.2 427.3,58.4 427.7,58.6 428.1,58.9 428.4,59.1 428.7,59.4 429.0,59.7 429.3,60.0 429.6,60.3 429.8,60.6 430.1,61.0 430.3,61.3 430.5,61.7 430.7,62.1 430.8,62.5 431.0,62.9 431.1,63.3 431.2,63.7 431.3,64.1 431.4,64.5 431.4,64.9 431.5,65.3 431.5,65.7 431.5,66.1 431.4,66.5 431.4,66.9 431.4,67.3 431.3,67.7 431.2,68.1 431.2,68.5 431.1,68.9 431.0,69.3 430.8,69.6 430.7,70.0 430.6,70.3 430.5,70.7Z" fill="#86c070"/>
<path d="M428.6,71.0 428.5,71.3 428.4,71.6 428.2,71.8 428.1,72.1 428.0,72.3 427.8,72.6 427.7,72.8 427.5,73.1 427.3,73.3 427.2,73.5 427.0,73.8 426.9,74.0 426.7,74.2 426.5,74.4 426.4,74.6 426.2,74.8 426.1,75.0 425.9,75.2 425.7,75.4 425.6,75.5 425.4,75.7 425.2,75.9 425.0,76.0 424.9,76.2 424.7,76.4 424.5,76.5 424.4,76.7 424.2,76.8 424.0,77.0 423.8,77.1 423.7,77.3 423.5,77.4 423.3,77.6 423.1,77.7 422.9,77.8 422.8,78.0 422.6,78.1 422.4,78.2 422.2,78.3 422.0,78.5 421.8,78.6 421.6,78.7 421.4,78.8 421.2,78.9 421.0,79.0 420.8,79.2 420.6,79.3 420.4,79.4 420.2,79.5 420.0,79.6 419.8,79.7 419.6,79.8 419.3,79.9 419.1,80.0 418.9,80.1 418.7,80.2 418.4,80.2 418.2,80.3 417.9,80.4 417.7,80.5 417.4,80.6 417.2,80.6 416.9,80.7 416.7,80.8 416.4,80.8 416.1,80.9 415.9,81.0 415.6,81.0 415.3,81.0 415.0,81.1 414.7,81.1 414.4,81.1 414.1,81.2 413.8,81.2 413.5,81.2 413.2,81.2 412.9,81.2 412.5,81.1 412.2,81.1 411.9,81.1 411.6,81.0 411.2,81.0 410.9,80.9 410.6,80.8 410.3,80.7 409.9,80.6 409.6,80.5 409.3,80.3 409.0,80.2 408.7,80.0 408.4,79.8 408.1,79.6 407.8,79.4 407.6,79.2 407.3,79.0 407.1,78.7 406.9,78.4 406.7,78.2 406.5,77.9 406.3,77.6 406.1,77.3 406.0,77.0 405.9,76.6 405.8,76.3 405.7,76.0 405.6,75.6 405.5,75.3 405.5,75.0 405.5,74.6 405.5,74.3 405.5,73.9 405.5,73.6 405.5,73.3 405.6,72.9 405.6,72.6 405.7,72.3 405.8,71.9 405.8,71.6 405.9,71.3 406.0,71.0 406.1,70.7 406.2,70.4 406.4,70.1 406.5,69.8 406.6,69.5 406.7,69.3 406.9,69.0 407.0,68.7 407.1,68.5 407.3,68.2 407.4,68.0 407.6,67.7 407.7,67.5 407.9,67.2 408.1,67.0 408.2,66.8 408.4,66.6 408.6,66.3 408.7,66.1 408.9,65.9 409.1,65.7 409.3,65.5 409.4,65.3 409.6,65.1 409.8,64.9 410.0,64.7 410.2,64.6 410.3,64.4 410.5,64.2 410.7,64.0 410.9,63.9 411.1,63.7 411.3,63.5 411.5,63.4 411.7,63.2 411.9,63.0 412.1,62.9 412.3,62.7 412.5,62.6 412.8,62.4 413.0,62.3 413.2,62.1 413.4,62.0 413.6,61.9 413.9,61.7 414.1,61.6 414.3,61.5 414.6,61.3 414.8,61.2 415.0,61.1 415.3,61.0 415.5,60.9 415.8,60.8 416.1,60.6 416.3,60.5 416.6,60.4 416.9,60.3 417.1,60.2 417.4,60.2 417.7,60.1 418.0,60.0 418.3,59.9 418.6,59.9 418.9,59.8 419.2,59.7 419.5,59.7 419.8,59.6 420.1,59.6 420.4,59.6 420.8,59.5 421.1,59.5 421.4,59.5 421.8,59.5 422.1,59.6 422.4,59.6 422.8,59.6 423.1,59.7 423.4,59.7 423.8,59.8 424.1,59.9 424.4,60.0 424.8,60.1 425.1,60.2 425.4,60.4 425.7,60.5 426.0,60.7 426.4,60.9 426.6,61.1 426.9,61.3 427.2,61.5 427.5,61.7 427.7,62.0 427.9,62.3 428.2,62.5 428.4,62.8 428.6,63.1 428.7,63.4 428.9,63.7 429.0,64.1 429.2,64.4 429.3,64.7 429.4,65.1 429.4,65.4 429.5,65.7 429.5,66.1 429.6,66.4 429.6,66.8 429.6,67.1 429.6,67.5 429.5,67.8 429.5,68.2 429.4,68.5 429.4,68.8 429.3,69.2 429.2,69.5 429.1,69.8 429.0,70.1 428.9,70.4 428.8,70.7Z" fill="#bcd242"/>
<path d="M427.1,71.0 426.9,71.2 426.8,71.5 426.7,71.7 426.6,71.9 426.4,72.2 426.3,72.4 426.2,72.6 426.0,72.8 425.9,73.0 425.8,73.2 425.6,73.3 425.5,73.5 425.3,73.7 425.2,73.9 425.1,74.1 424.9,74.2 424.8,74.4 424.6,74.5 424.5,74.7 424.3,74.8 424.2,75.0 424.0,75.1 423.9,75.3 423.8,75.4 423.6,75.5 423.5,75.7 423.3,75.8 423.2,75.9 423.0,76.0 422.9,76.2 422.7,76.3 422.6,76.4 422.4,76.5 422.3,76.6 422.1,76.7 421.9,76.8 421.8,77.0 421.6,77.1 421.5,77.2 421.3,77.3 421.2,77.4 421.0,77.5 420.8,77.6 420.7,77.7 420.5,77.7 420.3,77.8 420.2,77.9 420.0,78.0 419.8,78.1 419.6,78.2 419.4,78.3 419.3,78.4 419.1,78.4 418.9,78.5 418.7,78.6 418.5,78.7 418.3,78.8 418.1,78.8 417.9,78.9 417.7,79.0 417.5,79.0 417.3,79.1 417.1,79.1 416.8,79.2 416.6,79.3 416.4,79.3 416.2,79.4 415.9,79.4 415.7,79.4 415.4,79.5 415.2,79.5 414.9,79.5 414.7,79.6 414.4,79.6 414.1,79.6 413.9,79.6 413.6,79.6 413.3,79.6 413.1,79.6 412.8,79.5 412.5,79.5 412.2,79.4 411.9,79.4 411.6,79.3 411.4,79.3 411.1,79.2 410.8,79.1 410.5,79.0 410.3,78.8 410.0,78.7 409.7,78.6 409.5,78.4 409.2,78.2 409.0,78.1 408.8,77.9 408.5,77.7 408.3,77.4 408.2,77.2 408.0,77.0 407.8,76.7 407.7,76.4 407.6,76.2 407.5,75.9 407.4,75.6 407.3,75.3 407.3,75.0 407.3,74.7 407.2,74.4 407.2,74.1 407.2,73.8 407.3,73.5 407.3,73.2 407.4,72.9 407.4,72.6 407.5,72.3 407.6,72.1 407.7,71.8 407.7,71.5 407.8,71.3 407.9,71.0 408.0,70.7 408.2,70.5 408.3,70.3 408.4,70.0 408.5,69.8 408.6,69.6 408.8,69.3 408.9,69.1 409.0,68.9 409.1,68.7 409.3,68.5 409.4,68.3 409.6,68.1 409.7,67.9 409.8,67.7 410.0,67.6 410.1,67.4 410.3,67.2 410.4,67.0 410.5,66.9 410.7,66.7 410.8,66.5 411.0,66.4 411.1,66.2 411.3,66.1 411.4,65.9 411.6,65.8 411.8,65.6 411.9,65.5 412.1,65.4 412.2,65.2 412.4,65.1 412.5,65.0 412.7,64.8 412.9,64.7 413.0,64.6 413.2,64.5 413.4,64.3 413.6,64.2 413.7,64.1 413.9,64.0 414.1,63.9 414.3,63.8 414.4,63.7 414.6,63.6 414.8,63.5 415.0,63.4 415.2,63.3 415.4,63.2 415.6,63.1 415.8,63.0 416.0,62.9 416.2,62.8 416.4,62.7 416.6,62.6 416.8,62.5 417.0,62.5 417.2,62.4 417.5,62.3 417.7,62.3 417.9,62.2 418.2,62.1 418.4,62.1 418.6,62.0 418.9,62.0 419.1,61.9 419.4,61.9 419.6,61.9 419.9,61.8 420.2,61.8 420.4,61.8 420.7,61.8 421.0,61.8 421.2,61.8 421.5,61.8 421.8,61.8 422.1,61.9 422.3,61.9 422.6,62.0 422.9,62.0 423.2,62.1 423.4,62.2 423.7,62.3 424.0,62.4 424.2,62.5 424.5,62.6 424.8,62.7 425.0,62.9 425.3,63.0 425.5,63.2 425.7,63.4 426.0,63.6 426.2,63.8 426.4,64.0 426.6,64.2 426.7,64.4 426.9,64.7 427.1,64.9 427.2,65.2 427.3,65.4 427.5,65.7 427.5,66.0 427.6,66.3 427.7,66.5 427.8,66.8 427.8,67.1 427.8,67.4 427.8,67.7 427.8,68.0 427.8,68.3 427.8,68.6 427.7,68.9 427.7,69.1 427.6,69.4 427.5,69.7 427.5,70.0 427.4,70.2 427.3,70.5 427.2,70.8Z" fill="#efe21e"/>
<path d="M425.5,71.0 425.4,71.2 425.3,71.4 425.2,71.6 425.1,71.8 425.0,72.0 424.9,72.1 424.7,72.3 424.6,72.5 424.5,72.6 424.4,72.8 424.3,72.9 424.1,73.1 424.0,73.2 423.9,73.4 423.8,73.5 423.7,73.7 423.5,73.8 423.4,73.9 423.3,74.0 423.2,74.2 423.0,74.3 422.9,74.4 422.8,74.5 422.7,74.6 422.5,74.7 422.4,74.8 422.3,74.9 422.2,75.0 422.0,75.1 421.9,75.2 421.8,75.3 421.7,75.4 421.5,75.5 421.4,75.6 421.3,75.7 421.2,75.8 421.0,75.8 420.9,75.9 420.8,76.0 420.6,76.1 420.5,76.2 420.4,76.3 420.2,76.3 420.1,76.4 420.0,76.5 419.8,76.6 419.7,76.6 419.6,76.7 419.4,76.8 419.3,76.8 419.1,76.9 419.0,77.0 418.8,77.0 418.7,77.1 418.5,77.2 418.4,77.2 418.2,77.3 418.0,77.4 417.9,77.4 417.7,77.5 417.5,77.5 417.4,77.6 417.2,77.6 417.0,77.7 416.8,77.7 416.6,77.8 416.4,77.8 416.2,77.8 416.0,77.9 415.8,77.9 415.6,77.9 415.4,78.0 415.2,78.0 415.0,78.0 414.8,78.0 414.6,78.0 414.3,78.0 414.1,78.0 413.9,78.0 413.6,78.0 413.4,78.0 413.2,78.0 412.9,77.9 412.7,77.9 412.4,77.9 412.2,77.8 412.0,77.7 411.7,77.7 411.5,77.6 411.2,77.5 411.0,77.4 410.8,77.2 410.6,77.1 410.3,77.0 410.1,76.8 410.0,76.6 409.8,76.4 409.6,76.2 409.5,76.0 409.3,75.8 409.2,75.6 409.1,75.4 409.1,75.1 409.0,74.9 409.0,74.6 408.9,74.4 408.9,74.1 408.9,73.9 408.9,73.6 409.0,73.3 409.0,73.1 409.1,72.8 409.2,72.6 409.2,72.3 409.3,72.1 409.4,71.9 409.5,71.6 409.6,71.4 409.7,71.2 409.8,71.0 409.9,70.8 410.0,70.6 410.1,70.4 410.2,70.2 410.4,70.0 410.5,69.9 410.6,69.7 410.7,69.5 410.8,69.4 411.0,69.2 411.1,69.0 411.2,68.9 411.3,68.7 411.4,68.6 411.5,68.5 411.7,68.3 411.8,68.2 411.9,68.1 412.0,67.9 412.2,67.8 412.3,67.7 412.4,67.6 412.5,67.4 412.6,67.3 412.8,67.2 412.9,67.1 413.0,67.0 413.1,66.9 413.3,66.8 413.4,66.7 413.5,66.6 413.6,66.5 413.8,66.4 413.9,66.3 414.0,66.2 414.1,66.1 414.3,66.0 414.4,65.9 414.5,65.8 414.7,65.8 414.8,65.7 414.9,65.6 415.1,65.5 415.2,65.4 415.4,65.4 415.5,65.3 415.6,65.2 415.8,65.1 415.9,65.1 416.1,65.0 416.2,64.9 416.4,64.8 416.5,64.8 416.7,64.7 416.9,64.7 417.0,64.6 417.2,64.5 417.4,64.5 417.5,64.4 417.7,64.4 417.9,64.3 418.1,64.3 418.2,64.2 418.4,64.2 418.6,64.2 418.8,64.1 419.0,64.1 419.2,64.1 419.4,64.0 419.6,64.0 419.8,64.0 420.0,64.0 420.2,64.0 420.4,64.0 420.6,64.0 420.8,64.0 421.0,64.0 421.3,64.0 421.5,64.1 421.7,64.1 421.9,64.1 422.1,64.2 422.3,64.2 422.6,64.3 422.8,64.4 423.0,64.5 423.2,64.5 423.4,64.6 423.6,64.7 423.8,64.9 424.0,65.0 424.2,65.1 424.4,65.2 424.6,65.4 424.8,65.6 425.0,65.7 425.1,65.9 425.3,66.1 425.4,66.3 425.6,66.5 425.7,66.7 425.8,66.9 425.9,67.1 426.0,67.3 426.0,67.6 426.1,67.8 426.1,68.0 426.1,68.3 426.1,68.5 426.1,68.7 426.1,69.0 426.1,69.2 426.1,69.5 426.0,69.7 425.9,69.9 425.9,70.1 425.8,70.4 425.7,70.6 425.6,70.8Z" fill="#f6b420"/>
<path d="M424.0,71.0 423.9,71.2 423.8,71.3 423.7,71.5 423.6,71.6 423.5,71.8 423.4,71.9 423.3,72.0 423.2,72.2 423.1,72.3 423.0,72.4 422.9,72.5 422.8,72.7 422.7,72.8 422.6,72.9 422.5,73.0 422.4,73.1 422.3,73.2 422.2,73.3 422.1,73.4 422.0,73.5 421.9,73.6 421.8,73.7 421.7,73.7 421.6,73.8 421.5,73.9 421.4,74.0 421.3,74.1 421.2,74.1 421.1,74.2 421.0,74.3 420.9,74.4 420.8,74.4 420.7,74.5 420.6,74.6 420.5,74.6 420.4,74.7 420.3,74.8 420.2,74.8 420.1,74.9 420.0,74.9 419.9,75.0 419.8,75.1 419.7,75.1 419.6,75.2 419.5,75.2 419.3,75.3 419.2,75.3 419.1,75.4 419.0,75.5 418.9,75.5 418.8,75.6 418.7,75.6 418.6,75.7 418.4,75.7 418.3,75.8 418.2,75.8 418.1,75.9 418.0,75.9 417.8,75.9 417.7,76.0 417.6,76.0 417.4,76.1 417.3,76.1 417.2,76.2 417.0,76.2 416.9,76.2 416.7,76.3 416.6,76.3 416.4,76.3 416.3,76.4 416.1,76.4 415.9,76.4 415.8,76.5 415.6,76.5 415.4,76.5 415.2,76.5 415.1,76.5 414.9,76.5 414.7,76.5 414.5,76.6 414.3,76.5 414.1,76.5 413.9,76.5 413.7,76.5 413.5,76.5 413.3,76.5 413.1,76.4 412.9,76.4 412.7,76.3 412.5,76.2 412.3,76.2 412.1,76.1 411.9,76.0 411.7,75.9 411.5,75.7 411.3,75.6 411.2,75.5 411.1,75.3 410.9,75.1 410.8,75.0 410.7,74.8 410.7,74.6 410.6,74.4 410.6,74.2 410.5,74.0 410.5,73.7 410.6,73.5 410.6,73.3 410.6,73.1 410.7,72.9 410.8,72.7 410.8,72.5 410.9,72.3 411.0,72.1 411.1,71.9 411.2,71.7 411.3,71.5 411.4,71.3 411.5,71.2 411.6,71.0 411.7,70.8 411.9,70.7 412.0,70.5 412.1,70.4 412.2,70.3 412.3,70.1 412.4,70.0 412.5,69.9 412.6,69.8 412.7,69.7 412.8,69.6 412.9,69.5 413.0,69.3 413.1,69.2 413.2,69.2 413.3,69.1 413.4,69.0 413.5,68.9 413.6,68.8 413.7,68.7 413.8,68.6 413.9,68.5 414.0,68.5 414.1,68.4 414.2,68.3 414.3,68.2 414.4,68.2 414.5,68.1 414.6,68.0 414.7,68.0 414.8,67.9 414.9,67.8 414.9,67.8 415.0,67.7 415.1,67.7 415.2,67.6 415.3,67.5 415.4,67.5 415.5,67.4 415.6,67.4 415.7,67.3 415.8,67.3 415.9,67.2 416.0,67.2 416.1,67.1 416.2,67.1 416.3,67.0 416.4,67.0 416.5,66.9 416.6,66.9 416.7,66.8 416.8,66.8 416.9,66.7 417.0,66.7 417.1,66.7 417.2,66.6 417.4,66.6 417.5,66.5 417.6,66.5 417.7,66.5 417.8,66.4 417.9,66.4 418.1,66.4 418.2,66.3 418.3,66.3 418.4,66.3 418.6,66.2 418.7,66.2 418.9,66.2 419.0,66.2 419.1,66.2 419.3,66.1 419.4,66.1 419.6,66.1 419.7,66.1 419.9,66.1 420.0,66.1 420.2,66.1 420.3,66.1 420.5,66.1 420.7,66.1 420.8,66.2 421.0,66.2 421.2,66.2 421.4,66.2 421.5,66.3 421.7,66.3 421.9,66.4 422.0,66.4 422.2,66.5 422.4,66.5 422.6,66.6 422.7,66.7 422.9,66.8 423.1,66.9 423.2,67.0 423.4,67.1 423.5,67.2 423.7,67.3 423.8,67.5 423.9,67.6 424.1,67.8 424.2,67.9 424.2,68.1 424.3,68.3 424.4,68.4 424.4,68.6 424.5,68.8 424.5,69.0 424.5,69.2 424.5,69.4 424.5,69.6 424.4,69.7 424.4,69.9 424.4,70.1 424.3,70.3 424.2,70.5 424.2,70.7 424.1,70.8Z" fill="#f27e1a"/>
<path d="M422.5,71.0 422.4,71.1 422.4,71.2 422.3,71.4 422.2,71.5 422.1,71.6 422.0,71.7 421.9,71.8 421.9,71.9 421.8,72.0 421.7,72.1 421.6,72.2 421.5,72.2 421.4,72.3 421.3,72.4 421.3,72.5 421.2,72.5 421.1,72.6 421.0,72.7 420.9,72.8 420.9,72.8 420.8,72.9 420.7,72.9 420.6,73.0 420.5,73.1 420.5,73.1 420.4,73.2 420.3,73.2 420.2,73.3 420.1,73.3 420.1,73.4 420.0,73.4 419.9,73.5 419.8,73.5 419.8,73.6 419.7,73.6 419.6,73.6 419.5,73.7 419.5,73.7 419.4,73.8 419.3,73.8 419.2,73.9 419.2,73.9 419.1,73.9 419.0,74.0 418.9,74.0 418.9,74.0 418.8,74.1 418.7,74.1 418.6,74.2 418.6,74.2 418.5,74.2 418.4,74.3 418.3,74.3 418.2,74.3 418.1,74.4 418.1,74.4 418.0,74.4 417.9,74.5 417.8,74.5 417.7,74.5 417.6,74.6 417.5,74.6 417.4,74.6 417.3,74.7 417.2,74.7 417.1,74.7 417.0,74.8 416.9,74.8 416.8,74.8 416.7,74.9 416.5,74.9 416.4,74.9 416.3,74.9 416.2,75.0 416.0,75.0 415.9,75.0 415.8,75.0 415.6,75.1 415.5,75.1 415.3,75.1 415.2,75.1 415.0,75.1 414.9,75.1 414.7,75.1 414.5,75.1 414.4,75.1 414.2,75.1 414.0,75.1 413.8,75.1 413.7,75.0 413.5,75.0 413.3,74.9 413.2,74.9 413.0,74.8 412.9,74.7 412.7,74.6 412.6,74.5 412.5,74.4 412.4,74.3 412.3,74.1 412.2,74.0 412.2,73.8 412.1,73.7 412.1,73.5 412.1,73.3 412.1,73.1 412.2,73.0 412.2,72.8 412.3,72.6 412.4,72.4 412.5,72.3 412.6,72.1 412.7,71.9 412.8,71.8 412.9,71.6 413.0,71.5 413.1,71.4 413.2,71.2 413.3,71.1 413.4,71.0 413.6,70.9 413.7,70.8 413.8,70.7 413.9,70.6 414.0,70.5 414.1,70.4 414.2,70.3 414.3,70.3 414.4,70.2 414.5,70.1 414.6,70.1 414.7,70.0 414.7,70.0 414.8,69.9 414.9,69.8 415.0,69.8 415.1,69.7 415.1,69.7 415.2,69.7 415.3,69.6 415.4,69.6 415.4,69.5 415.5,69.5 415.6,69.4 415.6,69.4 415.7,69.4 415.8,69.3 415.8,69.3 415.9,69.3 415.9,69.2 416.0,69.2 416.1,69.2 416.1,69.2 416.2,69.1 416.2,69.1 416.3,69.1 416.4,69.0 416.4,69.0 416.5,69.0 416.5,69.0 416.6,68.9 416.6,68.9 416.7,68.9 416.8,68.9 416.8,68.8 416.9,68.8 416.9,68.8 417.0,68.8 417.0,68.8 417.1,68.7 417.2,68.7 417.2,68.7 417.3,68.7 417.3,68.6 417.4,68.6 417.4,68.6 417.5,68.6 417.6,68.6 417.6,68.5 417.7,68.5 417.8,68.5 417.8,68.5 417.9,68.5 418.0,68.4 418.0,68.4 418.1,68.4 418.2,68.4 418.3,68.4 418.3,68.3 418.4,68.3 418.5,68.3 418.6,68.3 418.7,68.3 418.8,68.2 418.8,68.2 418.9,68.2 419.0,68.2 419.1,68.2 419.2,68.2 419.4,68.1 419.5,68.1 419.6,68.1 419.7,68.1 419.8,68.1 419.9,68.1 420.1,68.1 420.2,68.1 420.3,68.1 420.5,68.1 420.6,68.1 420.8,68.1 420.9,68.1 421.1,68.1 421.2,68.2 421.4,68.2 421.5,68.2 421.7,68.3 421.8,68.3 422.0,68.4 422.1,68.5 422.2,68.5 422.3,68.6 422.5,68.7 422.6,68.8 422.6,69.0 422.7,69.1 422.8,69.2 422.8,69.3 422.9,69.5 422.9,69.6 422.9,69.8 422.9,69.9 422.9,70.0 422.8,70.2 422.8,70.3 422.8,70.5 422.7,70.6 422.6,70.7 422.6,70.9Z" fill="#e5471a"/>
<path d="M468.4,12.2 469.2,12.4 470.0,13.0 470.7,13.6 471.5,14.1 472.7,13.3 473.1,14.1 474.1,14.4 474.4,15.4 475.5,15.5 475.6,16.7 476.9,16.8 477.2,17.6 477.1,18.6 477.6,19.2 478.2,19.9 477.8,21.0 478.7,21.5 479.4,22.0 478.9,23.0 479.9,23.8 479.8,24.7 480.1,25.6 479.4,26.5 479.1,27.4 480.3,28.2 480.4,29.1 479.9,30.0 479.3,30.8 479.5,31.7 480.2,32.5 479.6,33.4 480.6,34.2 480.0,35.0 479.4,35.9 480.1,36.7 479.6,37.6 480.5,38.5 480.3,39.4 479.5,40.1 479.6,41.0 479.5,41.8 479.6,42.7 479.7,43.6 478.0,44.2 478.4,45.1 478.7,46.1 477.9,46.7 478.0,47.7 476.9,48.2 477.8,49.5 477.0,50.1 476.1,50.7 476.6,51.8 475.8,52.3 475.1,52.9 475.0,53.8 474.0,54.2 473.6,54.9 474.0,56.2 473.3,56.7 471.9,56.7 472.4,58.1 471.0,57.9 470.7,58.8 470.6,60.0 469.7,60.1 468.7,60.2 468.2,60.7 467.5,61.2 466.6,61.4 466.8,63.0 465.7,62.1 464.9,62.6 464.1,63.1 463.3,62.5 462.4,63.4 461.6,62.2 460.8,63.3 459.7,63.1 459.1,62.4 458.2,62.3 457.7,61.3 456.7,61.5 456.0,61.1 455.4,60.3 455.0,59.5 454.3,58.9 454.3,58.0 454.3,57.0 453.0,56.7 453.2,55.6 452.5,55.0 451.9,54.2 452.8,53.1 452.9,52.2 452.6,51.3 451.7,50.5 451.9,49.6 452.0,48.8 451.8,47.9 451.1,46.9 452.3,46.2 452.2,45.4 451.6,44.4 452.1,43.7 452.8,42.9 452.5,42.0 452.7,41.2 453.5,40.6 453.3,39.7 453.6,39.0 453.0,38.0 454.0,37.4 453.7,36.5 453.4,35.5 453.7,34.8 454.8,34.4 454.7,33.5 455.4,32.9 455.6,32.1 455.7,31.3 455.5,30.4 455.6,29.5 456.8,29.1 457.6,28.6 457.3,27.5 458.2,27.0 458.6,26.3 457.9,25.1 459.2,24.8 458.6,23.6 459.5,23.1 459.1,21.9 459.7,21.1 461.2,20.9 461.5,20.0 460.9,18.6 461.9,18.1 462.8,17.6 462.9,16.5 463.4,15.7 464.4,15.3 465.2,14.8 466.3,14.8 466.9,13.9 467.8,13.7Z" fill="#3b5bcb"/>
<ellipse cx="466" cy="36" rx="2.6" ry="11" transform="rotate(12 466 36)" fill="#4878c4" opacity="0.55"/>
<g fill="#3b5bcb"><rect x="455.5" y="50.4" width="1.3" height="1.3"/><rect x="450.1" y="55.3" width="1.3" height="1.3"/><rect x="446.1" y="44.2" width="1.3" height="1.3"/><rect x="453.8" y="58.4" width="1.3" height="1.3"/><rect x="443.3" y="42.6" width="1.3" height="1.3"/><rect x="452.3" y="48.2" width="1.3" height="1.3"/><rect x="453.9" y="47.8" width="1.3" height="1.3"/><rect x="455.2" y="50.5" width="1.3" height="1.3"/><rect x="452.6" y="43.9" width="1.3" height="1.3"/><rect x="452.9" y="40.9" width="1.3" height="1.3"/><rect x="448.2" y="49.8" width="1.3" height="1.3"/><rect x="454.1" y="56.2" width="1.3" height="1.3"/><rect x="452.5" y="45.9" width="1.3" height="1.3"/><rect x="454.6" y="54.9" width="1.3" height="1.3"/><rect x="448.9" y="44.7" width="1.3" height="1.3"/><rect x="449.3" y="44.2" width="1.3" height="1.3"/><rect x="455.3" y="41.7" width="1.3" height="1.3"/><rect x="448.4" y="39.3" width="1.3" height="1.3"/><rect x="450.8" y="54.3" width="1.3" height="1.3"/><rect x="451.7" y="58.2" width="1.3" height="1.3"/><rect x="454.3" y="53.9" width="1.3" height="1.3"/><rect x="449.5" y="47.6" width="1.3" height="1.3"/><rect x="448.7" y="55.1" width="1.3" height="1.3"/><rect x="451.6" y="47.8" width="1.3" height="1.3"/><rect x="451.7" y="54.2" width="1.3" height="1.3"/><rect x="446.6" y="42.6" width="1.3" height="1.3"/><rect x="451.0" y="51.4" width="1.3" height="1.3"/><rect x="454.6" y="47.7" width="1.3" height="1.3"/><rect x="448.7" y="45.4" width="1.3" height="1.3"/><rect x="446.0" y="44.1" width="1.3" height="1.3"/><rect x="449.5" y="51.3" width="1.3" height="1.3"/><rect x="451.2" y="53.8" width="1.3" height="1.3"/><rect x="453.6" y="42.8" width="1.3" height="1.3"/><rect x="449.6" y="49.7" width="1.3" height="1.3"/><rect x="449.6" y="56.6" width="1.3" height="1.3"/><rect x="450.7" y="41.6" width="1.3" height="1.3"/><rect x="446.5" y="40.9" width="1.3" height="1.3"/><rect x="451.3" y="40.9" width="1.3" height="1.3"/><rect x="450.9" y="52.2" width="1.3" height="1.3"/><rect x="450.0" y="41.8" width="1.3" height="1.3"/><rect x="451.4" y="62.0" width="1.3" height="1.3"/><rect x="449.8" y="58.7" width="1.3" height="1.3"/><rect x="454.1" y="46.5" width="1.3" height="1.3"/><rect x="453.0" y="40.7" width="1.3" height="1.3"/><rect x="453.8" y="57.7" width="1.3" height="1.3"/><rect x="449.8" y="52.3" width="1.3" height="1.3"/><rect x="453.9" y="53.5" width="1.3" height="1.3"/><rect x="448.5" y="41.6" width="1.3" height="1.3"/><rect x="447.7" y="51.6" width="1.3" height="1.3"/><rect x="448.3" y="51.2" width="1.3" height="1.3"/><rect x="447.8" y="48.7" width="1.3" height="1.3"/><rect x="446.5" y="45.5" width="1.3" height="1.3"/><rect x="450.7" y="45.6" width="1.3" height="1.3"/><rect x="447.6" y="49.4" width="1.3" height="1.3"/><rect x="447.6" y="40.3" width="1.3" height="1.3"/><rect x="449.8" y="52.5" width="1.3" height="1.3"/><rect x="454.0" y="55.2" width="1.3" height="1.3"/><rect x="454.1" y="42.7" width="1.3" height="1.3"/><rect x="451.8" y="61.7" width="1.3" height="1.3"/><rect x="455.1" y="45.4" width="1.3" height="1.3"/><rect x="453.6" y="48.9" width="1.3" height="1.3"/><rect x="452.8" y="39.2" width="1.3" height="1.3"/><rect x="448.0" y="52.0" width="1.3" height="1.3"/><rect x="448.4" y="39.8" width="1.3" height="1.3"/><rect x="447.3" y="49.2" width="1.3" height="1.3"/><rect x="451.0" y="62.9" width="1.3" height="1.3"/><rect x="451.8" y="48.4" width="1.3" height="1.3"/><rect x="451.1" y="63.4" width="1.3" height="1.3"/><rect x="449.6" y="48.3" width="1.3" height="1.3"/><rect x="449.0" y="51.6" width="1.3" height="1.3"/><rect x="451.9" y="60.7" width="1.3" height="1.3"/><rect x="453.3" y="48.4" width="1.3" height="1.3"/><rect x="450.9" y="60.3" width="1.3" height="1.3"/><rect x="452.3" y="48.4" width="1.3" height="1.3"/><rect x="449.8" y="55.6" width="1.3" height="1.3"/><rect x="450.3" y="46.1" width="1.3" height="1.3"/><rect x="450.2" y="53.8" width="1.3" height="1.3"/><rect x="447.7" y="47.9" width="1.3" height="1.3"/><rect x="451.0" y="60.1" width="1.3" height="1.3"/><rect x="448.0" y="51.8" width="1.3" height="1.3"/><rect x="453.2" y="37.5" width="1.3" height="1.3"/><rect x="444.3" y="44.4" width="1.3" height="1.3"/><rect x="450.1" y="53.5" width="1.3" height="1.3"/><rect x="451.5" y="50.5" width="1.3" height="1.3"/><rect x="449.5" y="50.0" width="1.3" height="1.3"/><rect x="446.1" y="43.7" width="1.3" height="1.3"/><rect x="448.6" y="48.8" width="1.3" height="1.3"/><rect x="452.6" y="52.5" width="1.3" height="1.3"/><rect x="451.7" y="42.9" width="1.3" height="1.3"/><rect x="452.7" y="55.6" width="1.3" height="1.3"/></g>
<path d="M488.9,152.2 488.1,152.5 488.2,153.6 487.0,153.4 487.1,154.4 486.4,154.7 485.6,154.7 485.8,155.7 484.8,155.5 484.9,156.4 484.0,156.3 483.7,156.7 483.8,157.5 484.0,158.3 482.7,157.8 482.6,158.3 482.8,159.1 483.0,159.8 482.2,159.7 481.7,159.8 482.2,160.8 480.7,160.0 481.5,161.3 480.5,160.9 480.0,161.0 479.7,161.3 479.7,161.9 480.1,162.7 479.0,162.3 479.3,163.1 479.1,163.5 478.5,163.5 478.5,164.0 477.5,163.8 477.3,164.1 477.2,164.6 477.6,165.5 477.0,165.5 476.5,165.7 476.6,166.4 476.2,166.6 475.7,166.9 476.1,167.8 475.7,168.1 474.7,168.1 474.9,168.9 474.5,169.3 474.7,170.1 474.1,170.5 473.1,170.6 473.8,171.8 472.1,171.5 472.2,172.4 472.2,173.4 471.0,173.3 470.9,174.2 470.1,173.6 469.8,174.9 469.3,175.2 468.6,175.1 468.2,175.8 467.3,175.0 466.9,175.9 466.2,175.9 465.6,176.1 464.8,176.1 464.4,177.0 463.4,177.4 462.9,176.4 462.2,176.7 461.7,175.5 460.9,176.5 460.3,176.3 459.5,176.8 458.9,176.4 458.4,175.3 457.7,175.4 456.9,175.8 456.5,174.5 455.6,175.2 455.0,174.5 454.4,174.2 453.7,174.0 452.7,175.0 452.2,173.7 451.4,173.8 450.5,173.8 449.5,174.5 449.1,172.9 448.1,173.3 447.2,173.3 446.1,173.7 445.2,173.3 444.3,173.2 443.6,171.9 442.5,171.9 441.4,171.5 440.1,172.1 438.9,172.0 438.0,170.2 436.7,170.0 435.4,169.7 434.2,169.3 432.8,169.2 431.4,168.8 430.3,167.7 429.7,167.1 428.6,166.3 428.4,165.3 427.7,164.3 427.0,163.0 427.7,161.9 428.3,160.8 428.4,159.7 428.6,158.5 430.0,157.9 429.2,156.1 430.0,155.1 430.4,154.0 431.0,153.1 432.3,152.5 432.8,151.6 433.8,151.0 433.6,149.6 435.0,149.3 435.5,148.5 435.8,147.5 436.4,146.8 436.7,145.9 437.7,145.5 438.3,144.8 438.7,143.9 439.3,143.3 439.4,142.4 440.4,142.1 439.7,140.4 440.7,140.1 441.8,140.1 442.3,139.4 442.7,138.7 443.2,138.2 444.1,137.9 443.7,136.5 444.0,135.7 445.2,135.9 445.7,135.3 446.8,135.3 447.3,134.8 447.5,134.0 448.1,133.5 447.9,132.3 449.3,132.7 450.0,132.3 449.3,130.6 450.4,130.6 451.4,130.7 451.5,129.7 452.6,130.0 452.7,128.8 452.8,127.7 453.5,127.4 454.3,127.2 455.3,127.4 455.8,126.7 456.6,126.6 456.6,125.2 457.5,125.1 457.9,124.3 459.0,124.5 459.8,124.2 459.9,122.8 460.5,122.0 461.3,121.8 462.1,121.5 462.9,121.1 463.7,120.9 464.9,121.3 465.5,120.5 466.4,120.3 467.5,120.4 468.3,120.0 468.9,119.3 469.8,119.2 470.6,118.4 471.5,117.9 472.5,118.7 473.3,117.7 474.2,117.6 475.2,117.6 476.2,118.6 477.2,118.7 478.1,118.7 479.0,118.7 480.0,118.8 481.1,118.3 482.1,118.0 483.0,118.3 483.9,119.1 484.9,119.0 486.0,118.9 486.8,120.4 488.0,119.6 489.3,119.4 490.2,120.0 491.1,120.4 491.9,121.3 492.6,122.2 494.1,121.6 494.8,122.8 496.1,122.5 497.3,122.7 497.9,124.1 498.7,124.8 500.2,124.8 500.7,125.9 500.7,127.4 501.5,128.2 502.3,129.0 504.0,128.8 504.8,129.8 504.5,131.4 506.1,131.6 507.0,132.4 507.1,134.0 506.2,134.5 506.1,135.5 504.8,135.7 504.0,136.2 504.5,138.1 503.5,138.3 502.7,138.8 502.6,139.9 501.2,140.0 501.0,141.3 500.3,142.0 498.8,141.9 498.3,142.6 497.7,143.3 497.1,143.8 496.9,144.8 495.4,145.4 494.6,146.6 493.3,147.1 493.5,149.0 492.0,149.0 491.4,149.9 491.0,150.7 490.7,151.7 489.5,151.7Z" fill="#3b5bcb"/>
<path d="M488.9,152.4 488.4,152.9 487.8,153.4 487.3,153.9 486.8,154.4 486.3,154.8 485.9,155.2 485.4,155.6 485.0,156.0 484.6,156.4 484.2,156.7 483.8,157.1 483.4,157.4 483.1,157.8 482.8,158.1 482.5,158.4 482.2,158.7 481.9,159.0 481.6,159.3 481.3,159.6 481.0,159.9 480.7,160.2 480.4,160.5 480.1,160.7 479.9,161.0 479.6,161.3 479.3,161.6 479.1,161.9 478.8,162.1 478.5,162.4 478.3,162.7 478.0,163.0 477.8,163.2 477.5,163.5 477.2,163.8 477.0,164.1 476.7,164.4 476.4,164.7 476.2,165.0 475.9,165.3 475.6,165.6 475.4,165.9 475.1,166.3 474.8,166.7 474.5,167.0 474.2,167.4 473.9,167.8 473.6,168.2 473.3,168.6 472.9,169.1 472.6,169.6 472.2,170.0 471.9,170.5 471.5,171.1 471.0,171.6 470.6,172.0 470.1,172.1 469.6,172.3 469.1,172.5 468.5,172.6 468.0,172.8 467.5,173.0 466.9,173.2 466.4,173.4 465.8,173.5 465.2,173.7 464.6,173.9 464.0,174.1 463.4,174.1 462.8,174.0 462.2,174.0 461.6,173.9 461.0,173.8 460.4,173.8 459.8,173.7 459.2,173.7 458.6,173.6 457.9,173.5 457.3,173.5 456.6,173.4 455.9,173.3 455.3,173.2 454.6,173.1 453.9,173.0 453.1,172.9 452.4,172.7 451.6,172.6 450.8,172.5 450.0,172.4 449.2,172.2 448.3,172.1 447.4,172.0 446.5,171.8 445.5,171.6 444.5,171.4 443.4,171.2 442.4,171.0 441.2,170.8 440.1,170.5 438.8,170.3 437.6,170.0 436.3,169.6 435.1,169.2 433.9,168.7 432.7,168.1 431.5,167.5 430.3,166.9 430.0,165.9 429.7,164.9 429.4,163.8 429.4,162.7 429.7,161.6 430.0,160.5 430.3,159.4 430.6,158.3 431.1,157.3 431.7,156.2 432.2,155.2 432.8,154.2 433.4,153.3 434.0,152.4 434.7,151.5 435.3,150.7 435.8,149.9 436.4,149.1 437.0,148.3 437.5,147.6 438.1,146.9 438.7,146.2 439.3,145.5 439.8,144.8 440.4,144.2 440.9,143.6 441.4,143.0 441.9,142.4 442.5,141.8 443.0,141.3 443.6,140.7 444.1,140.2 444.6,139.7 445.2,139.2 445.7,138.7 446.2,138.2 446.7,137.8 447.2,137.3 447.7,136.8 448.2,136.4 448.7,135.9 449.2,135.5 449.7,135.0 450.2,134.6 450.7,134.1 451.2,133.7 451.7,133.3 452.1,132.8 452.7,132.4 453.2,132.0 453.7,131.6 454.3,131.2 454.8,130.8 455.3,130.4 455.9,130.0 456.4,129.7 457.0,129.2 457.5,128.9 458.1,128.5 458.7,128.1 459.2,127.7 459.8,127.3 460.4,126.9 461.0,126.4 461.7,126.0 462.3,125.7 463.0,125.4 463.7,125.0 464.4,124.7 465.1,124.4 465.8,124.0 466.5,123.7 467.2,123.3 468.0,123.0 468.8,122.6 469.6,122.6 470.4,122.5 471.2,122.4 472.0,122.3 472.8,122.2 473.6,122.1 474.4,122.1 475.3,122.0 476.2,121.9 477.1,121.8 478.0,121.8 478.8,121.9 479.7,122.0 480.5,122.1 481.4,122.2 482.3,122.4 483.2,122.5 484.2,122.6 485.1,122.7 486.1,122.9 487.1,123.0 488.0,123.3 488.9,123.6 489.9,123.9 490.8,124.2 491.8,124.6 492.8,124.9 493.8,125.3 494.8,125.6 495.8,126.0 496.7,126.6 497.5,127.2 498.3,127.8 499.2,128.5 500.0,129.2 500.8,129.9 501.6,130.6 502.4,131.3 503.1,132.1 503.7,133.0 504.3,133.9 504.9,134.8 504.2,136.3 502.6,138.1 501.1,139.7 499.8,141.1 498.7,142.4 497.6,143.6 496.5,144.8 495.5,145.8 494.6,146.7 493.7,147.6 492.9,148.5 492.2,149.2 491.4,149.9 490.8,150.6 490.1,151.2 489.5,151.8Z" fill="#4878c4"/>
<path d="M488.8,152.4 488.2,152.9 487.6,153.4 487.1,153.9 486.6,154.4 486.1,154.8 485.6,155.2 485.1,155.6 484.7,155.9 484.2,156.3 483.8,156.6 483.4,157.0 483.0,157.3 482.7,157.6 482.3,157.9 482.0,158.2 481.7,158.5 481.3,158.8 481.0,159.0 480.7,159.3 480.4,159.6 480.1,159.8 479.8,160.1 479.6,160.3 479.3,160.6 479.0,160.8 478.7,161.1 478.4,161.3 478.2,161.6 477.9,161.8 477.7,162.1 477.4,162.3 477.1,162.5 476.9,162.8 476.6,163.0 476.3,163.3 476.1,163.5 475.8,163.8 475.5,164.0 475.3,164.3 475.0,164.5 474.7,164.8 474.5,165.1 474.2,165.4 473.9,165.7 473.6,166.0 473.4,166.4 473.1,166.7 472.8,167.0 472.4,167.4 472.1,167.8 471.8,168.2 471.4,168.6 471.1,169.0 470.7,169.4 470.3,169.7 469.8,169.9 469.4,170.0 468.9,170.2 468.5,170.3 468.0,170.5 467.5,170.7 467.0,170.8 466.5,171.0 466.0,171.2 465.5,171.3 465.0,171.5 464.4,171.7 463.9,171.7 463.4,171.7 462.8,171.6 462.3,171.6 461.8,171.6 461.2,171.6 460.6,171.6 460.1,171.6 459.5,171.6 458.9,171.6 458.2,171.6 457.6,171.5 457.0,171.5 456.3,171.5 455.7,171.4 455.0,171.4 454.3,171.3 453.5,171.3 452.8,171.2 452.0,171.2 451.1,171.1 450.3,171.1 449.4,171.0 448.5,170.9 447.5,170.8 446.5,170.7 445.5,170.6 444.4,170.5 443.3,170.3 442.2,170.1 441.0,169.9 439.8,169.7 438.6,169.4 437.3,169.1 436.2,168.6 435.0,168.1 433.9,167.6 432.8,167.0 431.9,166.3 431.5,165.3 431.2,164.4 431.0,163.4 431.0,162.3 431.3,161.2 431.6,160.1 432.0,159.1 432.4,158.0 432.9,157.0 433.5,156.0 434.1,155.1 434.7,154.1 435.3,153.3 436.0,152.4 436.6,151.6 437.3,150.8 437.9,150.0 438.5,149.3 439.1,148.6 439.6,147.9 440.2,147.3 440.8,146.6 441.4,146.0 442.0,145.4 442.6,144.9 443.1,144.3 443.6,143.8 444.2,143.2 444.7,142.7 445.2,142.2 445.7,141.8 446.3,141.3 446.8,140.9 447.3,140.4 447.8,140.0 448.3,139.6 448.8,139.2 449.3,138.8 449.7,138.4 450.2,138.0 450.7,137.6 451.1,137.2 451.6,136.8 452.1,136.5 452.5,136.1 453.0,135.7 453.4,135.3 453.9,135.0 454.3,134.6 454.8,134.3 455.3,133.9 455.8,133.6 456.3,133.3 456.8,132.9 457.3,132.6 457.7,132.3 458.2,131.9 458.7,131.6 459.3,131.3 459.8,131.0 460.3,130.6 460.8,130.3 461.3,129.9 461.9,129.6 462.4,129.3 463.0,129.0 463.6,128.7 464.2,128.4 464.8,128.1 465.4,127.9 466.0,127.6 466.7,127.3 467.3,127.0 468.0,126.7 468.7,126.4 469.4,126.3 470.1,126.2 470.8,126.1 471.5,126.0 472.2,125.9 472.9,125.8 473.7,125.7 474.4,125.6 475.2,125.5 476.0,125.4 476.8,125.4 477.6,125.4 478.3,125.5 479.1,125.5 479.9,125.6 480.8,125.7 481.6,125.7 482.5,125.8 483.3,125.8 484.2,125.9 485.2,126.0 486.0,126.2 486.9,126.4 487.8,126.6 488.7,126.8 489.7,127.0 490.6,127.3 491.6,127.5 492.6,127.8 493.7,128.0 494.6,128.5 495.4,129.0 496.3,129.5 497.2,130.0 498.0,130.6 498.9,131.2 499.7,131.8 500.5,132.5 501.2,133.2 501.8,134.0 502.4,134.9 502.9,135.7 502.5,137.1 501.2,138.6 500.1,140.1 499.1,141.4 498.1,142.6 497.2,143.8 496.3,144.8 495.4,145.8 494.5,146.8 493.7,147.6 492.9,148.5 492.1,149.2 491.4,149.9 490.7,150.6 490.0,151.2 489.4,151.8Z" fill="#5191b6"/>
<path d="M488.6,152.4 488.0,152.9 487.4,153.4 486.9,153.9 486.3,154.3 485.8,154.7 485.3,155.1 484.8,155.5 484.3,155.9 483.9,156.2 483.4,156.5 483.0,156.8 482.6,157.1 482.2,157.4 481.9,157.7 481.5,158.0 481.2,158.3 480.8,158.5 480.5,158.8 480.2,159.0 479.9,159.3 479.6,159.5 479.3,159.7 479.0,159.9 478.7,160.2 478.4,160.4 478.1,160.6 477.8,160.8 477.6,161.0 477.3,161.2 477.0,161.4 476.8,161.6 476.5,161.8 476.2,162.0 476.0,162.2 475.7,162.4 475.4,162.6 475.2,162.8 474.9,163.1 474.7,163.3 474.4,163.5 474.1,163.7 473.9,163.9 473.6,164.2 473.4,164.4 473.1,164.7 472.8,164.9 472.5,165.2 472.2,165.4 471.9,165.7 471.6,166.0 471.3,166.3 471.0,166.6 470.7,166.9 470.4,167.3 470.0,167.5 469.6,167.6 469.2,167.7 468.8,167.9 468.4,168.0 468.0,168.2 467.6,168.3 467.2,168.5 466.7,168.6 466.3,168.8 465.8,168.9 465.4,169.1 464.9,169.2 464.4,169.3 463.9,169.3 463.5,169.3 463.0,169.4 462.5,169.4 462.0,169.4 461.4,169.5 460.9,169.5 460.4,169.6 459.8,169.6 459.2,169.6 458.6,169.7 458.0,169.7 457.4,169.7 456.7,169.7 456.1,169.8 455.4,169.8 454.6,169.8 453.9,169.8 453.1,169.9 452.3,169.9 451.4,169.9 450.5,169.9 449.6,169.9 448.6,169.9 447.6,169.8 446.5,169.8 445.5,169.7 444.3,169.6 443.2,169.5 442.0,169.3 440.8,169.1 439.6,168.8 438.3,168.5 437.2,168.1 436.2,167.6 435.1,167.0 434.2,166.4 433.4,165.7 433.0,164.8 432.7,163.9 432.6,162.9 432.6,161.9 432.9,160.8 433.3,159.8 433.7,158.8 434.1,157.8 434.7,156.8 435.3,155.8 435.9,154.9 436.6,154.0 437.3,153.2 437.9,152.4 438.6,151.6 439.3,150.9 439.9,150.2 440.6,149.5 441.2,148.9 441.8,148.2 442.4,147.7 443.0,147.1 443.6,146.5 444.2,146.0 444.8,145.5 445.3,145.0 445.8,144.6 446.4,144.1 446.9,143.6 447.4,143.2 447.9,142.8 448.4,142.4 448.9,142.0 449.4,141.7 449.9,141.3 450.4,140.9 450.8,140.6 451.3,140.3 451.7,139.9 452.2,139.6 452.6,139.3 453.1,138.9 453.5,138.6 453.9,138.3 454.3,138.0 454.8,137.7 455.2,137.4 455.6,137.1 456.0,136.8 456.5,136.5 456.9,136.3 457.3,136.0 457.8,135.7 458.2,135.5 458.7,135.2 459.1,134.9 459.5,134.6 460.0,134.4 460.4,134.1 460.9,133.8 461.3,133.6 461.8,133.3 462.3,133.0 462.7,132.8 463.2,132.5 463.7,132.3 464.2,132.0 464.7,131.8 465.3,131.6 465.8,131.3 466.3,131.1 466.9,130.9 467.4,130.6 468.0,130.4 468.6,130.2 469.2,130.0 469.8,129.9 470.4,129.8 471.0,129.7 471.6,129.6 472.2,129.5 472.9,129.4 473.5,129.3 474.2,129.2 474.9,129.1 475.6,129.0 476.3,129.0 477.0,129.0 477.7,129.0 478.4,128.9 479.2,128.9 480.0,128.9 480.7,128.9 481.5,128.9 482.4,128.9 483.2,128.9 484.1,129.0 484.9,129.1 485.8,129.2 486.7,129.3 487.6,129.5 488.5,129.6 489.5,129.8 490.5,129.9 491.5,130.1 492.4,130.4 493.3,130.8 494.2,131.2 495.1,131.6 496.0,132.0 496.9,132.5 497.8,133.1 498.6,133.6 499.3,134.3 499.9,135.1 500.5,135.9 500.9,136.7 500.7,137.8 499.9,139.2 499.1,140.5 498.4,141.7 497.6,142.8 496.8,143.9 496.0,144.9 495.2,145.9 494.4,146.8 493.6,147.7 492.8,148.5 492.1,149.2 491.3,149.9 490.6,150.6 489.9,151.3 489.3,151.8Z" fill="#59a3a6"/>
<path d="M488.5,152.4 487.8,152.9 487.2,153.4 486.6,153.9 486.1,154.3 485.5,154.7 485.0,155.1 484.5,155.5 484.0,155.8 483.5,156.1 483.1,156.4 482.6,156.7 482.2,157.0 481.8,157.3 481.4,157.5 481.0,157.8 480.7,158.0 480.3,158.3 480.0,158.5 479.6,158.7 479.3,158.9 479.0,159.1 478.7,159.3 478.4,159.5 478.1,159.7 477.8,159.9 477.5,160.1 477.2,160.3 476.9,160.4 476.7,160.6 476.4,160.8 476.1,161.0 475.9,161.1 475.6,161.3 475.3,161.5 475.1,161.6 474.8,161.8 474.6,161.9 474.3,162.1 474.0,162.3 473.8,162.4 473.5,162.6 473.3,162.8 473.0,162.9 472.8,163.1 472.5,163.3 472.2,163.5 472.0,163.7 471.7,163.8 471.4,164.0 471.2,164.2 470.9,164.4 470.6,164.6 470.3,164.8 470.0,165.1 469.7,165.2 469.4,165.4 469.0,165.5 468.7,165.6 468.3,165.7 468.0,165.8 467.6,166.0 467.3,166.1 466.9,166.2 466.5,166.4 466.1,166.5 465.7,166.6 465.3,166.8 464.9,166.9 464.5,166.9 464.1,167.0 463.6,167.1 463.2,167.2 462.7,167.3 462.3,167.4 461.8,167.4 461.3,167.5 460.7,167.6 460.2,167.7 459.6,167.8 459.1,167.9 458.4,168.0 457.8,168.1 457.2,168.2 456.5,168.3 455.8,168.4 455.0,168.4 454.2,168.5 453.4,168.6 452.5,168.7 451.6,168.8 450.7,168.8 449.7,168.9 448.6,168.9 447.6,168.9 446.5,168.9 445.3,168.9 444.1,168.8 442.9,168.7 441.7,168.5 440.5,168.3 439.4,167.9 438.3,167.5 437.3,167.1 436.4,166.5 435.5,165.8 434.9,165.1 434.5,164.3 434.3,163.4 434.2,162.4 434.3,161.4 434.5,160.4 434.9,159.4 435.4,158.5 435.9,157.5 436.4,156.6 437.1,155.6 437.8,154.8 438.5,153.9 439.2,153.2 439.9,152.4 440.6,151.7 441.3,151.0 442.0,150.4 442.6,149.7 443.3,149.1 443.9,148.6 444.6,148.1 445.2,147.6 445.8,147.1 446.4,146.6 447.0,146.2 447.5,145.7 448.0,145.3 448.6,144.9 449.1,144.6 449.6,144.2 450.1,143.9 450.6,143.5 451.1,143.2 451.5,142.9 452.0,142.6 452.4,142.3 452.9,142.0 453.3,141.7 453.7,141.5 454.2,141.2 454.6,140.9 455.0,140.7 455.4,140.4 455.8,140.2 456.2,139.9 456.6,139.7 457.0,139.5 457.3,139.2 457.7,139.0 458.1,138.8 458.5,138.6 458.9,138.4 459.3,138.2 459.7,138.0 460.0,137.8 460.4,137.5 460.8,137.3 461.2,137.1 461.6,136.9 462.0,136.7 462.4,136.5 462.8,136.3 463.2,136.1 463.6,135.9 464.0,135.7 464.4,135.5 464.8,135.4 465.3,135.2 465.7,135.0 466.2,134.8 466.6,134.6 467.1,134.5 467.5,134.3 468.0,134.1 468.5,133.9 469.0,133.8 469.5,133.7 470.0,133.6 470.5,133.4 471.0,133.3 471.6,133.2 472.1,133.1 472.7,132.9 473.2,132.8 473.8,132.7 474.4,132.6 475.0,132.5 475.7,132.4 476.3,132.4 476.9,132.3 477.6,132.2 478.3,132.2 479.0,132.1 479.8,132.0 480.5,132.0 481.3,131.9 482.1,131.9 482.9,131.9 483.7,131.9 484.6,131.9 485.5,131.9 486.4,132.0 487.4,132.0 488.3,132.1 489.3,132.2 490.3,132.3 491.2,132.6 492.2,132.8 493.1,133.1 494.1,133.4 495.0,133.8 495.9,134.3 496.7,134.8 497.4,135.4 498.0,136.1 498.5,136.8 499.0,137.6 498.9,138.6 498.6,139.7 498.1,140.8 497.6,141.9 497.1,143.0 496.4,144.0 495.8,145.0 495.0,145.9 494.3,146.8 493.5,147.7 492.8,148.5 492.0,149.2 491.3,150.0 490.5,150.6 489.8,151.3 489.2,151.8Z" fill="#66b296"/>
<path d="M488.3,152.4 487.7,152.9 487.0,153.4 486.4,153.8 485.8,154.3 485.2,154.7 484.7,155.0 484.2,155.4 483.6,155.7 483.1,156.0 482.7,156.3 482.2,156.6 481.8,156.9 481.4,157.1 480.9,157.4 480.6,157.6 480.2,157.8 479.8,158.0 479.4,158.2 479.1,158.4 478.8,158.6 478.4,158.8 478.1,159.0 477.8,159.1 477.5,159.3 477.2,159.4 476.9,159.6 476.6,159.7 476.3,159.9 476.0,160.0 475.8,160.2 475.5,160.3 475.2,160.4 475.0,160.5 474.7,160.7 474.4,160.8 474.2,160.9 473.9,161.0 473.7,161.1 473.4,161.3 473.2,161.4 472.9,161.5 472.7,161.6 472.4,161.7 472.2,161.8 471.9,161.9 471.7,162.0 471.4,162.1 471.2,162.2 470.9,162.3 470.7,162.4 470.4,162.6 470.2,162.7 469.9,162.8 469.7,162.9 469.4,163.0 469.1,163.1 468.8,163.2 468.6,163.3 468.3,163.4 468.0,163.5 467.7,163.6 467.4,163.7 467.1,163.9 466.8,164.0 466.5,164.1 466.1,164.2 465.8,164.3 465.4,164.5 465.1,164.6 464.7,164.7 464.3,164.8 463.9,165.0 463.5,165.1 463.1,165.2 462.6,165.4 462.2,165.5 461.7,165.7 461.2,165.8 460.6,165.9 460.1,166.1 459.5,166.3 458.9,166.4 458.3,166.6 457.6,166.7 456.9,166.9 456.1,167.1 455.3,167.2 454.5,167.4 453.6,167.5 452.7,167.7 451.8,167.8 450.8,167.9 449.7,168.0 448.6,168.1 447.5,168.2 446.3,168.2 445.1,168.1 443.9,168.1 442.7,167.9 441.5,167.7 440.4,167.4 439.3,167.0 438.4,166.5 437.6,166.0 436.9,165.3 436.4,164.5 436.0,163.7 435.8,162.9 435.8,161.9 435.9,161.0 436.2,160.0 436.6,159.1 437.0,158.1 437.6,157.2 438.2,156.3 438.9,155.5 439.6,154.6 440.3,153.8 441.1,153.1 441.8,152.4 442.6,151.7 443.3,151.1 444.0,150.5 444.7,150.0 445.4,149.4 446.1,148.9 446.7,148.5 447.4,148.0 448.0,147.6 448.6,147.2 449.1,146.8 449.7,146.5 450.3,146.1 450.8,145.8 451.3,145.5 451.8,145.2 452.3,144.9 452.8,144.6 453.2,144.4 453.7,144.1 454.1,143.9 454.5,143.6 454.9,143.4 455.4,143.2 455.8,143.0 456.1,142.8 456.5,142.6 456.9,142.4 457.3,142.2 457.6,142.0 458.0,141.9 458.4,141.7 458.7,141.5 459.1,141.4 459.4,141.2 459.8,141.1 460.1,140.9 460.4,140.8 460.8,140.6 461.1,140.5 461.4,140.3 461.8,140.2 462.1,140.0 462.4,139.9 462.8,139.8 463.1,139.6 463.4,139.5 463.8,139.4 464.1,139.2 464.4,139.1 464.8,139.0 465.1,138.8 465.5,138.7 465.8,138.6 466.2,138.4 466.5,138.3 466.9,138.2 467.2,138.1 467.6,137.9 468.0,137.8 468.4,137.7 468.8,137.5 469.2,137.4 469.6,137.3 470.0,137.1 470.4,137.0 470.9,136.9 471.3,136.7 471.8,136.6 472.3,136.5 472.8,136.3 473.3,136.2 473.8,136.1 474.3,135.9 474.9,135.8 475.5,135.7 476.1,135.5 476.7,135.4 477.3,135.3 478.0,135.1 478.7,135.0 479.4,134.9 480.1,134.8 480.9,134.6 481.7,134.5 482.5,134.4 483.4,134.4 484.3,134.3 485.2,134.3 486.2,134.2 487.1,134.2 488.1,134.3 489.1,134.3 490.1,134.5 491.1,134.6 492.1,134.9 493.1,135.2 494.0,135.5 494.8,136.0 495.5,136.5 496.1,137.1 496.6,137.8 497.0,138.6 497.2,139.4 497.2,140.3 497.1,141.2 496.9,142.2 496.5,143.1 496.0,144.1 495.5,145.0 494.9,146.0 494.2,146.8 493.5,147.7 492.7,148.5 492.0,149.2 491.2,150.0 490.5,150.6 489.7,151.3 489.0,151.8Z" fill="#86c070"/>
<path d="M484.6,152.4 484.0,152.8 483.5,153.2 482.9,153.6 482.4,153.9 481.9,154.2 481.5,154.5 481.0,154.8 480.6,155.1 480.2,155.3 479.8,155.6 479.4,155.8 479.1,156.0 478.7,156.2 478.4,156.4 478.1,156.6 477.8,156.8 477.5,156.9 477.2,157.1 476.9,157.2 476.6,157.4 476.4,157.5 476.1,157.7 475.8,157.8 475.6,157.9 475.4,158.0 475.1,158.2 474.9,158.3 474.7,158.4 474.4,158.5 474.2,158.6 474.0,158.7 473.8,158.8 473.6,158.9 473.4,159.0 473.1,159.1 472.9,159.2 472.7,159.3 472.5,159.4 472.3,159.5 472.1,159.6 471.9,159.7 471.7,159.8 471.5,159.8 471.4,159.9 471.2,160.0 471.0,160.1 470.8,160.2 470.6,160.3 470.4,160.4 470.2,160.4 469.9,160.5 469.7,160.6 469.5,160.7 469.3,160.8 469.1,160.9 468.9,160.9 468.7,161.0 468.5,161.1 468.2,161.2 468.0,161.3 467.8,161.4 467.5,161.5 467.3,161.6 467.0,161.7 466.8,161.8 466.5,161.8 466.2,161.9 466.0,162.0 465.7,162.1 465.4,162.2 465.1,162.3 464.7,162.5 464.4,162.6 464.1,162.7 463.7,162.8 463.3,162.9 462.9,163.0 462.5,163.1 462.1,163.3 461.7,163.4 461.2,163.5 460.7,163.7 460.2,163.8 459.6,163.9 459.1,164.1 458.5,164.2 457.8,164.3 457.1,164.5 456.4,164.6 455.7,164.7 454.8,164.9 454.0,165.0 453.1,165.1 452.2,165.2 451.2,165.3 450.2,165.4 449.1,165.4 448.0,165.4 446.9,165.3 445.7,165.3 444.6,165.1 443.5,164.9 442.5,164.6 441.6,164.2 440.9,163.6 440.5,162.9 440.4,162.2 440.5,161.3 440.7,160.5 441.1,159.6 441.5,158.8 442.0,157.9 442.6,157.1 443.2,156.3 443.8,155.6 444.5,154.9 445.1,154.2 445.8,153.6 446.4,153.0 447.1,152.4 447.7,151.9 448.3,151.4 448.9,150.9 449.5,150.5 450.1,150.0 450.6,149.6 451.1,149.3 451.6,148.9 452.2,148.6 452.6,148.3 453.1,148.0 453.5,147.7 454.0,147.4 454.4,147.2 454.8,146.9 455.2,146.7 455.6,146.5 456.0,146.3 456.3,146.1 456.7,145.9 457.0,145.7 457.4,145.5 457.7,145.3 458.0,145.2 458.4,145.0 458.7,144.8 459.0,144.7 459.3,144.5 459.6,144.4 459.9,144.3 460.1,144.1 460.4,144.0 460.7,143.9 461.0,143.7 461.2,143.6 461.5,143.5 461.8,143.4 462.1,143.2 462.3,143.1 462.6,143.0 462.8,142.9 463.1,142.8 463.4,142.7 463.6,142.6 463.9,142.5 464.1,142.4 464.4,142.2 464.7,142.1 464.9,142.0 465.2,141.9 465.5,141.8 465.7,141.7 466.0,141.6 466.3,141.5 466.6,141.4 466.8,141.3 467.1,141.2 467.4,141.1 467.7,141.0 468.0,140.9 468.3,140.8 468.6,140.7 468.9,140.6 469.3,140.5 469.6,140.4 469.9,140.3 470.3,140.2 470.6,140.1 471.0,140.0 471.4,139.9 471.7,139.7 472.1,139.6 472.6,139.5 473.0,139.4 473.4,139.3 473.9,139.2 474.4,139.1 474.8,139.0 475.4,138.9 475.9,138.7 476.4,138.6 477.0,138.5 477.6,138.4 478.2,138.3 478.9,138.2 479.5,138.1 480.2,138.1 481.0,138.0 481.7,137.9 482.5,137.9 483.3,137.9 484.1,137.9 485.0,137.9 485.9,137.9 486.7,138.0 487.6,138.1 488.5,138.3 489.4,138.5 490.2,138.8 491.0,139.1 491.8,139.5 492.5,139.9 493.0,140.5 493.5,141.1 493.7,141.8 493.6,142.6 493.3,143.4 492.8,144.3 492.2,145.2 491.5,146.1 490.8,146.9 490.0,147.7 489.3,148.5 488.6,149.1 487.8,149.8 487.1,150.4 486.5,150.9 485.8,151.5 485.2,152.0Z" fill="#bcd242"/>
<path d="M481.6,152.4 481.1,152.7 480.6,153.1 480.1,153.4 479.7,153.6 479.3,153.9 478.9,154.1 478.5,154.4 478.2,154.6 477.9,154.8 477.5,155.0 477.2,155.1 476.9,155.3 476.6,155.5 476.4,155.6 476.1,155.8 475.9,155.9 475.6,156.0 475.4,156.2 475.1,156.3 474.9,156.4 474.7,156.5 474.5,156.6 474.3,156.7 474.1,156.8 473.9,156.9 473.7,157.0 473.5,157.1 473.3,157.2 473.1,157.3 473.0,157.4 472.8,157.5 472.6,157.5 472.5,157.6 472.3,157.7 472.1,157.8 472.0,157.8 471.8,157.9 471.6,158.0 471.5,158.1 471.3,158.1 471.2,158.2 471.0,158.3 470.8,158.3 470.7,158.4 470.5,158.5 470.4,158.6 470.2,158.6 470.0,158.7 469.9,158.8 469.7,158.8 469.6,158.9 469.4,159.0 469.2,159.0 469.1,159.1 468.9,159.2 468.7,159.2 468.5,159.3 468.4,159.4 468.2,159.4 468.0,159.5 467.8,159.6 467.6,159.7 467.4,159.7 467.2,159.8 467.0,159.9 466.8,159.9 466.6,160.0 466.4,160.1 466.1,160.2 465.9,160.3 465.6,160.4 465.4,160.4 465.1,160.5 464.8,160.6 464.6,160.7 464.3,160.8 463.9,160.9 463.6,161.0 463.3,161.1 462.9,161.2 462.5,161.3 462.1,161.4 461.7,161.5 461.3,161.7 460.8,161.8 460.3,161.9 459.8,162.0 459.2,162.1 458.6,162.3 458.0,162.4 457.3,162.5 456.6,162.7 455.9,162.8 455.0,162.9 454.2,163.0 453.3,163.1 452.3,163.2 451.3,163.2 450.2,163.3 449.1,163.3 448.0,163.3 446.8,163.2 445.8,163.0 444.8,162.7 444.2,162.3 443.9,161.7 443.9,160.9 444.2,160.1 444.7,159.3 445.2,158.5 445.8,157.7 446.5,157.0 447.1,156.3 447.7,155.6 448.3,155.0 449.0,154.4 449.6,153.9 450.2,153.3 450.7,152.9 451.3,152.4 451.8,152.0 452.3,151.6 452.8,151.2 453.3,150.9 453.8,150.5 454.2,150.2 454.7,149.9 455.1,149.7 455.5,149.4 455.9,149.2 456.3,148.9 456.6,148.7 457.0,148.5 457.3,148.3 457.6,148.1 458.0,147.9 458.3,147.8 458.6,147.6 458.9,147.4 459.1,147.3 459.4,147.1 459.7,147.0 459.9,146.9 460.2,146.7 460.4,146.6 460.7,146.5 460.9,146.4 461.2,146.2 461.4,146.1 461.6,146.0 461.8,145.9 462.1,145.8 462.3,145.7 462.5,145.6 462.7,145.5 462.9,145.4 463.1,145.3 463.3,145.2 463.6,145.1 463.8,145.1 464.0,145.0 464.2,144.9 464.4,144.8 464.6,144.7 464.8,144.6 465.0,144.5 465.2,144.5 465.4,144.4 465.6,144.3 465.8,144.2 466.0,144.1 466.2,144.1 466.4,144.0 466.7,143.9 466.9,143.8 467.1,143.7 467.3,143.7 467.5,143.6 467.8,143.5 468.0,143.4 468.2,143.3 468.5,143.2 468.7,143.2 469.0,143.1 469.2,143.0 469.5,142.9 469.8,142.8 470.1,142.7 470.3,142.7 470.6,142.6 470.9,142.5 471.3,142.4 471.6,142.3 471.9,142.2 472.3,142.1 472.6,142.0 473.0,141.9 473.4,141.8 473.8,141.7 474.2,141.7 474.6,141.6 475.1,141.5 475.6,141.4 476.1,141.3 476.6,141.2 477.1,141.1 477.7,141.0 478.3,141.0 478.9,140.9 479.6,140.8 480.2,140.8 481.0,140.7 481.7,140.7 482.4,140.7 483.2,140.7 484.0,140.8 484.9,140.8 485.7,140.9 486.6,141.0 487.4,141.2 488.3,141.4 489.1,141.6 489.9,142.0 490.5,142.4 490.8,143.0 490.8,143.7 490.4,144.5 489.8,145.3 489.1,146.2 488.3,147.0 487.5,147.7 486.7,148.4 485.9,149.1 485.2,149.7 484.5,150.2 483.9,150.7 483.2,151.2 482.7,151.6 482.1,152.0Z" fill="#efe21e"/>
<path d="M478.8,152.4 478.3,152.7 477.9,152.9 477.6,153.2 477.2,153.4 476.9,153.6 476.5,153.8 476.2,153.9 476.0,154.1 475.7,154.2 475.4,154.4 475.2,154.5 474.9,154.7 474.7,154.8 474.5,154.9 474.3,155.0 474.1,155.1 473.9,155.2 473.7,155.3 473.5,155.4 473.3,155.5 473.2,155.6 473.0,155.7 472.8,155.7 472.7,155.8 472.5,155.9 472.4,156.0 472.2,156.0 472.1,156.1 472.0,156.2 471.8,156.2 471.7,156.3 471.6,156.3 471.4,156.4 471.3,156.5 471.2,156.5 471.0,156.6 470.9,156.6 470.8,156.7 470.7,156.8 470.5,156.8 470.4,156.9 470.3,156.9 470.2,157.0 470.1,157.0 469.9,157.1 469.8,157.1 469.7,157.2 469.6,157.2 469.4,157.3 469.3,157.3 469.2,157.4 469.1,157.4 468.9,157.5 468.8,157.5 468.7,157.6 468.6,157.6 468.4,157.7 468.3,157.7 468.1,157.8 468.0,157.9 467.9,157.9 467.7,158.0 467.6,158.0 467.4,158.1 467.2,158.1 467.1,158.2 466.9,158.3 466.7,158.3 466.6,158.4 466.4,158.4 466.2,158.5 466.0,158.6 465.8,158.7 465.6,158.7 465.3,158.8 465.1,158.9 464.9,159.0 464.6,159.0 464.4,159.1 464.1,159.2 463.8,159.3 463.5,159.4 463.1,159.5 462.8,159.6 462.4,159.7 462.0,159.8 461.6,159.9 461.2,160.0 460.7,160.1 460.2,160.2 459.6,160.4 459.0,160.5 458.4,160.6 457.7,160.7 457.0,160.9 456.2,161.0 455.3,161.1 454.3,161.3 453.3,161.4 452.2,161.5 451.1,161.6 449.9,161.6 448.8,161.6 447.8,161.4 447.2,161.0 447.0,160.5 447.1,159.8 447.6,159.0 448.3,158.2 449.0,157.5 449.8,156.8 450.5,156.1 451.2,155.5 451.9,155.0 452.5,154.4 453.1,154.0 453.7,153.5 454.2,153.1 454.7,152.7 455.2,152.4 455.6,152.1 456.1,151.8 456.5,151.5 456.9,151.2 457.3,151.0 457.6,150.8 458.0,150.5 458.3,150.3 458.6,150.1 458.9,150.0 459.2,149.8 459.5,149.6 459.7,149.5 460.0,149.3 460.3,149.2 460.5,149.1 460.7,148.9 461.0,148.8 461.2,148.7 461.4,148.6 461.6,148.5 461.8,148.4 462.0,148.3 462.2,148.2 462.4,148.1 462.6,148.0 462.7,147.9 462.9,147.8 463.1,147.7 463.3,147.7 463.4,147.6 463.6,147.5 463.8,147.4 463.9,147.4 464.1,147.3 464.2,147.2 464.4,147.1 464.5,147.1 464.7,147.0 464.9,146.9 465.0,146.9 465.2,146.8 465.3,146.8 465.5,146.7 465.6,146.6 465.8,146.6 465.9,146.5 466.1,146.4 466.2,146.4 466.4,146.3 466.5,146.3 466.7,146.2 466.8,146.1 467.0,146.1 467.2,146.0 467.3,146.0 467.5,145.9 467.7,145.8 467.8,145.8 468.0,145.7 468.2,145.7 468.4,145.6 468.5,145.5 468.7,145.5 468.9,145.4 469.1,145.3 469.3,145.3 469.5,145.2 469.7,145.1 470.0,145.1 470.2,145.0 470.4,144.9 470.7,144.9 470.9,144.8 471.2,144.7 471.5,144.6 471.7,144.6 472.0,144.5 472.3,144.4 472.7,144.3 473.0,144.3 473.3,144.2 473.7,144.1 474.1,144.0 474.5,143.9 474.9,143.9 475.4,143.8 475.8,143.7 476.3,143.6 476.9,143.5 477.4,143.5 478.0,143.4 478.6,143.3 479.3,143.3 480.0,143.2 480.7,143.2 481.5,143.1 482.3,143.1 483.2,143.1 484.1,143.1 485.1,143.1 486.1,143.2 487.0,143.3 487.7,143.6 488.1,144.1 488.2,144.7 487.8,145.4 487.1,146.2 486.2,147.0 485.3,147.8 484.5,148.4 483.6,149.1 482.8,149.6 482.1,150.2 481.5,150.6 480.8,151.1 480.3,151.4 479.7,151.8 479.2,152.1Z" fill="#f6b420"/>
<path d="M476.1,152.4 475.8,152.6 475.4,152.8 475.1,153.0 474.8,153.1 474.5,153.3 474.3,153.4 474.0,153.5 473.8,153.6 473.6,153.7 473.4,153.8 473.2,153.9 473.0,154.0 472.9,154.1 472.7,154.2 472.5,154.3 472.4,154.4 472.2,154.4 472.1,154.5 472.0,154.6 471.8,154.6 471.7,154.7 471.6,154.7 471.5,154.8 471.4,154.8 471.3,154.9 471.1,154.9 471.0,155.0 470.9,155.0 470.8,155.1 470.7,155.1 470.6,155.2 470.5,155.2 470.4,155.3 470.4,155.3 470.3,155.3 470.2,155.4 470.1,155.4 470.0,155.5 469.9,155.5 469.8,155.5 469.7,155.6 469.6,155.6 469.6,155.7 469.5,155.7 469.4,155.7 469.3,155.8 469.2,155.8 469.1,155.8 469.0,155.9 468.9,155.9 468.9,155.9 468.8,156.0 468.7,156.0 468.6,156.1 468.5,156.1 468.4,156.1 468.3,156.2 468.2,156.2 468.1,156.2 468.0,156.3 467.9,156.3 467.8,156.4 467.7,156.4 467.6,156.4 467.5,156.5 467.3,156.5 467.2,156.6 467.1,156.6 467.0,156.7 466.8,156.7 466.7,156.8 466.6,156.8 466.4,156.9 466.3,156.9 466.1,157.0 465.9,157.0 465.8,157.1 465.6,157.2 465.4,157.2 465.2,157.3 465.0,157.4 464.7,157.4 464.5,157.5 464.2,157.6 464.0,157.7 463.7,157.8 463.3,157.9 463.0,158.0 462.6,158.1 462.2,158.2 461.8,158.3 461.3,158.4 460.8,158.6 460.2,158.7 459.6,158.9 458.9,159.0 458.1,159.2 457.2,159.4 456.3,159.6 455.2,159.8 454.1,160.0 452.8,160.1 451.7,160.2 450.7,160.1 450.0,159.8 449.9,159.3 450.2,158.7 450.9,157.9 451.8,157.2 452.7,156.5 453.6,155.9 454.4,155.3 455.1,154.8 455.8,154.3 456.5,153.9 457.0,153.6 457.5,153.2 458.0,152.9 458.5,152.6 458.9,152.4 459.2,152.2 459.6,152.0 459.9,151.8 460.2,151.6 460.5,151.4 460.8,151.3 461.1,151.1 461.3,151.0 461.5,150.9 461.8,150.7 462.0,150.6 462.2,150.5 462.4,150.4 462.6,150.3 462.7,150.2 462.9,150.1 463.1,150.0 463.2,150.0 463.4,149.9 463.5,149.8 463.7,149.8 463.8,149.7 464.0,149.6 464.1,149.6 464.2,149.5 464.3,149.4 464.5,149.4 464.6,149.3 464.7,149.3 464.8,149.2 464.9,149.2 465.0,149.1 465.2,149.1 465.3,149.0 465.4,149.0 465.5,148.9 465.6,148.9 465.7,148.8 465.8,148.8 465.9,148.7 466.0,148.7 466.1,148.7 466.2,148.6 466.3,148.6 466.4,148.5 466.5,148.5 466.6,148.5 466.7,148.4 466.8,148.4 466.9,148.3 467.0,148.3 467.1,148.2 467.2,148.2 467.3,148.2 467.4,148.1 467.5,148.1 467.7,148.0 467.8,148.0 467.9,148.0 468.0,147.9 468.1,147.9 468.2,147.8 468.4,147.8 468.5,147.7 468.6,147.7 468.8,147.7 468.9,147.6 469.0,147.6 469.2,147.5 469.3,147.5 469.5,147.4 469.6,147.4 469.8,147.3 470.0,147.2 470.2,147.2 470.3,147.1 470.5,147.1 470.7,147.0 471.0,147.0 471.2,146.9 471.4,146.8 471.7,146.8 471.9,146.7 472.2,146.6 472.5,146.5 472.8,146.5 473.1,146.4 473.5,146.3 473.9,146.2 474.3,146.1 474.7,146.0 475.2,145.9 475.7,145.8 476.3,145.7 476.9,145.6 477.5,145.5 478.3,145.3 479.1,145.2 480.0,145.1 481.0,144.9 482.0,144.8 483.1,144.7 484.2,144.7 485.1,144.8 485.6,145.1 485.7,145.6 485.2,146.3 484.4,147.1 483.5,147.8 482.5,148.5 481.6,149.1 480.7,149.7 479.9,150.2 479.2,150.6 478.5,151.0 478.0,151.4 477.4,151.7 477.0,151.9 476.5,152.2Z" fill="#f27e1a"/>
<path d="M473.6,152.4 473.3,152.5 473.0,152.7 472.7,152.8 472.5,152.9 472.3,153.0 472.1,153.1 471.9,153.1 471.8,153.2 471.6,153.3 471.5,153.3 471.3,153.4 471.2,153.4 471.1,153.5 471.0,153.5 470.9,153.6 470.8,153.6 470.7,153.7 470.6,153.7 470.5,153.8 470.4,153.8 470.3,153.8 470.2,153.9 470.2,153.9 470.1,153.9 470.0,153.9 469.9,154.0 469.9,154.0 469.8,154.0 469.8,154.1 469.7,154.1 469.6,154.1 469.6,154.1 469.5,154.2 469.4,154.2 469.4,154.2 469.3,154.2 469.3,154.3 469.2,154.3 469.2,154.3 469.1,154.3 469.1,154.3 469.0,154.4 468.9,154.4 468.9,154.4 468.8,154.4 468.8,154.5 468.7,154.5 468.7,154.5 468.6,154.5 468.6,154.5 468.5,154.6 468.5,154.6 468.4,154.6 468.4,154.6 468.3,154.7 468.2,154.7 468.2,154.7 468.1,154.7 468.1,154.7 468.0,154.8 467.9,154.8 467.9,154.8 467.8,154.8 467.7,154.9 467.7,154.9 467.6,154.9 467.5,155.0 467.5,155.0 467.4,155.0 467.3,155.0 467.2,155.1 467.1,155.1 467.0,155.1 466.9,155.2 466.8,155.2 466.7,155.3 466.6,155.3 466.5,155.4 466.4,155.4 466.2,155.4 466.1,155.5 465.9,155.6 465.8,155.6 465.6,155.7 465.4,155.8 465.2,155.8 465.0,155.9 464.8,156.0 464.5,156.1 464.2,156.2 463.9,156.3 463.5,156.4 463.1,156.6 462.6,156.7 462.1,156.9 461.5,157.1 460.8,157.3 460.0,157.6 459.1,157.8 458.1,158.1 456.9,158.4 455.7,158.7 454.4,158.9 453.4,158.9 452.8,158.7 452.7,158.3 453.2,157.6 454.1,156.9 455.1,156.2 456.2,155.6 457.2,155.0 458.1,154.5 458.9,154.1 459.6,153.7 460.3,153.4 460.8,153.2 461.3,152.9 461.7,152.7 462.1,152.6 462.4,152.4 462.7,152.3 463.0,152.1 463.3,152.0 463.5,151.9 463.7,151.8 463.9,151.7 464.1,151.7 464.2,151.6 464.4,151.5 464.5,151.5 464.7,151.4 464.8,151.4 464.9,151.3 465.0,151.3 465.1,151.2 465.2,151.2 465.3,151.1 465.4,151.1 465.5,151.0 465.6,151.0 465.7,151.0 465.8,150.9 465.8,150.9 465.9,150.9 466.0,150.9 466.1,150.8 466.1,150.8 466.2,150.8 466.2,150.7 466.3,150.7 466.4,150.7 466.4,150.7 466.5,150.6 466.6,150.6 466.6,150.6 466.7,150.6 466.7,150.5 466.8,150.5 466.8,150.5 466.9,150.5 466.9,150.5 467.0,150.4 467.1,150.4 467.1,150.4 467.2,150.4 467.2,150.3 467.3,150.3 467.3,150.3 467.4,150.3 467.4,150.3 467.5,150.2 467.5,150.2 467.6,150.2 467.6,150.2 467.7,150.1 467.8,150.1 467.8,150.1 467.9,150.1 467.9,150.1 468.0,150.0 468.1,150.0 468.1,150.0 468.2,150.0 468.3,149.9 468.3,149.9 468.4,149.9 468.5,149.8 468.5,149.8 468.6,149.8 468.7,149.8 468.8,149.7 468.9,149.7 469.0,149.7 469.1,149.6 469.2,149.6 469.3,149.5 469.4,149.5 469.5,149.4 469.6,149.4 469.8,149.4 469.9,149.3 470.1,149.2 470.2,149.2 470.4,149.1 470.6,149.0 470.8,149.0 471.0,148.9 471.2,148.8 471.5,148.7 471.8,148.6 472.1,148.5 472.5,148.4 472.9,148.2 473.4,148.1 473.9,147.9 474.5,147.7 475.2,147.5 476.0,147.2 476.9,147.0 477.9,146.7 479.1,146.4 480.3,146.1 481.6,145.9 482.6,145.9 483.2,146.1 483.3,146.5 482.8,147.2 481.9,147.9 480.9,148.6 479.8,149.2 478.8,149.8 477.9,150.3 477.1,150.7 476.4,151.1 475.7,151.4 475.2,151.6 474.7,151.9 474.3,152.1 473.9,152.2Z" fill="#e5471a"/>
<line x1="95.4" y1="72" x2="95.4" y2="206" stroke="#000" stroke-width="1.3" stroke-dasharray="1.3 1.25"/>
<line x1="84.4" y1="79.8" x2="209" y2="206" stroke="#000" stroke-width="1.25" stroke-dasharray="2.1 1.3"/>
<line x1="258.7" y1="69.5" x2="258.7" y2="206" stroke="#000" stroke-width="1.3" stroke-dasharray="1.3 1.25"/>
<line x1="244.5" y1="80" x2="369" y2="206" stroke="#000" stroke-width="1.25" stroke-dasharray="2.1 1.3"/>
<line x1="416.8" y1="71.5" x2="416.8" y2="206" stroke="#000" stroke-width="1.3" stroke-dasharray="1.3 1.25"/>
<line x1="404.6" y1="79.5" x2="529" y2="206" stroke="#000" stroke-width="1.25" stroke-dasharray="2.1 1.3"/>
<line x1="292.1" y1="143.4" x2="299.5" y2="143.4" stroke="#000" stroke-width="1.6"/>
<path d="M306.5,143.4 L298.5,141.0 L299.7,143.4 L298.5,145.8 Z" fill="#000"/>
<line x1="304.5" y1="156.6" x2="312.5" y2="156.6" stroke="#000" stroke-width="1.6"/>
<path d="M319.5,156.6 L311.5,154.2 L312.7,156.6 L311.5,159.0 Z" fill="#000"/>
<line x1="451.5" y1="141.5" x2="457" y2="141.5" stroke="#000" stroke-width="1.6"/>
<path d="M464,141.5 L456,139.1 L457.2,141.5 L456,143.9 Z" fill="#000"/>
<line x1="459.8" y1="150.8" x2="465.9" y2="150.8" stroke="#000" stroke-width="1.6"/>
<path d="M472.9,150.8 L464.9,148.4 L466.09999999999997,150.8 L464.9,153.20000000000002 Z" fill="#000"/>
<text x="64.2" y="19.5" class="p" >(a)</text>
<text x="224.6" y="19.4" class="p" >(b)</text>
<text x="383.8" y="19.5" class="p" >(c)</text>
<text x="113.3" y="95.5" class="t" >Ge buffer</text>
<text x="280.8" y="99.2" class="t" >Ge buffer</text>
<text x="439.6" y="95.5" class="t" >Ge buffer</text>
<text x="119.4" y="195.5" class="t" >GeSn</text>
<text x="308.6" y="196" class="t" >GeSn</text>
<text x="429.3" y="195.5" class="t" >GeSn</text>
<text x="328.8" y="38.8" class="t" >Ge cap</text>
<text x="486.1" y="39.3" class="t" >Ge cap</text>
<text x="311.2" y="143.7" class="t" >low Sn</text>
<text x="323.2" y="157.9" class="t" >high Sn</text>
<text x="174.8" y="19.8" class="t" >max</text>
<text x="174.6" y="75" class="t" >min</text>
<text class="t" transform="translate(90.5,149.2) rotate(-90)">R = 0</text>
<text class="t" style="font-size:11.6px" transform="translate(139.2,127.3) rotate(45)">R = 1</text>
<rect x="175" y="25.00" width="19.3" height="3.82" fill="#e5471a"/>
<rect x="175" y="28.42" width="19.3" height="3.82" fill="#f27e1a"/>
<rect x="175" y="31.84" width="19.3" height="3.82" fill="#f6b420"/>
<rect x="175" y="35.25" width="19.3" height="3.82" fill="#efe21e"/>
<rect x="175" y="38.67" width="19.3" height="3.82" fill="#bcd242"/>
<rect x="175" y="42.09" width="19.3" height="3.82" fill="#86c070"/>
<rect x="175" y="45.51" width="19.3" height="3.82" fill="#66b296"/>
<rect x="175" y="48.93" width="19.3" height="3.82" fill="#59a3a6"/>
<rect x="175" y="52.35" width="19.3" height="3.82" fill="#5191b6"/>
<rect x="175" y="55.76" width="19.3" height="3.82" fill="#4878c4"/>
<rect x="175" y="59.18" width="19.3" height="3.82" fill="#3b5bcb"/>
<rect x="174.9" y="24.9" width="19.5" height="38.2" fill="none" stroke="#000" stroke-width="1.8"/>
<rect x="56.9" y="2.9" width="152" height="203.1" fill="none" stroke="#000" stroke-width="1.5"/>
<line x1="58.76" y1="206" x2="58.76" y2="204.4" stroke="#000" stroke-width="1.3"/>
<line x1="58.76" y1="2.9" x2="58.76" y2="4.5" stroke="#000" stroke-width="1.3"/>
<line x1="66.90" y1="206" x2="66.90" y2="202.8" stroke="#000" stroke-width="1.3"/>
<line x1="66.90" y1="2.9" x2="66.90" y2="6.1" stroke="#000" stroke-width="1.3"/>
<line x1="75.04" y1="206" x2="75.04" y2="204.4" stroke="#000" stroke-width="1.3"/>
<line x1="75.04" y1="2.9" x2="75.04" y2="4.5" stroke="#000" stroke-width="1.3"/>
<line x1="83.18" y1="206" x2="83.18" y2="204.4" stroke="#000" stroke-width="1.3"/>
<line x1="83.18" y1="2.9" x2="83.18" y2="4.5" stroke="#000" stroke-width="1.3"/>
<line x1="91.32" y1="206" x2="91.32" y2="204.4" stroke="#000" stroke-width="1.3"/>
<line x1="91.32" y1="2.9" x2="91.32" y2="4.5" stroke="#000" stroke-width="1.3"/>
<line x1="99.46" y1="206" x2="99.46" y2="204.4" stroke="#000" stroke-width="1.3"/>
<line x1="99.46" y1="2.9" x2="99.46" y2="4.5" stroke="#000" stroke-width="1.3"/>
<line x1="107.60" y1="206" x2="107.60" y2="202.8" stroke="#000" stroke-width="1.3"/>
<line x1="107.60" y1="2.9" x2="107.60" y2="6.1" stroke="#000" stroke-width="1.3"/>
<line x1="115.74" y1="206" x2="115.74" y2="204.4" stroke="#000" stroke-width="1.3"/>
<line x1="115.74" y1="2.9" x2="115.74" y2="4.5" stroke="#000" stroke-width="1.3"/>
<line x1="123.88" y1="206" x2="123.88" y2="204.4" stroke="#000" stroke-width="1.3"/>
<line x1="123.88" y1="2.9" x2="123.88" y2="4.5" stroke="#000" stroke-width="1.3"/>
<line x1="132.02" y1="206" x2="132.02" y2="204.4" stroke="#000" stroke-width="1.3"/>
<line x1="132.02" y1="2.9" x2="132.02" y2="4.5" stroke="#000" stroke-width="1.3"/>
<line x1="140.16" y1="206" x2="140.16" y2="204.4" stroke="#000" stroke-width="1.3"/>
<line x1="140.16" y1="2.9" x2="140.16" y2="4.5" stroke="#000" stroke-width="1.3"/>
<line x1="148.30" y1="206" x2="148.30" y2="202.8" stroke="#000" stroke-width="1.3"/>
<line x1="148.30" y1="2.9" x2="148.30" y2="6.1" stroke="#000" stroke-width="1.3"/>
<line x1="156.44" y1="206" x2="156.44" y2="204.4" stroke="#000" stroke-width="1.3"/>
<line x1="156.44" y1="2.9" x2="156.44" y2="4.5" stroke="#000" stroke-width="1.3"/>
<line x1="164.58" y1="206" x2="164.58" y2="204.4" stroke="#000" stroke-width="1.3"/>
<line x1="164.58" y1="2.9" x2="164.58" y2="4.5" stroke="#000" stroke-width="1.3"/>
<line x1="172.72" y1="206" x2="172.72" y2="204.4" stroke="#000" stroke-width="1.3"/>
<line x1="172.72" y1="2.9" x2="172.72" y2="4.5" stroke="#000" stroke-width="1.3"/>
<line x1="180.86" y1="206" x2="180.86" y2="204.4" stroke="#000" stroke-width="1.3"/>
<line x1="180.86" y1="2.9" x2="180.86" y2="4.5" stroke="#000" stroke-width="1.3"/>
<line x1="189.00" y1="206" x2="189.00" y2="202.8" stroke="#000" stroke-width="1.3"/>
<line x1="189.00" y1="2.9" x2="189.00" y2="6.1" stroke="#000" stroke-width="1.3"/>
<line x1="197.14" y1="206" x2="197.14" y2="204.4" stroke="#000" stroke-width="1.3"/>
<line x1="197.14" y1="2.9" x2="197.14" y2="4.5" stroke="#000" stroke-width="1.3"/>
<line x1="205.28" y1="206" x2="205.28" y2="204.4" stroke="#000" stroke-width="1.3"/>
<line x1="205.28" y1="2.9" x2="205.28" y2="4.5" stroke="#000" stroke-width="1.3"/>
<line x1="56.9" y1="10.90" x2="60.1" y2="10.90" stroke="#000" stroke-width="1.3"/>
<line x1="208.9" y1="10.90" x2="205.70000000000002" y2="10.90" stroke="#000" stroke-width="1.3"/>
<line x1="56.9" y1="22.46" x2="58.5" y2="22.46" stroke="#000" stroke-width="1.3"/>
<line x1="208.9" y1="22.46" x2="207.3" y2="22.46" stroke="#000" stroke-width="1.3"/>
<line x1="56.9" y1="34.02" x2="58.5" y2="34.02" stroke="#000" stroke-width="1.3"/>
<line x1="208.9" y1="34.02" x2="207.3" y2="34.02" stroke="#000" stroke-width="1.3"/>
<line x1="56.9" y1="45.58" x2="58.5" y2="45.58" stroke="#000" stroke-width="1.3"/>
<line x1="208.9" y1="45.58" x2="207.3" y2="45.58" stroke="#000" stroke-width="1.3"/>
<line x1="56.9" y1="57.14" x2="58.5" y2="57.14" stroke="#000" stroke-width="1.3"/>
<line x1="208.9" y1="57.14" x2="207.3" y2="57.14" stroke="#000" stroke-width="1.3"/>
<line x1="56.9" y1="68.70" x2="60.1" y2="68.70" stroke="#000" stroke-width="1.3"/>
<line x1="208.9" y1="68.70" x2="205.70000000000002" y2="68.70" stroke="#000" stroke-width="1.3"/>
<line x1="56.9" y1="80.26" x2="58.5" y2="80.26" stroke="#000" stroke-width="1.3"/>
<line x1="208.9" y1="80.26" x2="207.3" y2="80.26" stroke="#000" stroke-width="1.3"/>
<line x1="56.9" y1="91.82" x2="58.5" y2="91.82" stroke="#000" stroke-width="1.3"/>
<line x1="208.9" y1="91.82" x2="207.3" y2="91.82" stroke="#000" stroke-width="1.3"/>
<line x1="56.9" y1="103.38" x2="58.5" y2="103.38" stroke="#000" stroke-width="1.3"/>
<line x1="208.9" y1="103.38" x2="207.3" y2="103.38" stroke="#000" stroke-width="1.3"/>
<line x1="56.9" y1="114.94" x2="58.5" y2="114.94" stroke="#000" stroke-width="1.3"/>
<line x1="208.9" y1="114.94" x2="207.3" y2="114.94" stroke="#000" stroke-width="1.3"/>
<line x1="56.9" y1="126.50" x2="60.1" y2="126.50" stroke="#000" stroke-width="1.3"/>
<line x1="208.9" y1="126.50" x2="205.70000000000002" y2="126.50" stroke="#000" stroke-width="1.3"/>
<line x1="56.9" y1="138.06" x2="58.5" y2="138.06" stroke="#000" stroke-width="1.3"/>
<line x1="208.9" y1="138.06" x2="207.3" y2="138.06" stroke="#000" stroke-width="1.3"/>
<line x1="56.9" y1="149.62" x2="58.5" y2="149.62" stroke="#000" stroke-width="1.3"/>
<line x1="208.9" y1="149.62" x2="207.3" y2="149.62" stroke="#000" stroke-width="1.3"/>
<line x1="56.9" y1="161.18" x2="58.5" y2="161.18" stroke="#000" stroke-width="1.3"/>
<line x1="208.9" y1="161.18" x2="207.3" y2="161.18" stroke="#000" stroke-width="1.3"/>
<line x1="56.9" y1="172.74" x2="58.5" y2="172.74" stroke="#000" stroke-width="1.3"/>
<line x1="208.9" y1="172.74" x2="207.3" y2="172.74" stroke="#000" stroke-width="1.3"/>
<line x1="56.9" y1="184.30" x2="60.1" y2="184.30" stroke="#000" stroke-width="1.3"/>
<line x1="208.9" y1="184.30" x2="205.70000000000002" y2="184.30" stroke="#000" stroke-width="1.3"/>
<line x1="56.9" y1="195.86" x2="58.5" y2="195.86" stroke="#000" stroke-width="1.3"/>
<line x1="208.9" y1="195.86" x2="207.3" y2="195.86" stroke="#000" stroke-width="1.3"/>
<text x="66.9" y="219.2" text-anchor="middle" class="n">-31.5</text>
<text x="107.6" y="219.2" text-anchor="middle" class="n">-31.3</text>
<text x="148.3" y="219.2" text-anchor="middle" class="n">-31.1</text>
<text x="189.0" y="219.2" text-anchor="middle" class="n">-30.9</text>
<text x="104.3" y="244" class="ax">Q<tspan class="ss" dy="3.2">x</tspan><tspan dy="-3.2"> (nm</tspan><tspan class="ss" dy="-5.5">-1</tspan><tspan dy="5.5">)</tspan></text>
<rect x="216.9" y="2.9" width="152" height="203.1" fill="none" stroke="#000" stroke-width="1.5"/>
<line x1="218.76" y1="206" x2="218.76" y2="204.4" stroke="#000" stroke-width="1.3"/>
<line x1="218.76" y1="2.9" x2="218.76" y2="4.5" stroke="#000" stroke-width="1.3"/>
<line x1="226.90" y1="206" x2="226.90" y2="202.8" stroke="#000" stroke-width="1.3"/>
<line x1="226.90" y1="2.9" x2="226.90" y2="6.1" stroke="#000" stroke-width="1.3"/>
<line x1="235.04" y1="206" x2="235.04" y2="204.4" stroke="#000" stroke-width="1.3"/>
<line x1="235.04" y1="2.9" x2="235.04" y2="4.5" stroke="#000" stroke-width="1.3"/>
<line x1="243.18" y1="206" x2="243.18" y2="204.4" stroke="#000" stroke-width="1.3"/>
<line x1="243.18" y1="2.9" x2="243.18" y2="4.5" stroke="#000" stroke-width="1.3"/>
<line x1="251.32" y1="206" x2="251.32" y2="204.4" stroke="#000" stroke-width="1.3"/>
<line x1="251.32" y1="2.9" x2="251.32" y2="4.5" stroke="#000" stroke-width="1.3"/>
<line x1="259.46" y1="206" x2="259.46" y2="204.4" stroke="#000" stroke-width="1.3"/>
<line x1="259.46" y1="2.9" x2="259.46" y2="4.5" stroke="#000" stroke-width="1.3"/>
<line x1="267.60" y1="206" x2="267.60" y2="202.8" stroke="#000" stroke-width="1.3"/>
<line x1="267.60" y1="2.9" x2="267.60" y2="6.1" stroke="#000" stroke-width="1.3"/>
<line x1="275.74" y1="206" x2="275.74" y2="204.4" stroke="#000" stroke-width="1.3"/>
<line x1="275.74" y1="2.9" x2="275.74" y2="4.5" stroke="#000" stroke-width="1.3"/>
<line x1="283.88" y1="206" x2="283.88" y2="204.4" stroke="#000" stroke-width="1.3"/>
<line x1="283.88" y1="2.9" x2="283.88" y2="4.5" stroke="#000" stroke-width="1.3"/>
<line x1="292.02" y1="206" x2="292.02" y2="204.4" stroke="#000" stroke-width="1.3"/>
<line x1="292.02" y1="2.9" x2="292.02" y2="4.5" stroke="#000" stroke-width="1.3"/>
<line x1="300.16" y1="206" x2="300.16" y2="204.4" stroke="#000" stroke-width="1.3"/>
<line x1="300.16" y1="2.9" x2="300.16" y2="4.5" stroke="#000" stroke-width="1.3"/>
<line x1="308.30" y1="206" x2="308.30" y2="202.8" stroke="#000" stroke-width="1.3"/>
<line x1="308.30" y1="2.9" x2="308.30" y2="6.1" stroke="#000" stroke-width="1.3"/>
<line x1="316.44" y1="206" x2="316.44" y2="204.4" stroke="#000" stroke-width="1.3"/>
<line x1="316.44" y1="2.9" x2="316.44" y2="4.5" stroke="#000" stroke-width="1.3"/>
<line x1="324.58" y1="206" x2="324.58" y2="204.4" stroke="#000" stroke-width="1.3"/>
<line x1="324.58" y1="2.9" x2="324.58" y2="4.5" stroke="#000" stroke-width="1.3"/>
<line x1="332.72" y1="206" x2="332.72" y2="204.4" stroke="#000" stroke-width="1.3"/>
<line x1="332.72" y1="2.9" x2="332.72" y2="4.5" stroke="#000" stroke-width="1.3"/>
<line x1="340.86" y1="206" x2="340.86" y2="204.4" stroke="#000" stroke-width="1.3"/>
<line x1="340.86" y1="2.9" x2="340.86" y2="4.5" stroke="#000" stroke-width="1.3"/>
<line x1="349.00" y1="206" x2="349.00" y2="202.8" stroke="#000" stroke-width="1.3"/>
<line x1="349.00" y1="2.9" x2="349.00" y2="6.1" stroke="#000" stroke-width="1.3"/>
<line x1="357.14" y1="206" x2="357.14" y2="204.4" stroke="#000" stroke-width="1.3"/>
<line x1="357.14" y1="2.9" x2="357.14" y2="4.5" stroke="#000" stroke-width="1.3"/>
<line x1="365.28" y1="206" x2="365.28" y2="204.4" stroke="#000" stroke-width="1.3"/>
<line x1="365.28" y1="2.9" x2="365.28" y2="4.5" stroke="#000" stroke-width="1.3"/>
<line x1="216.9" y1="10.90" x2="220.1" y2="10.90" stroke="#000" stroke-width="1.3"/>
<line x1="368.9" y1="10.90" x2="365.7" y2="10.90" stroke="#000" stroke-width="1.3"/>
<line x1="216.9" y1="22.46" x2="218.5" y2="22.46" stroke="#000" stroke-width="1.3"/>
<line x1="368.9" y1="22.46" x2="367.29999999999995" y2="22.46" stroke="#000" stroke-width="1.3"/>
<line x1="216.9" y1="34.02" x2="218.5" y2="34.02" stroke="#000" stroke-width="1.3"/>
<line x1="368.9" y1="34.02" x2="367.29999999999995" y2="34.02" stroke="#000" stroke-width="1.3"/>
<line x1="216.9" y1="45.58" x2="218.5" y2="45.58" stroke="#000" stroke-width="1.3"/>
<line x1="368.9" y1="45.58" x2="367.29999999999995" y2="45.58" stroke="#000" stroke-width="1.3"/>
<line x1="216.9" y1="57.14" x2="218.5" y2="57.14" stroke="#000" stroke-width="1.3"/>
<line x1="368.9" y1="57.14" x2="367.29999999999995" y2="57.14" stroke="#000" stroke-width="1.3"/>
<line x1="216.9" y1="68.70" x2="220.1" y2="68.70" stroke="#000" stroke-width="1.3"/>
<line x1="368.9" y1="68.70" x2="365.7" y2="68.70" stroke="#000" stroke-width="1.3"/>
<line x1="216.9" y1="80.26" x2="218.5" y2="80.26" stroke="#000" stroke-width="1.3"/>
<line x1="368.9" y1="80.26" x2="367.29999999999995" y2="80.26" stroke="#000" stroke-width="1.3"/>
<line x1="216.9" y1="91.82" x2="218.5" y2="91.82" stroke="#000" stroke-width="1.3"/>
<line x1="368.9" y1="91.82" x2="367.29999999999995" y2="91.82" stroke="#000" stroke-width="1.3"/>
<line x1="216.9" y1="103.38" x2="218.5" y2="103.38" stroke="#000" stroke-width="1.3"/>
<line x1="368.9" y1="103.38" x2="367.29999999999995" y2="103.38" stroke="#000" stroke-width="1.3"/>
<line x1="216.9" y1="114.94" x2="218.5" y2="114.94" stroke="#000" stroke-width="1.3"/>
<line x1="368.9" y1="114.94" x2="367.29999999999995" y2="114.94" stroke="#000" stroke-width="1.3"/>
<line x1="216.9" y1="126.50" x2="220.1" y2="126.50" stroke="#000" stroke-width="1.3"/>
<line x1="368.9" y1="126.50" x2="365.7" y2="126.50" stroke="#000" stroke-width="1.3"/>
<line x1="216.9" y1="138.06" x2="218.5" y2="138.06" stroke="#000" stroke-width="1.3"/>
<line x1="368.9" y1="138.06" x2="367.29999999999995" y2="138.06" stroke="#000" stroke-width="1.3"/>
<line x1="216.9" y1="149.62" x2="218.5" y2="149.62" stroke="#000" stroke-width="1.3"/>
<line x1="368.9" y1="149.62" x2="367.29999999999995" y2="149.62" stroke="#000" stroke-width="1.3"/>
<line x1="216.9" y1="161.18" x2="218.5" y2="161.18" stroke="#000" stroke-width="1.3"/>
<line x1="368.9" y1="161.18" x2="367.29999999999995" y2="161.18" stroke="#000" stroke-width="1.3"/>
<line x1="216.9" y1="172.74" x2="218.5" y2="172.74" stroke="#000" stroke-width="1.3"/>
<line x1="368.9" y1="172.74" x2="367.29999999999995" y2="172.74" stroke="#000" stroke-width="1.3"/>
<line x1="216.9" y1="184.30" x2="220.1" y2="184.30" stroke="#000" stroke-width="1.3"/>
<line x1="368.9" y1="184.30" x2="365.7" y2="184.30" stroke="#000" stroke-width="1.3"/>
<line x1="216.9" y1="195.86" x2="218.5" y2="195.86" stroke="#000" stroke-width="1.3"/>
<line x1="368.9" y1="195.86" x2="367.29999999999995" y2="195.86" stroke="#000" stroke-width="1.3"/>
<text x="226.9" y="219.2" text-anchor="middle" class="n">-31.5</text>
<text x="267.6" y="219.2" text-anchor="middle" class="n">-31.3</text>
<text x="308.3" y="219.2" text-anchor="middle" class="n">-31.1</text>
<text x="349.0" y="219.2" text-anchor="middle" class="n">-30.9</text>
<text x="264.3" y="244" class="ax">Q<tspan class="ss" dy="3.2">x</tspan><tspan dy="-3.2"> (nm</tspan><tspan class="ss" dy="-5.5">-1</tspan><tspan dy="5.5">)</tspan></text>
<rect x="376.9" y="2.9" width="152" height="203.1" fill="none" stroke="#000" stroke-width="1.5"/>
<line x1="378.76" y1="206" x2="378.76" y2="204.4" stroke="#000" stroke-width="1.3"/>
<line x1="378.76" y1="2.9" x2="378.76" y2="4.5" stroke="#000" stroke-width="1.3"/>
<line x1="386.90" y1="206" x2="386.90" y2="202.8" stroke="#000" stroke-width="1.3"/>
<line x1="386.90" y1="2.9" x2="386.90" y2="6.1" stroke="#000" stroke-width="1.3"/>
<line x1="395.04" y1="206" x2="395.04" y2="204.4" stroke="#000" stroke-width="1.3"/>
<line x1="395.04" y1="2.9" x2="395.04" y2="4.5" stroke="#000" stroke-width="1.3"/>
<line x1="403.18" y1="206" x2="403.18" y2="204.4" stroke="#000" stroke-width="1.3"/>
<line x1="403.18" y1="2.9" x2="403.18" y2="4.5" stroke="#000" stroke-width="1.3"/>
<line x1="411.32" y1="206" x2="411.32" y2="204.4" stroke="#000" stroke-width="1.3"/>
<line x1="411.32" y1="2.9" x2="411.32" y2="4.5" stroke="#000" stroke-width="1.3"/>
<line x1="419.46" y1="206" x2="419.46" y2="204.4" stroke="#000" stroke-width="1.3"/>
<line x1="419.46" y1="2.9" x2="419.46" y2="4.5" stroke="#000" stroke-width="1.3"/>
<line x1="427.60" y1="206" x2="427.60" y2="202.8" stroke="#000" stroke-width="1.3"/>
<line x1="427.60" y1="2.9" x2="427.60" y2="6.1" stroke="#000" stroke-width="1.3"/>
<line x1="435.74" y1="206" x2="435.74" y2="204.4" stroke="#000" stroke-width="1.3"/>
<line x1="435.74" y1="2.9" x2="435.74" y2="4.5" stroke="#000" stroke-width="1.3"/>
<line x1="443.88" y1="206" x2="443.88" y2="204.4" stroke="#000" stroke-width="1.3"/>
<line x1="443.88" y1="2.9" x2="443.88" y2="4.5" stroke="#000" stroke-width="1.3"/>
<line x1="452.02" y1="206" x2="452.02" y2="204.4" stroke="#000" stroke-width="1.3"/>
<line x1="452.02" y1="2.9" x2="452.02" y2="4.5" stroke="#000" stroke-width="1.3"/>
<line x1="460.16" y1="206" x2="460.16" y2="204.4" stroke="#000" stroke-width="1.3"/>
<line x1="460.16" y1="2.9" x2="460.16" y2="4.5" stroke="#000" stroke-width="1.3"/>
<line x1="468.30" y1="206" x2="468.30" y2="202.8" stroke="#000" stroke-width="1.3"/>
<line x1="468.30" y1="2.9" x2="468.30" y2="6.1" stroke="#000" stroke-width="1.3"/>
<line x1="476.44" y1="206" x2="476.44" y2="204.4" stroke="#000" stroke-width="1.3"/>
<line x1="476.44" y1="2.9" x2="476.44" y2="4.5" stroke="#000" stroke-width="1.3"/>
<line x1="484.58" y1="206" x2="484.58" y2="204.4" stroke="#000" stroke-width="1.3"/>
<line x1="484.58" y1="2.9" x2="484.58" y2="4.5" stroke="#000" stroke-width="1.3"/>
<line x1="492.72" y1="206" x2="492.72" y2="204.4" stroke="#000" stroke-width="1.3"/>
<line x1="492.72" y1="2.9" x2="492.72" y2="4.5" stroke="#000" stroke-width="1.3"/>
<line x1="500.86" y1="206" x2="500.86" y2="204.4" stroke="#000" stroke-width="1.3"/>
<line x1="500.86" y1="2.9" x2="500.86" y2="4.5" stroke="#000" stroke-width="1.3"/>
<line x1="509.00" y1="206" x2="509.00" y2="202.8" stroke="#000" stroke-width="1.3"/>
<line x1="509.00" y1="2.9" x2="509.00" y2="6.1" stroke="#000" stroke-width="1.3"/>
<line x1="517.14" y1="206" x2="517.14" y2="204.4" stroke="#000" stroke-width="1.3"/>
<line x1="517.14" y1="2.9" x2="517.14" y2="4.5" stroke="#000" stroke-width="1.3"/>
<line x1="525.28" y1="206" x2="525.28" y2="204.4" stroke="#000" stroke-width="1.3"/>
<line x1="525.28" y1="2.9" x2="525.28" y2="4.5" stroke="#000" stroke-width="1.3"/>
<line x1="376.9" y1="10.90" x2="380.09999999999997" y2="10.90" stroke="#000" stroke-width="1.3"/>
<line x1="528.9" y1="10.90" x2="525.6999999999999" y2="10.90" stroke="#000" stroke-width="1.3"/>
<line x1="376.9" y1="22.46" x2="378.5" y2="22.46" stroke="#000" stroke-width="1.3"/>
<line x1="528.9" y1="22.46" x2="527.3" y2="22.46" stroke="#000" stroke-width="1.3"/>
<line x1="376.9" y1="34.02" x2="378.5" y2="34.02" stroke="#000" stroke-width="1.3"/>
<line x1="528.9" y1="34.02" x2="527.3" y2="34.02" stroke="#000" stroke-width="1.3"/>
<line x1="376.9" y1="45.58" x2="378.5" y2="45.58" stroke="#000" stroke-width="1.3"/>
<line x1="528.9" y1="45.58" x2="527.3" y2="45.58" stroke="#000" stroke-width="1.3"/>
<line x1="376.9" y1="57.14" x2="378.5" y2="57.14" stroke="#000" stroke-width="1.3"/>
<line x1="528.9" y1="57.14" x2="527.3" y2="57.14" stroke="#000" stroke-width="1.3"/>
<line x1="376.9" y1="68.70" x2="380.09999999999997" y2="68.70" stroke="#000" stroke-width="1.3"/>
<line x1="528.9" y1="68.70" x2="525.6999999999999" y2="68.70" stroke="#000" stroke-width="1.3"/>
<line x1="376.9" y1="80.26" x2="378.5" y2="80.26" stroke="#000" stroke-width="1.3"/>
<line x1="528.9" y1="80.26" x2="527.3" y2="80.26" stroke="#000" stroke-width="1.3"/>
<line x1="376.9" y1="91.82" x2="378.5" y2="91.82" stroke="#000" stroke-width="1.3"/>
<line x1="528.9" y1="91.82" x2="527.3" y2="91.82" stroke="#000" stroke-width="1.3"/>
<line x1="376.9" y1="103.38" x2="378.5" y2="103.38" stroke="#000" stroke-width="1.3"/>
<line x1="528.9" y1="103.38" x2="527.3" y2="103.38" stroke="#000" stroke-width="1.3"/>
<line x1="376.9" y1="114.94" x2="378.5" y2="114.94" stroke="#000" stroke-width="1.3"/>
<line x1="528.9" y1="114.94" x2="527.3" y2="114.94" stroke="#000" stroke-width="1.3"/>
<line x1="376.9" y1="126.50" x2="380.09999999999997" y2="126.50" stroke="#000" stroke-width="1.3"/>
<line x1="528.9" y1="126.50" x2="525.6999999999999" y2="126.50" stroke="#000" stroke-width="1.3"/>
<line x1="376.9" y1="138.06" x2="378.5" y2="138.06" stroke="#000" stroke-width="1.3"/>
<line x1="528.9" y1="138.06" x2="527.3" y2="138.06" stroke="#000" stroke-width="1.3"/>
<line x1="376.9" y1="149.62" x2="378.5" y2="149.62" stroke="#000" stroke-width="1.3"/>
<line x1="528.9" y1="149.62" x2="527.3" y2="149.62" stroke="#000" stroke-width="1.3"/>
<line x1="376.9" y1="161.18" x2="378.5" y2="161.18" stroke="#000" stroke-width="1.3"/>
<line x1="528.9" y1="161.18" x2="527.3" y2="161.18" stroke="#000" stroke-width="1.3"/>
<line x1="376.9" y1="172.74" x2="378.5" y2="172.74" stroke="#000" stroke-width="1.3"/>
<line x1="528.9" y1="172.74" x2="527.3" y2="172.74" stroke="#000" stroke-width="1.3"/>
<line x1="376.9" y1="184.30" x2="380.09999999999997" y2="184.30" stroke="#000" stroke-width="1.3"/>
<line x1="528.9" y1="184.30" x2="525.6999999999999" y2="184.30" stroke="#000" stroke-width="1.3"/>
<line x1="376.9" y1="195.86" x2="378.5" y2="195.86" stroke="#000" stroke-width="1.3"/>
<line x1="528.9" y1="195.86" x2="527.3" y2="195.86" stroke="#000" stroke-width="1.3"/>
<text x="386.9" y="219.2" text-anchor="middle" class="n">-31.5</text>
<text x="427.6" y="219.2" text-anchor="middle" class="n">-31.3</text>
<text x="468.3" y="219.2" text-anchor="middle" class="n">-31.1</text>
<text x="509.0" y="219.2" text-anchor="middle" class="n">-30.9</text>
<text x="424.3" y="244" class="ax">Q<tspan class="ss" dy="3.2">x</tspan><tspan dy="-3.2"> (nm</tspan><tspan class="ss" dy="-5.5">-1</tspan><tspan dy="5.5">)</tspan></text>
<text x="52.8" y="15.2" text-anchor="end" class="n">44.9</text>
<text x="52.8" y="73.0" text-anchor="end" class="n">44.5</text>
<text x="52.8" y="130.8" text-anchor="end" class="n">44.1</text>
<text x="52.8" y="188.6" text-anchor="end" class="n">43.7</text>
<text class="ax" letter-spacing="0.5" transform="translate(19.6,133.6) rotate(-90)">Q<tspan class="ss" dy="3.2">z</tspan><tspan dy="-3.2"> (nm</tspan><tspan class="ss" dy="-5.5">-1</tspan><tspan dy="5.5">)</tspan></text>
</svg>
</body></html>
